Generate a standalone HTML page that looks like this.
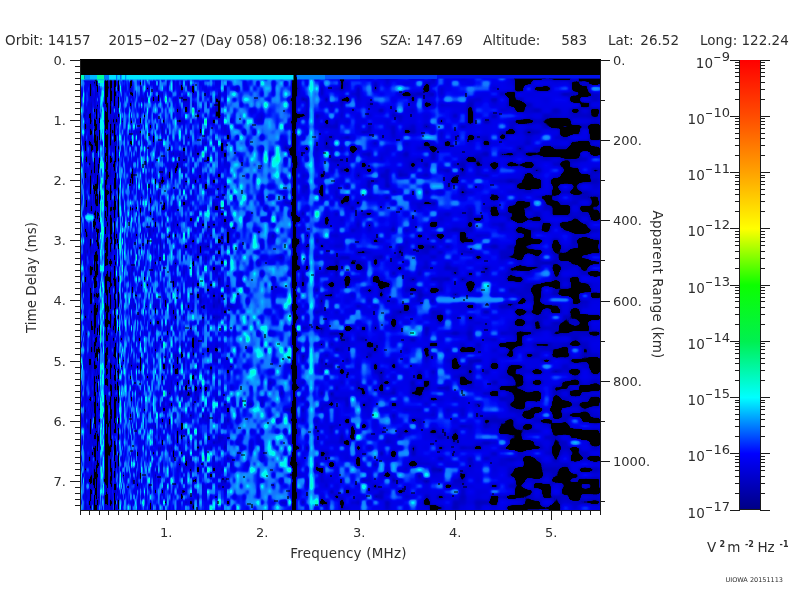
<!DOCTYPE html>
<html><head><meta charset="utf-8"><title>MARSIS AIS Ionogram</title>
<style>html,body{margin:0;padding:0;background:#fff;overflow:hidden}svg{display:block}text{font-family:'DejaVu Sans','Liberation Sans',sans-serif;fill:#2e2e2e}</style></head>
<body>
<svg width="800" height="600" viewBox="0 0 800 600">
<rect width="800" height="600" fill="#fff"/>
<rect x="80" y="59" width="521" height="452" fill="#000"/>
<defs>
<filter id="f0" filterUnits="userSpaceOnUse" x="80" y="75" width="46" height="436" color-interpolation-filters="sRGB"><feGaussianBlur stdDeviation="0.3 1.8" result="b"/><feComponentTransfer in="b"><feFuncR type="table" tableValues="0 0 0 0 0 0 0 0 0 0 0 0 0 0 0 0 0 0 0 0 0 0 0 0 0 0 0 0 0 0 0 0 0 0 0 0 0 0 0 0 0 0 0 0 0 0 0 0 0 0 0 0 0 0 0 0 0 0 0 0 0 0 0 0 0 0 0 0 0 0 0 0 0 0 0 0 0 0 0 0 0 0 0 0 0 0 0 0 0 0 0 0 0 0 0 0 0 0 0 0 0 0 0 0 0 0 0 0 0 0 0 0 0 0 0 0 0.002 0.004 0.006 0.008 0.01 0.012 0.014 0.016 0.018 0.02 0.025 0.029 0.034 0.038 0.043 0.048 0.052 0.057 0.062 0.066 0.071 0.075 0.08 0.079 0.078 0.076 0.075 0.074 0.073 0.072 0.071 0.069 0.068 0.067 0.066 0.065 0.064 0.062 0.061 0.06 0.054 0.048 0.042 0.036 0.03 0.024 0.018 0.012 0.006 0 0 0 0 0 0 0 0 0 0 0 0 0 0 0 0 0 0 0 0 0 0 0 0 0 0 0 0 0 0 0 0 0 0 0 0 0 0 0 0 0 0 0 0 0 0 0 0 0 0 0 0 0 0 0 0"/><feFuncG type="table" tableValues="0 0 0 0 0 0 0 0 0 0 0 0 0 0 0 0 0 0 0 0 0 0 0 0 0 0 0 0 0 0 0 0 0 0 0 0 0 0 0 0 0 0 0 0 0 0 0 0 0 0 0 0 0 0 0 0 0 0 0 0 0 0 0 0 0 0 0 0 0 0 0 0 0 0 0 0 0 0 0 0 0 0 0 0 0 0 0 0 0 0 0 0 0 0 0 0 0 0 0 0 0 0 0 0 0 0 0.006 0.012 0.018 0.024 0.03 0.036 0.042 0.048 0.054 0.06 0.074 0.088 0.102 0.116 0.13 0.144 0.158 0.172 0.186 0.2 0.219 0.238 0.258 0.277 0.296 0.315 0.335 0.354 0.373 0.392 0.412 0.431 0.45 0.459 0.468 0.476 0.485 0.494 0.503 0.512 0.521 0.529 0.538 0.547 0.556 0.565 0.574 0.582 0.591 0.6 0.62 0.64 0.66 0.68 0.7 0.72 0.74 0.76 0.78 0.8 0.838 0.875 0.913 0.95 0.952 0.955 0.957 0.96 0.962 0.964 0.967 0.969 0.971 0.974 0.976 0.979 0.981 0.983 0.986 0.988 0.99 0.993 0.995 0.998 1 1 1 1 1 1 1 1 1 1 1 1 1 1 1 1 1 1 1 1 1 1 1 1 1 1 1 1 1 1 1"/><feFuncB type="table" tableValues="0 0 0 0 0 0 0 0 0 0 0 0 0 0 0 0 0 0 0 0 0 0 0 0 0 0 0 0 0 0 0 0 0 0 0 0 0 0 0 0 0 0 0 0 0 0 0 0 0 0 0 0 0 0 0 0 0 0 0 0 0 0 0 0.185 0.555 0.743 0.75 0.757 0.764 0.771 0.778 0.784 0.791 0.798 0.805 0.812 0.819 0.825 0.832 0.839 0.846 0.853 0.86 0.866 0.873 0.88 0.883 0.886 0.889 0.892 0.895 0.898 0.901 0.904 0.907 0.91 0.913 0.916 0.919 0.922 0.925 0.928 0.931 0.934 0.937 0.94 0.944 0.948 0.952 0.956 0.96 0.964 0.968 0.972 0.976 0.98 0.982 0.984 0.986 0.988 0.99 0.992 0.994 0.996 0.998 1 1 1 1 1 1 1 1 1 1 1 1 1 1 1 1 1 1 1 1 1 1 1 1 1 1 1 1 1 1 1 1 1 1 1 1 1 1 1 1 1 1 1 1 1 0.993 0.986 0.979 0.971 0.964 0.957 0.95 0.943 0.936 0.929 0.921 0.914 0.907 0.9 0.893 0.886 0.879 0.871 0.864 0.857 0.85 0.842 0.833 0.825 0.817 0.808 0.8 0.792 0.783 0.775 0.767 0.758 0.75 0.742 0.733 0.725 0.717 0.708 0.7 0.692 0.683 0.675 0.667 0.658 0.65 0.642 0.633 0.625 0.617 0.608 0.6"/><feFuncA type="linear" slope="0" intercept="1"/></feComponentTransfer></filter>
<filter id="f1" filterUnits="userSpaceOnUse" x="126" y="75" width="54" height="436" color-interpolation-filters="sRGB"><feGaussianBlur stdDeviation="0.45 1.8" result="b"/><feComponentTransfer in="b"><feFuncR type="table" tableValues="0 0 0 0 0 0 0 0 0 0 0 0 0 0 0 0 0 0 0 0 0 0 0 0 0 0 0 0 0 0 0 0 0 0 0 0 0 0 0 0 0 0 0 0 0 0 0 0 0 0 0 0 0 0 0 0 0 0 0 0 0 0 0 0 0 0 0 0 0 0 0 0 0 0 0 0 0 0 0 0 0 0 0 0 0 0 0 0 0 0 0 0 0 0 0 0 0 0 0 0 0 0 0 0 0 0 0 0 0 0 0 0 0 0 0 0 0.002 0.004 0.006 0.008 0.01 0.012 0.014 0.016 0.018 0.02 0.025 0.029 0.034 0.038 0.043 0.048 0.052 0.057 0.062 0.066 0.071 0.075 0.08 0.079 0.078 0.076 0.075 0.074 0.073 0.072 0.071 0.069 0.068 0.067 0.066 0.065 0.064 0.062 0.061 0.06 0.054 0.048 0.042 0.036 0.03 0.024 0.018 0.012 0.006 0 0 0 0 0 0 0 0 0 0 0 0 0 0 0 0 0 0 0 0 0 0 0 0 0 0 0 0 0 0 0 0 0 0 0 0 0 0 0 0 0 0 0 0 0 0 0 0 0 0 0 0 0 0 0 0"/><feFuncG type="table" tableValues="0 0 0 0 0 0 0 0 0 0 0 0 0 0 0 0 0 0 0 0 0 0 0 0 0 0 0 0 0 0 0 0 0 0 0 0 0 0 0 0 0 0 0 0 0 0 0 0 0 0 0 0 0 0 0 0 0 0 0 0 0 0 0 0 0 0 0 0 0 0 0 0 0 0 0 0 0 0 0 0 0 0 0 0 0 0 0 0 0 0 0 0 0 0 0 0 0 0 0 0 0 0 0 0 0 0 0.006 0.012 0.018 0.024 0.03 0.036 0.042 0.048 0.054 0.06 0.074 0.088 0.102 0.116 0.13 0.144 0.158 0.172 0.186 0.2 0.219 0.238 0.258 0.277 0.296 0.315 0.335 0.354 0.373 0.392 0.412 0.431 0.45 0.459 0.468 0.476 0.485 0.494 0.503 0.512 0.521 0.529 0.538 0.547 0.556 0.565 0.574 0.582 0.591 0.6 0.62 0.64 0.66 0.68 0.7 0.72 0.74 0.76 0.78 0.8 0.838 0.875 0.913 0.95 0.952 0.955 0.957 0.96 0.962 0.964 0.967 0.969 0.971 0.974 0.976 0.979 0.981 0.983 0.986 0.988 0.99 0.993 0.995 0.998 1 1 1 1 1 1 1 1 1 1 1 1 1 1 1 1 1 1 1 1 1 1 1 1 1 1 1 1 1 1 1"/><feFuncB type="table" tableValues="0 0 0 0 0 0 0 0 0 0 0 0 0 0 0 0 0 0 0 0 0 0 0 0 0 0 0 0 0 0 0 0 0 0 0 0 0 0 0 0 0 0 0 0 0 0 0 0 0 0 0 0 0 0 0 0 0 0 0 0 0 0 0 0.185 0.555 0.743 0.75 0.757 0.764 0.771 0.778 0.784 0.791 0.798 0.805 0.812 0.819 0.825 0.832 0.839 0.846 0.853 0.86 0.866 0.873 0.88 0.883 0.886 0.889 0.892 0.895 0.898 0.901 0.904 0.907 0.91 0.913 0.916 0.919 0.922 0.925 0.928 0.931 0.934 0.937 0.94 0.944 0.948 0.952 0.956 0.96 0.964 0.968 0.972 0.976 0.98 0.982 0.984 0.986 0.988 0.99 0.992 0.994 0.996 0.998 1 1 1 1 1 1 1 1 1 1 1 1 1 1 1 1 1 1 1 1 1 1 1 1 1 1 1 1 1 1 1 1 1 1 1 1 1 1 1 1 1 1 1 1 1 0.993 0.986 0.979 0.971 0.964 0.957 0.95 0.943 0.936 0.929 0.921 0.914 0.907 0.9 0.893 0.886 0.879 0.871 0.864 0.857 0.85 0.842 0.833 0.825 0.817 0.808 0.8 0.792 0.783 0.775 0.767 0.758 0.75 0.742 0.733 0.725 0.717 0.708 0.7 0.692 0.683 0.675 0.667 0.658 0.65 0.642 0.633 0.625 0.617 0.608 0.6"/><feFuncA type="linear" slope="0" intercept="1"/></feComponentTransfer></filter>
<filter id="f2" filterUnits="userSpaceOnUse" x="180" y="75" width="50" height="436" color-interpolation-filters="sRGB"><feGaussianBlur stdDeviation="0.65 1.8" result="b"/><feComponentTransfer in="b"><feFuncR type="table" tableValues="0 0 0 0 0 0 0 0 0 0 0 0 0 0 0 0 0 0 0 0 0 0 0 0 0 0 0 0 0 0 0 0 0 0 0 0 0 0 0 0 0 0 0 0 0 0 0 0 0 0 0 0 0 0 0 0 0 0 0 0 0 0 0 0 0 0 0 0 0 0 0 0 0 0 0 0 0 0 0 0 0 0 0 0 0 0 0 0 0 0 0 0 0 0 0 0 0 0 0 0 0 0 0 0 0 0 0 0 0 0 0 0 0 0 0 0 0.002 0.004 0.006 0.008 0.01 0.012 0.014 0.016 0.018 0.02 0.025 0.029 0.034 0.038 0.043 0.048 0.052 0.057 0.062 0.066 0.071 0.075 0.08 0.079 0.078 0.076 0.075 0.074 0.073 0.072 0.071 0.069 0.068 0.067 0.066 0.065 0.064 0.062 0.061 0.06 0.054 0.048 0.042 0.036 0.03 0.024 0.018 0.012 0.006 0 0 0 0 0 0 0 0 0 0 0 0 0 0 0 0 0 0 0 0 0 0 0 0 0 0 0 0 0 0 0 0 0 0 0 0 0 0 0 0 0 0 0 0 0 0 0 0 0 0 0 0 0 0 0 0"/><feFuncG type="table" tableValues="0 0 0 0 0 0 0 0 0 0 0 0 0 0 0 0 0 0 0 0 0 0 0 0 0 0 0 0 0 0 0 0 0 0 0 0 0 0 0 0 0 0 0 0 0 0 0 0 0 0 0 0 0 0 0 0 0 0 0 0 0 0 0 0 0 0 0 0 0 0 0 0 0 0 0 0 0 0 0 0 0 0 0 0 0 0 0 0 0 0 0 0 0 0 0 0 0 0 0 0 0 0 0 0 0 0 0.006 0.012 0.018 0.024 0.03 0.036 0.042 0.048 0.054 0.06 0.074 0.088 0.102 0.116 0.13 0.144 0.158 0.172 0.186 0.2 0.219 0.238 0.258 0.277 0.296 0.315 0.335 0.354 0.373 0.392 0.412 0.431 0.45 0.459 0.468 0.476 0.485 0.494 0.503 0.512 0.521 0.529 0.538 0.547 0.556 0.565 0.574 0.582 0.591 0.6 0.62 0.64 0.66 0.68 0.7 0.72 0.74 0.76 0.78 0.8 0.838 0.875 0.913 0.95 0.952 0.955 0.957 0.96 0.962 0.964 0.967 0.969 0.971 0.974 0.976 0.979 0.981 0.983 0.986 0.988 0.99 0.993 0.995 0.998 1 1 1 1 1 1 1 1 1 1 1 1 1 1 1 1 1 1 1 1 1 1 1 1 1 1 1 1 1 1 1"/><feFuncB type="table" tableValues="0 0 0 0 0 0 0 0 0 0 0 0 0 0 0 0 0 0 0 0 0 0 0 0 0 0 0 0 0 0 0 0 0 0 0 0 0 0 0 0 0 0 0 0 0 0 0 0 0 0 0 0 0 0 0 0 0 0 0 0 0 0 0 0.185 0.555 0.743 0.75 0.757 0.764 0.771 0.778 0.784 0.791 0.798 0.805 0.812 0.819 0.825 0.832 0.839 0.846 0.853 0.86 0.866 0.873 0.88 0.883 0.886 0.889 0.892 0.895 0.898 0.901 0.904 0.907 0.91 0.913 0.916 0.919 0.922 0.925 0.928 0.931 0.934 0.937 0.94 0.944 0.948 0.952 0.956 0.96 0.964 0.968 0.972 0.976 0.98 0.982 0.984 0.986 0.988 0.99 0.992 0.994 0.996 0.998 1 1 1 1 1 1 1 1 1 1 1 1 1 1 1 1 1 1 1 1 1 1 1 1 1 1 1 1 1 1 1 1 1 1 1 1 1 1 1 1 1 1 1 1 1 0.993 0.986 0.979 0.971 0.964 0.957 0.95 0.943 0.936 0.929 0.921 0.914 0.907 0.9 0.893 0.886 0.879 0.871 0.864 0.857 0.85 0.842 0.833 0.825 0.817 0.808 0.8 0.792 0.783 0.775 0.767 0.758 0.75 0.742 0.733 0.725 0.717 0.708 0.7 0.692 0.683 0.675 0.667 0.658 0.65 0.642 0.633 0.625 0.617 0.608 0.6"/><feFuncA type="linear" slope="0" intercept="1"/></feComponentTransfer></filter>
<filter id="f3" filterUnits="userSpaceOnUse" x="230" y="75" width="67" height="436" color-interpolation-filters="sRGB"><feGaussianBlur stdDeviation="0.95 1.8" result="b"/><feComponentTransfer in="b"><feFuncR type="table" tableValues="0 0 0 0 0 0 0 0 0 0 0 0 0 0 0 0 0 0 0 0 0 0 0 0 0 0 0 0 0 0 0 0 0 0 0 0 0 0 0 0 0 0 0 0 0 0 0 0 0 0 0 0 0 0 0 0 0 0 0 0 0 0 0 0 0 0 0 0 0 0 0 0 0 0 0 0 0 0 0 0 0 0 0 0 0 0 0 0 0 0 0 0 0 0 0 0 0 0 0 0 0 0 0 0 0 0 0 0 0 0 0 0 0 0 0 0 0.002 0.004 0.006 0.008 0.01 0.012 0.014 0.016 0.018 0.02 0.025 0.029 0.034 0.038 0.043 0.048 0.052 0.057 0.062 0.066 0.071 0.075 0.08 0.079 0.078 0.076 0.075 0.074 0.073 0.072 0.071 0.069 0.068 0.067 0.066 0.065 0.064 0.062 0.061 0.06 0.054 0.048 0.042 0.036 0.03 0.024 0.018 0.012 0.006 0 0 0 0 0 0 0 0 0 0 0 0 0 0 0 0 0 0 0 0 0 0 0 0 0 0 0 0 0 0 0 0 0 0 0 0 0 0 0 0 0 0 0 0 0 0 0 0 0 0 0 0 0 0 0 0"/><feFuncG type="table" tableValues="0 0 0 0 0 0 0 0 0 0 0 0 0 0 0 0 0 0 0 0 0 0 0 0 0 0 0 0 0 0 0 0 0 0 0 0 0 0 0 0 0 0 0 0 0 0 0 0 0 0 0 0 0 0 0 0 0 0 0 0 0 0 0 0 0 0 0 0 0 0 0 0 0 0 0 0 0 0 0 0 0 0 0 0 0 0 0 0 0 0 0 0 0 0 0 0 0 0 0 0 0 0 0 0 0 0 0.006 0.012 0.018 0.024 0.03 0.036 0.042 0.048 0.054 0.06 0.074 0.088 0.102 0.116 0.13 0.144 0.158 0.172 0.186 0.2 0.219 0.238 0.258 0.277 0.296 0.315 0.335 0.354 0.373 0.392 0.412 0.431 0.45 0.459 0.468 0.476 0.485 0.494 0.503 0.512 0.521 0.529 0.538 0.547 0.556 0.565 0.574 0.582 0.591 0.6 0.62 0.64 0.66 0.68 0.7 0.72 0.74 0.76 0.78 0.8 0.838 0.875 0.913 0.95 0.952 0.955 0.957 0.96 0.962 0.964 0.967 0.969 0.971 0.974 0.976 0.979 0.981 0.983 0.986 0.988 0.99 0.993 0.995 0.998 1 1 1 1 1 1 1 1 1 1 1 1 1 1 1 1 1 1 1 1 1 1 1 1 1 1 1 1 1 1 1"/><feFuncB type="table" tableValues="0 0 0 0 0 0 0 0 0 0 0 0 0 0 0 0 0 0 0 0 0 0 0 0 0 0 0 0 0 0 0 0 0 0 0 0 0 0 0 0 0 0 0 0 0 0 0 0 0 0 0 0 0 0 0 0 0 0 0 0 0 0 0 0.185 0.555 0.743 0.75 0.757 0.764 0.771 0.778 0.784 0.791 0.798 0.805 0.812 0.819 0.825 0.832 0.839 0.846 0.853 0.86 0.866 0.873 0.88 0.883 0.886 0.889 0.892 0.895 0.898 0.901 0.904 0.907 0.91 0.913 0.916 0.919 0.922 0.925 0.928 0.931 0.934 0.937 0.94 0.944 0.948 0.952 0.956 0.96 0.964 0.968 0.972 0.976 0.98 0.982 0.984 0.986 0.988 0.99 0.992 0.994 0.996 0.998 1 1 1 1 1 1 1 1 1 1 1 1 1 1 1 1 1 1 1 1 1 1 1 1 1 1 1 1 1 1 1 1 1 1 1 1 1 1 1 1 1 1 1 1 1 0.993 0.986 0.979 0.971 0.964 0.957 0.95 0.943 0.936 0.929 0.921 0.914 0.907 0.9 0.893 0.886 0.879 0.871 0.864 0.857 0.85 0.842 0.833 0.825 0.817 0.808 0.8 0.792 0.783 0.775 0.767 0.758 0.75 0.742 0.733 0.725 0.717 0.708 0.7 0.692 0.683 0.675 0.667 0.658 0.65 0.642 0.633 0.625 0.617 0.608 0.6"/><feFuncA type="linear" slope="0" intercept="1"/></feComponentTransfer></filter>
<filter id="f4" filterUnits="userSpaceOnUse" x="297" y="75" width="63" height="436" color-interpolation-filters="sRGB"><feGaussianBlur stdDeviation="1.2 1.8" result="b"/><feComponentTransfer in="b"><feFuncR type="table" tableValues="0 0 0 0 0 0 0 0 0 0 0 0 0 0 0 0 0 0 0 0 0 0 0 0 0 0 0 0 0 0 0 0 0 0 0 0 0 0 0 0 0 0 0 0 0 0 0 0 0 0 0 0 0 0 0 0 0 0 0 0 0 0 0 0 0 0 0 0 0 0 0 0 0 0 0 0 0 0 0 0 0 0 0 0 0 0 0 0 0 0 0 0 0 0 0 0 0 0 0 0 0 0 0 0 0 0 0 0 0 0 0 0 0 0 0 0 0.002 0.004 0.006 0.008 0.01 0.012 0.014 0.016 0.018 0.02 0.025 0.029 0.034 0.038 0.043 0.048 0.052 0.057 0.062 0.066 0.071 0.075 0.08 0.079 0.078 0.076 0.075 0.074 0.073 0.072 0.071 0.069 0.068 0.067 0.066 0.065 0.064 0.062 0.061 0.06 0.054 0.048 0.042 0.036 0.03 0.024 0.018 0.012 0.006 0 0 0 0 0 0 0 0 0 0 0 0 0 0 0 0 0 0 0 0 0 0 0 0 0 0 0 0 0 0 0 0 0 0 0 0 0 0 0 0 0 0 0 0 0 0 0 0 0 0 0 0 0 0 0 0"/><feFuncG type="table" tableValues="0 0 0 0 0 0 0 0 0 0 0 0 0 0 0 0 0 0 0 0 0 0 0 0 0 0 0 0 0 0 0 0 0 0 0 0 0 0 0 0 0 0 0 0 0 0 0 0 0 0 0 0 0 0 0 0 0 0 0 0 0 0 0 0 0 0 0 0 0 0 0 0 0 0 0 0 0 0 0 0 0 0 0 0 0 0 0 0 0 0 0 0 0 0 0 0 0 0 0 0 0 0 0 0 0 0 0.006 0.012 0.018 0.024 0.03 0.036 0.042 0.048 0.054 0.06 0.074 0.088 0.102 0.116 0.13 0.144 0.158 0.172 0.186 0.2 0.219 0.238 0.258 0.277 0.296 0.315 0.335 0.354 0.373 0.392 0.412 0.431 0.45 0.459 0.468 0.476 0.485 0.494 0.503 0.512 0.521 0.529 0.538 0.547 0.556 0.565 0.574 0.582 0.591 0.6 0.62 0.64 0.66 0.68 0.7 0.72 0.74 0.76 0.78 0.8 0.838 0.875 0.913 0.95 0.952 0.955 0.957 0.96 0.962 0.964 0.967 0.969 0.971 0.974 0.976 0.979 0.981 0.983 0.986 0.988 0.99 0.993 0.995 0.998 1 1 1 1 1 1 1 1 1 1 1 1 1 1 1 1 1 1 1 1 1 1 1 1 1 1 1 1 1 1 1"/><feFuncB type="table" tableValues="0 0 0 0 0 0 0 0 0 0 0 0 0 0 0 0 0 0 0 0 0 0 0 0 0 0 0 0 0 0 0 0 0 0 0 0 0 0 0 0 0 0 0 0 0 0 0 0 0 0 0 0 0 0 0 0 0 0 0 0 0 0 0 0.185 0.555 0.743 0.75 0.757 0.764 0.771 0.778 0.784 0.791 0.798 0.805 0.812 0.819 0.825 0.832 0.839 0.846 0.853 0.86 0.866 0.873 0.88 0.883 0.886 0.889 0.892 0.895 0.898 0.901 0.904 0.907 0.91 0.913 0.916 0.919 0.922 0.925 0.928 0.931 0.934 0.937 0.94 0.944 0.948 0.952 0.956 0.96 0.964 0.968 0.972 0.976 0.98 0.982 0.984 0.986 0.988 0.99 0.992 0.994 0.996 0.998 1 1 1 1 1 1 1 1 1 1 1 1 1 1 1 1 1 1 1 1 1 1 1 1 1 1 1 1 1 1 1 1 1 1 1 1 1 1 1 1 1 1 1 1 1 0.993 0.986 0.979 0.971 0.964 0.957 0.95 0.943 0.936 0.929 0.921 0.914 0.907 0.9 0.893 0.886 0.879 0.871 0.864 0.857 0.85 0.842 0.833 0.825 0.817 0.808 0.8 0.792 0.783 0.775 0.767 0.758 0.75 0.742 0.733 0.725 0.717 0.708 0.7 0.692 0.683 0.675 0.667 0.658 0.65 0.642 0.633 0.625 0.617 0.608 0.6"/><feFuncA type="linear" slope="0" intercept="1"/></feComponentTransfer></filter>
<filter id="f5" filterUnits="userSpaceOnUse" x="360" y="75" width="80" height="436" color-interpolation-filters="sRGB"><feGaussianBlur stdDeviation="1.5 1.8" result="b"/><feComponentTransfer in="b"><feFuncR type="table" tableValues="0 0 0 0 0 0 0 0 0 0 0 0 0 0 0 0 0 0 0 0 0 0 0 0 0 0 0 0 0 0 0 0 0 0 0 0 0 0 0 0 0 0 0 0 0 0 0 0 0 0 0 0 0 0 0 0 0 0 0 0 0 0 0 0 0 0 0 0 0 0 0 0 0 0 0 0 0 0 0 0 0 0 0 0 0 0 0 0 0 0 0 0 0 0 0 0 0 0 0 0 0 0 0 0 0 0 0 0 0 0 0 0 0 0 0 0 0.002 0.004 0.006 0.008 0.01 0.012 0.014 0.016 0.018 0.02 0.025 0.029 0.034 0.038 0.043 0.048 0.052 0.057 0.062 0.066 0.071 0.075 0.08 0.079 0.078 0.076 0.075 0.074 0.073 0.072 0.071 0.069 0.068 0.067 0.066 0.065 0.064 0.062 0.061 0.06 0.054 0.048 0.042 0.036 0.03 0.024 0.018 0.012 0.006 0 0 0 0 0 0 0 0 0 0 0 0 0 0 0 0 0 0 0 0 0 0 0 0 0 0 0 0 0 0 0 0 0 0 0 0 0 0 0 0 0 0 0 0 0 0 0 0 0 0 0 0 0 0 0 0"/><feFuncG type="table" tableValues="0 0 0 0 0 0 0 0 0 0 0 0 0 0 0 0 0 0 0 0 0 0 0 0 0 0 0 0 0 0 0 0 0 0 0 0 0 0 0 0 0 0 0 0 0 0 0 0 0 0 0 0 0 0 0 0 0 0 0 0 0 0 0 0 0 0 0 0 0 0 0 0 0 0 0 0 0 0 0 0 0 0 0 0 0 0 0 0 0 0 0 0 0 0 0 0 0 0 0 0 0 0 0 0 0 0 0.006 0.012 0.018 0.024 0.03 0.036 0.042 0.048 0.054 0.06 0.074 0.088 0.102 0.116 0.13 0.144 0.158 0.172 0.186 0.2 0.219 0.238 0.258 0.277 0.296 0.315 0.335 0.354 0.373 0.392 0.412 0.431 0.45 0.459 0.468 0.476 0.485 0.494 0.503 0.512 0.521 0.529 0.538 0.547 0.556 0.565 0.574 0.582 0.591 0.6 0.62 0.64 0.66 0.68 0.7 0.72 0.74 0.76 0.78 0.8 0.838 0.875 0.913 0.95 0.952 0.955 0.957 0.96 0.962 0.964 0.967 0.969 0.971 0.974 0.976 0.979 0.981 0.983 0.986 0.988 0.99 0.993 0.995 0.998 1 1 1 1 1 1 1 1 1 1 1 1 1 1 1 1 1 1 1 1 1 1 1 1 1 1 1 1 1 1 1"/><feFuncB type="table" tableValues="0 0 0 0 0 0 0 0 0 0 0 0 0 0 0 0 0 0 0 0 0 0 0 0 0 0 0 0 0 0 0 0 0 0 0 0 0 0 0 0 0 0 0 0 0 0 0 0 0 0 0 0 0 0 0 0 0 0 0 0 0 0 0 0.185 0.555 0.743 0.75 0.757 0.764 0.771 0.778 0.784 0.791 0.798 0.805 0.812 0.819 0.825 0.832 0.839 0.846 0.853 0.86 0.866 0.873 0.88 0.883 0.886 0.889 0.892 0.895 0.898 0.901 0.904 0.907 0.91 0.913 0.916 0.919 0.922 0.925 0.928 0.931 0.934 0.937 0.94 0.944 0.948 0.952 0.956 0.96 0.964 0.968 0.972 0.976 0.98 0.982 0.984 0.986 0.988 0.99 0.992 0.994 0.996 0.998 1 1 1 1 1 1 1 1 1 1 1 1 1 1 1 1 1 1 1 1 1 1 1 1 1 1 1 1 1 1 1 1 1 1 1 1 1 1 1 1 1 1 1 1 1 0.993 0.986 0.979 0.971 0.964 0.957 0.95 0.943 0.936 0.929 0.921 0.914 0.907 0.9 0.893 0.886 0.879 0.871 0.864 0.857 0.85 0.842 0.833 0.825 0.817 0.808 0.8 0.792 0.783 0.775 0.767 0.758 0.75 0.742 0.733 0.725 0.717 0.708 0.7 0.692 0.683 0.675 0.667 0.658 0.65 0.642 0.633 0.625 0.617 0.608 0.6"/><feFuncA type="linear" slope="0" intercept="1"/></feComponentTransfer></filter>
<filter id="f6" filterUnits="userSpaceOnUse" x="440" y="75" width="63" height="436" color-interpolation-filters="sRGB"><feGaussianBlur stdDeviation="1.8 1.8" result="b"/><feComponentTransfer in="b"><feFuncR type="table" tableValues="0 0 0 0 0 0 0 0 0 0 0 0 0 0 0 0 0 0 0 0 0 0 0 0 0 0 0 0 0 0 0 0 0 0 0 0 0 0 0 0 0 0 0 0 0 0 0 0 0 0 0 0 0 0 0 0 0 0 0 0 0 0 0 0 0 0 0 0 0 0 0 0 0 0 0 0 0 0 0 0 0 0 0 0 0 0 0 0 0 0 0 0 0 0 0 0 0 0 0 0 0 0 0 0 0 0 0 0 0 0 0 0 0 0 0 0 0.002 0.004 0.006 0.008 0.01 0.012 0.014 0.016 0.018 0.02 0.025 0.029 0.034 0.038 0.043 0.048 0.052 0.057 0.062 0.066 0.071 0.075 0.08 0.079 0.078 0.076 0.075 0.074 0.073 0.072 0.071 0.069 0.068 0.067 0.066 0.065 0.064 0.062 0.061 0.06 0.054 0.048 0.042 0.036 0.03 0.024 0.018 0.012 0.006 0 0 0 0 0 0 0 0 0 0 0 0 0 0 0 0 0 0 0 0 0 0 0 0 0 0 0 0 0 0 0 0 0 0 0 0 0 0 0 0 0 0 0 0 0 0 0 0 0 0 0 0 0 0 0 0"/><feFuncG type="table" tableValues="0 0 0 0 0 0 0 0 0 0 0 0 0 0 0 0 0 0 0 0 0 0 0 0 0 0 0 0 0 0 0 0 0 0 0 0 0 0 0 0 0 0 0 0 0 0 0 0 0 0 0 0 0 0 0 0 0 0 0 0 0 0 0 0 0 0 0 0 0 0 0 0 0 0 0 0 0 0 0 0 0 0 0 0 0 0 0 0 0 0 0 0 0 0 0 0 0 0 0 0 0 0 0 0 0 0 0.006 0.012 0.018 0.024 0.03 0.036 0.042 0.048 0.054 0.06 0.074 0.088 0.102 0.116 0.13 0.144 0.158 0.172 0.186 0.2 0.219 0.238 0.258 0.277 0.296 0.315 0.335 0.354 0.373 0.392 0.412 0.431 0.45 0.459 0.468 0.476 0.485 0.494 0.503 0.512 0.521 0.529 0.538 0.547 0.556 0.565 0.574 0.582 0.591 0.6 0.62 0.64 0.66 0.68 0.7 0.72 0.74 0.76 0.78 0.8 0.838 0.875 0.913 0.95 0.952 0.955 0.957 0.96 0.962 0.964 0.967 0.969 0.971 0.974 0.976 0.979 0.981 0.983 0.986 0.988 0.99 0.993 0.995 0.998 1 1 1 1 1 1 1 1 1 1 1 1 1 1 1 1 1 1 1 1 1 1 1 1 1 1 1 1 1 1 1"/><feFuncB type="table" tableValues="0 0 0 0 0 0 0 0 0 0 0 0 0 0 0 0 0 0 0 0 0 0 0 0 0 0 0 0 0 0 0 0 0 0 0 0 0 0 0 0 0 0 0 0 0 0 0 0 0 0 0 0 0 0 0 0 0 0 0 0 0 0 0 0.185 0.555 0.743 0.75 0.757 0.764 0.771 0.778 0.784 0.791 0.798 0.805 0.812 0.819 0.825 0.832 0.839 0.846 0.853 0.86 0.866 0.873 0.88 0.883 0.886 0.889 0.892 0.895 0.898 0.901 0.904 0.907 0.91 0.913 0.916 0.919 0.922 0.925 0.928 0.931 0.934 0.937 0.94 0.944 0.948 0.952 0.956 0.96 0.964 0.968 0.972 0.976 0.98 0.982 0.984 0.986 0.988 0.99 0.992 0.994 0.996 0.998 1 1 1 1 1 1 1 1 1 1 1 1 1 1 1 1 1 1 1 1 1 1 1 1 1 1 1 1 1 1 1 1 1 1 1 1 1 1 1 1 1 1 1 1 1 0.993 0.986 0.979 0.971 0.964 0.957 0.95 0.943 0.936 0.929 0.921 0.914 0.907 0.9 0.893 0.886 0.879 0.871 0.864 0.857 0.85 0.842 0.833 0.825 0.817 0.808 0.8 0.792 0.783 0.775 0.767 0.758 0.75 0.742 0.733 0.725 0.717 0.708 0.7 0.692 0.683 0.675 0.667 0.658 0.65 0.642 0.633 0.625 0.617 0.608 0.6"/><feFuncA type="linear" slope="0" intercept="1"/></feComponentTransfer></filter>
<filter id="f7" filterUnits="userSpaceOnUse" x="503" y="75" width="98" height="436" color-interpolation-filters="sRGB"><feGaussianBlur stdDeviation="2.2 1.8" result="b"/><feComponentTransfer in="b"><feFuncR type="table" tableValues="0 0 0 0 0 0 0 0 0 0 0 0 0 0 0 0 0 0 0 0 0 0 0 0 0 0 0 0 0 0 0 0 0 0 0 0 0 0 0 0 0 0 0 0 0 0 0 0 0 0 0 0 0 0 0 0 0 0 0 0 0 0 0 0 0 0 0 0 0 0 0 0 0 0 0 0 0 0 0 0 0 0 0 0 0 0 0 0 0 0 0 0 0 0 0 0 0 0 0 0 0 0 0 0 0 0 0 0 0 0 0 0 0 0 0 0 0.002 0.004 0.006 0.008 0.01 0.012 0.014 0.016 0.018 0.02 0.025 0.029 0.034 0.038 0.043 0.048 0.052 0.057 0.062 0.066 0.071 0.075 0.08 0.079 0.078 0.076 0.075 0.074 0.073 0.072 0.071 0.069 0.068 0.067 0.066 0.065 0.064 0.062 0.061 0.06 0.054 0.048 0.042 0.036 0.03 0.024 0.018 0.012 0.006 0 0 0 0 0 0 0 0 0 0 0 0 0 0 0 0 0 0 0 0 0 0 0 0 0 0 0 0 0 0 0 0 0 0 0 0 0 0 0 0 0 0 0 0 0 0 0 0 0 0 0 0 0 0 0 0"/><feFuncG type="table" tableValues="0 0 0 0 0 0 0 0 0 0 0 0 0 0 0 0 0 0 0 0 0 0 0 0 0 0 0 0 0 0 0 0 0 0 0 0 0 0 0 0 0 0 0 0 0 0 0 0 0 0 0 0 0 0 0 0 0 0 0 0 0 0 0 0 0 0 0 0 0 0 0 0 0 0 0 0 0 0 0 0 0 0 0 0 0 0 0 0 0 0 0 0 0 0 0 0 0 0 0 0 0 0 0 0 0 0 0.006 0.012 0.018 0.024 0.03 0.036 0.042 0.048 0.054 0.06 0.074 0.088 0.102 0.116 0.13 0.144 0.158 0.172 0.186 0.2 0.219 0.238 0.258 0.277 0.296 0.315 0.335 0.354 0.373 0.392 0.412 0.431 0.45 0.459 0.468 0.476 0.485 0.494 0.503 0.512 0.521 0.529 0.538 0.547 0.556 0.565 0.574 0.582 0.591 0.6 0.62 0.64 0.66 0.68 0.7 0.72 0.74 0.76 0.78 0.8 0.838 0.875 0.913 0.95 0.952 0.955 0.957 0.96 0.962 0.964 0.967 0.969 0.971 0.974 0.976 0.979 0.981 0.983 0.986 0.988 0.99 0.993 0.995 0.998 1 1 1 1 1 1 1 1 1 1 1 1 1 1 1 1 1 1 1 1 1 1 1 1 1 1 1 1 1 1 1"/><feFuncB type="table" tableValues="0 0 0 0 0 0 0 0 0 0 0 0 0 0 0 0 0 0 0 0 0 0 0 0 0 0 0 0 0 0 0 0 0 0 0 0 0 0 0 0 0 0 0 0 0 0 0 0 0 0 0 0 0 0 0 0 0 0 0 0 0 0 0 0.185 0.555 0.743 0.75 0.757 0.764 0.771 0.778 0.784 0.791 0.798 0.805 0.812 0.819 0.825 0.832 0.839 0.846 0.853 0.86 0.866 0.873 0.88 0.883 0.886 0.889 0.892 0.895 0.898 0.901 0.904 0.907 0.91 0.913 0.916 0.919 0.922 0.925 0.928 0.931 0.934 0.937 0.94 0.944 0.948 0.952 0.956 0.96 0.964 0.968 0.972 0.976 0.98 0.982 0.984 0.986 0.988 0.99 0.992 0.994 0.996 0.998 1 1 1 1 1 1 1 1 1 1 1 1 1 1 1 1 1 1 1 1 1 1 1 1 1 1 1 1 1 1 1 1 1 1 1 1 1 1 1 1 1 1 1 1 1 0.993 0.986 0.979 0.971 0.964 0.957 0.95 0.943 0.936 0.929 0.921 0.914 0.907 0.9 0.893 0.886 0.879 0.871 0.864 0.857 0.85 0.842 0.833 0.825 0.817 0.808 0.8 0.792 0.783 0.775 0.767 0.758 0.75 0.742 0.733 0.725 0.717 0.708 0.7 0.692 0.683 0.675 0.667 0.658 0.65 0.642 0.633 0.625 0.617 0.608 0.6"/><feFuncA type="linear" slope="0" intercept="1"/></feComponentTransfer></filter>
<g id="src" fill="none" stroke-width="5.75"><rect x="70" y="65" width="541" height="456" fill="rgb(118,118,118)" stroke="none"/><path stroke="rgb(0,0,0)" d="M94.7 77.7h1.2M579.9 77.7h10.1M104.2 83.2h1.2M107.4 83.2h1.2M110.5 83.2h1.2M104.2 88.6h1.2M191.9 88.6h2.5M106.3 94.1h1.2M109.5 110.4h1.2M104.2 115.8h1.2M93.7 121.3h1.2M291.9 121.3h4.5M94.7 126.7h1.2M90.5 132.2h1.2M560.5 132.2h9.7M96.9 143.1h1.2M107.4 143.1h1.2M109.5 143.1h1.2M90.5 148.5h1.2M107.4 148.5h1.2M349.9 148.5h5.6M106.3 175.7h1.2M106.3 181.2h1.2M89.5 186.6h1.2M104.2 186.6h1.2M89.5 192.1h1.2M105.3 192.1h1.2M291.9 192.1h4.5M96.9 203h1.2M105.3 203h1.2M113.7 203h1.2M107.4 208.4h1.2M104.2 213.8h1.2M291.9 213.8h4.5M110.5 219.3h1.2M296.2 219.3h4.6M104.2 230.2h2.3M110.5 235.6h1.2M106.3 241.1h1.2M291.9 241.1h4.5M104.2 246.5h1.2M109.5 246.5h1.2M113.7 246.5h1.2M93.7 262.9h1.2M579.9 262.9h10.1M104.2 279.2h1.2M291.9 279.2h4.5M372.4 279.2h6.1M88.4 284.6h1.2M105.3 284.6h1.2M291.9 284.6h4.5M89.5 290.1h1.2M104.2 301h1.2M291.9 306.4h4.5M104.2 317.3h1.2M110.5 317.3h1.2M106.3 322.7h1.2M114.8 328.2h1.2M291.9 328.2h4.5M291.9 333.6h4.5M291.9 339.1h4.5M93.7 344.5h1.2M97.9 350h1.2M106.3 350h1.2M106.3 360.9h1.2M163 366.3h2M291.9 366.3h4.5M109.5 371.8h1.2M114.8 371.8h1.2M291.9 371.8h4.5M104.2 377.2h1.2M106.3 382.6h1.2M110.5 388.1h1.2M110.5 393.5h1.2M105.3 399h1.2M515.3 404.4h8.9M110.5 415.3h1.2M104.2 420.8h1.2M109.5 420.8h1.2M291.9 420.8h4.5M104.2 426.2h1.2M180.7 426.2h2.3M291.9 426.2h4.5M89.5 431.6h1.2M104.2 431.6h1.2M291.9 431.6h4.5M110.5 437.1h1.2M104.2 442.5h1.2M110.5 442.5h1.2M110.5 448h1.2M114.8 448h1.2M515.3 448h8.9M106.3 458.9h1.2M105.3 464.3h1.2M109.5 464.3h1.2M329 464.3h5.2M107.4 469.8h1.2M291.9 469.8h4.5M93.7 475.2h1.2M106.3 475.2h1.2M110.5 475.2h1.2M515.3 475.2h8.9M90.5 480.7h1.2M109.5 480.7h1.2M107.4 502.4h1.2M291.9 502.4h4.5M551.1 507.9h9.6"/><path stroke="rgb(7,7,7)" d="M109.5 83.2h1.2M90.5 88.6h1.2M89.5 94.1h1.2M104.2 99.5h1.2M117.9 99.5h1.2M117.9 104.9h1.2M291.9 104.9h4.5M105.3 115.8h1.2M106.3 121.3h1.2M93.7 137.6h1.2M105.3 137.6h1.2M291.9 137.6h4.5M94.7 143.1h1.2M291.9 143.1h4.5M95.8 148.5h1.2M110.5 159.4h1.2M291.9 159.4h4.5M113.7 164.8h1.2M168.6 175.7h2.1M291.9 175.7h4.5M113.7 213.8h1.2M309.7 213.8h4.8M515.3 219.3h8.9M560.5 224.7h9.7M110.5 230.2h1.2M87.4 252h1.2M104.2 262.9h1.2M110.5 262.9h1.2M291.9 262.9h4.5M104.2 268.3h1.2M109.5 268.3h1.2M291.9 268.3h4.5M291.9 295.5h4.5M515.3 301h8.9M106.3 317.3h1.2M114.8 317.3h1.2M105.3 322.7h1.2M107.4 322.7h1.2M85.3 333.6h1.2M138.3 339.1h1.5M104.2 344.5h1.2M466.5 350h7.9M291.9 360.9h4.5M291.9 377.2h4.5M114.8 388.1h1.2M291.9 404.4h4.5M106.3 409.9h1.2M551.1 409.9h9.6M524 415.3h9M94.7 420.8h1.2M114.8 426.2h1.2M117.9 431.6h1.2M579.9 437.1h10.1M106.3 442.5h1.2M106.3 448h1.2M113.7 448h1.2M93.7 453.4h1.2M291.9 458.9h4.5M107.4 475.2h1.2M123.2 475.2h1.2M104.2 480.7h1.2M515.3 491.5h8.9M107.4 497h1.2M291.9 497h4.5M291.9 507.9h4.5"/><path stroke="rgb(14,14,14)" d="M105.3 77.7h1.2M107.4 77.7h1.2M291.9 77.7h4.5M89.5 88.6h1.2M110.5 88.6h1.2M117.9 88.6h1.2M109.5 99.5h1.2M185 110.4h2.4M291.9 110.4h4.5M90.5 121.3h1.2M104.2 121.3h1.2M107.4 121.3h1.2M551.1 121.3h9.6M105.3 126.7h1.2M589.8 132.2h11.3M107.4 137.6h1.2M96.9 148.5h1.2M114.8 154h1.2M109.5 159.4h1.2M106.3 170.3h1.2M87.4 181.2h1.2M96.9 181.2h1.2M551.1 181.2h9.6M204.2 186.6h2.8M107.4 192.1h1.2M110.5 192.1h1.2M95.8 203h1.2M291.9 203h4.5M107.4 213.8h1.2M291.9 219.3h4.5M93.7 224.7h1.2M110.5 224.7h1.2M429.9 224.7h7.2M85.3 230.2h1.2M107.4 241.1h1.2M105.3 257.4h1.2M560.5 257.4h9.7M109.5 262.9h1.2M96.9 268.3h1.2M589.8 273.7h11.3M466.5 284.6h7.9M579.9 290.1h10.1M291.9 301h4.5M105.3 306.4h1.2M579.9 317.3h10.1M109.5 328.2h1.2M344.5 328.2h5.5M106.3 339.1h1.2M114.8 344.5h1.2M107.4 350h1.2M176.5 371.8h2.2M107.4 382.6h1.2M96.9 388.1h1.2M117.9 399h1.2M109.5 404.4h1.2M110.5 409.9h1.2M291.9 409.9h4.5M90.5 415.3h1.2M291.9 415.3h4.5M107.4 426.2h1.2M570.1 431.6h9.9M109.5 448h1.2M291.9 453.4h4.5M89.5 458.9h1.2M409.6 464.3h6.8M95.8 469.8h1.2M105.3 475.2h1.2M89.5 480.7h1.2M291.9 486.1h4.5M104.2 497h1.2M106.3 497h1.2M90.5 507.9h1.2M94.7 507.9h1.2"/><path stroke="rgb(21,21,21)" d="M114.8 83.2h1.2M129.7 83.2h1.3M104.2 94.1h2.3M107.4 94.1h1.2M110.5 94.1h1.2M291.9 94.1h4.5M344.5 99.5h5.5M570.1 99.5h9.9M107.4 104.9h1.2M291.9 115.8h4.5M560.5 121.3h9.7M104.2 137.6h1.2M114.8 137.6h1.2M104.2 143.1h1.2M91.6 148.5h1.2M309.7 154h4.8M107.4 159.4h1.2M114.8 181.2h1.2M451.4 181.2h7.6M90.5 186.6h1.2M291.9 186.6h4.5M95.8 192.1h1.2M109.5 197.5h1.2M291.9 197.5h4.5M104.2 203h1.2M560.5 208.4h9.7M515.3 213.8h8.9M104.2 219.3h1.2M109.5 219.3h1.2M570.1 224.7h9.9M113.7 230.2h1.2M113.7 241.1h1.2M104.2 257.4h1.2M105.3 262.9h2.3M107.4 268.3h1.2M90.5 273.7h1.2M106.3 273.7h1.2M91.6 284.6h1.2M109.5 295.5h1.2M309.7 295.5h4.8M90.5 301h1.2M109.5 301h1.2M94.7 306.4h1.2M93.7 311.9h2.3M94.7 317.3h1.2M107.4 317.3h1.2M93.7 322.7h1.2M109.5 322.7h1.2M515.3 322.7h8.9M560.5 328.2h9.7M114.8 350h1.2M291.9 350h4.5M114.8 355.4h1.2M121.1 366.3h1.2M174.4 371.8h2.2M114.8 377.2h1.2M117.9 388.1h1.2M291.9 388.1h4.5M115.8 399h1.2M551.1 404.4h19.1M360.9 426.2h5.8M109.5 437.1h1.2M91.6 453.4h1.2M94.7 453.4h1.2M390.4 453.4h6.4M291.9 464.3h4.5M524 464.3h9M291.9 475.2h4.5M560.5 475.2h9.7M291.9 480.7h4.5M104.2 486.1h1.2M570.1 486.1h9.9M95.8 491.5h1.2M93.7 497h1.2M113.7 497h1.2M319.2 502.4h5"/><path stroke="rgb(28,28,28)" d="M104.2 77.7h1.2M113.7 77.7h1.2M339.2 77.7h5.4M589.8 77.7h11.3M95.8 83.2h1.2M130.9 83.2h1.3M291.9 83.2h4.5M515.3 83.2h8.9M113.7 88.6h1.2M515.3 88.6h8.9M403.1 94.1h6.7M105.3 99.5h1.2M113.7 104.9h1.2M95.8 115.8h1.2M107.4 115.8h1.2M94.7 121.3h1.2M95.8 126.7h1.2M107.4 126.7h1.2M110.5 126.7h1.2M291.9 132.2h4.5M84.2 137.6h1.2M105.3 143.1h1.2M291.9 148.5h4.5M570.1 148.5h9.9M93.7 159.4h1.2M99 159.4h1.2M106.3 164.8h1.2M145.2 164.8h1.6M524 164.8h9M93.7 170.3h1.2M291.9 170.3h4.5M85.3 175.7h1.2M570.1 175.7h9.9M89.5 181.2h1.2M161.2 181.2h1.9M524 181.2h9M560.5 181.2h9.7M94.7 186.6h1.2M113.7 186.6h1.2M109.5 192.1h1.2M117.9 192.1h1.2M104.2 197.5h1.2M490.2 197.5h8.4M90.5 203h1.2M90.5 208.4h1.2M291.9 208.4h4.5M90.5 213.8h1.2M105.3 213.8h1.2M92.6 224.7h1.2M106.3 224.7h1.2M96.9 241.1h1.2M110.5 241.1h1.2M532.8 241.1h9.2M579.9 241.1h10.1M291.9 252h4.5M570.1 252h9.9M291.9 257.4h4.5M85.3 262.9h1.2M89.5 268.3h1.2M91.6 268.3h1.2M113.7 268.3h1.2M291.9 273.7h4.5M344.5 279.2h5.5M114.8 284.6h1.2M172.4 284.6h2.1M378.3 284.6h6.2M132.1 290.1h1.4M429.9 290.1h7.2M532.8 290.1h9.2M104.2 295.5h1.2M196.7 295.5h2.6M570.1 295.5h9.9M89.5 301h1.2M107.4 306.4h1.2M114.8 306.4h1.2M122.1 306.4h1.2M95.8 311.9h1.2M515.3 311.9h8.9M109.5 317.3h1.2M113.7 322.7h1.2M390.4 322.7h6.4M112.6 328.2h1.2M108.4 333.6h1.2M429.9 344.5h7.2M113.7 350h1.2M291.9 355.4h4.5M89.5 360.9h1.2M105.3 360.9h1.2M110.5 366.3h1.2M113.7 366.3h1.2M570.1 371.8h9.9M97.9 377.2h1.2M117.9 377.2h1.2M579.9 388.1h10.1M84.2 393.5h1.2M94.7 393.5h1.2M570.1 393.5h9.9M109.5 399h1.2M532.8 409.9h9.2M84.2 415.3h1.2M84.2 420.8h1.2M106.3 420.8h1.2M117.9 420.8h1.2M109.5 426.2h1.2M560.5 431.6h9.7M107.4 442.5h1.2M524 442.5h9M589.8 442.5h11.3M117.9 458.9h1.2M570.1 458.9h9.9M96.9 464.3h1.2M106.3 469.8h1.2M110.5 469.8h1.2M196.7 469.8h2.6M579.9 469.8h10.1M94.7 475.2h1.2M106.3 480.7h1.2M90.5 491.5h1.2M94.7 491.5h1.2M291.9 491.5h4.5M89.5 497h1.2M93.7 502.4h1.2M113.7 507.9h1.2"/><path stroke="rgb(35,35,35)" d="M161.2 77.7h1.9M532.8 77.7h9.2M560.5 77.7h9.7M89.5 83.2h1.2M105.3 83.2h2.3M113.7 83.2h1.2M180.7 88.6h2.3M291.9 88.6h4.5M423 88.6h7M90.5 104.9h1.2M107.4 110.4h1.2M84.2 115.8h1.2M89.5 115.8h1.2M110.5 121.3h1.2M112.6 121.3h1.2M139.7 121.3h1.5M291.9 126.7h4.5M89.5 132.2h1.2M104.2 132.2h1.2M111.6 132.2h1.2M110.5 137.6h1.2M152.9 137.6h1.8M226.7 137.6h3.2M589.8 137.6h11.3M106.3 143.1h1.2M104.2 148.5h1.2M106.3 148.5h1.2M114.8 148.5h1.2M541.9 148.5h9.4M551.1 154h28.9M89.5 164.8h1.2M107.4 164.8h1.2M110.5 164.8h1.2M176.5 164.8h2.2M291.9 164.8h4.5M90.5 170.3h1.2M132.1 170.3h1.4M174.4 170.3h2.2M90.5 181.2h1.2M105.3 181.2h1.2M154.5 181.2h1.8M92.6 186.6h1.2M110.5 186.6h1.2M319.2 192.1h5M96.9 197.5h1.2M110.5 197.5h1.2M117.9 197.5h1.2M344.5 197.5h5.5M114.8 203h1.2M106.3 208.4h1.2M506.7 208.4h8.7M94.7 213.8h1.2M85.3 219.3h1.2M99 219.3h1.2M106.3 219.3h1.2M107.4 230.2h1.2M109.5 230.2h1.2M86.3 235.6h1.2M109.5 235.6h1.2M114.8 241.1h1.2M217.9 241.1h3M515.3 241.1h8.9M89.5 246.5h1.2M117.9 246.5h1.2M551.1 246.5h9.6M110.5 252h1.2M515.3 252h8.9M113.7 257.4h1.2M570.1 257.4h9.9M305.1 268.3h4.7M109.5 273.7h1.2M113.7 273.7h1.2M85.3 279.2h1.2M93.7 279.2h1.2M117.9 279.2h1.2M110.5 284.6h1.2M384.3 284.6h6.3M106.3 290.1h1.2M114.8 290.1h1.2M291.9 290.1h4.5M113.7 295.5h1.2M589.8 295.5h11.3M187.3 306.4h2.4M403.1 306.4h6.7M532.8 306.4h9.2M291.9 311.9h4.5M291.9 317.3h4.5M90.5 322.7h1.2M93.7 328.2h1.2M105.3 328.2h1.2M109.5 344.5h1.2M366.6 344.5h5.9M506.7 344.5h8.7M104.2 350h1.2M106.3 355.4h1.2M180.7 355.4h2.3M117.9 360.9h1.2M139.7 360.9h1.5M490.2 366.3h8.4M589.8 366.3h11.3M106.3 371.8h1.2M191.9 377.2h2.5M105.3 382.6h1.2M109.5 388.1h1.2M133.3 388.1h1.4M589.8 388.1h11.3M93.7 393.5h1.2M107.4 393.5h1.2M89.5 399h1.2M104.2 399h1.2M93.7 404.4h1.2M113.7 404.4h2.3M84.2 409.9h1.2M89.5 409.9h1.2M91.6 409.9h1.2M114.8 409.9h1.2M106.3 415.3h1.2M551.1 415.3h9.6M105.3 420.8h1.2M107.4 420.8h1.2M113.7 420.8h1.2M168.6 420.8h2.1M89.5 426.2h1.2M551.1 426.2h9.6M110.5 431.6h1.2M106.3 437.1h1.2M291.9 437.1h4.5M349.9 437.1h5.6M589.8 437.1h11.3M344.5 442.5h5.5M94.7 448h1.2M96.9 448h1.2M105.3 448h1.2M291.9 448h4.5M506.7 448h8.7M105.3 453.4h2.3M108.4 453.4h1.2M137 453.4h1.5M172.4 453.4h2.1M104.2 458.9h1.2M110.5 458.9h1.2M524 458.9h9M589.8 458.9h11.3M106.3 464.3h1.2M114.8 464.3h1.2M156.1 469.8h1.8M319.2 469.8h5M113.7 475.2h1.2M127.5 475.2h1.3M139.7 475.2h1.5M384.3 475.2h6.3M532.8 475.2h9.2M93.7 480.7h1.2M515.3 480.7h8.9M110.5 486.1h1.2M114.8 486.1h1.2M106.3 491.5h1.2M541.9 491.5h9.4M180.7 497h2.3M570.1 497h9.9M105.3 502.4h1.2M114.8 502.4h1.2M117.9 502.4h1.2M429.9 507.9h7.2"/><path stroke="rgb(42,42,42)" d="M84.2 77.7h1.2M515.3 77.7h8.9M589.8 83.2h11.3M107.4 88.6h1.2M506.7 94.1h8.7M579.9 94.1h10.1M110.5 99.5h1.2M157.8 99.5h1.9M291.9 99.5h4.5M129.7 104.9h1.3M515.3 104.9h8.9M90.5 110.4h1.2M106.3 115.8h1.2M99 121.3h1.2M122.1 121.3h1.2M212.3 121.3h2.9M106.3 126.7h1.2M109.5 126.7h1.2M113.7 126.7h1.2M589.8 126.7h11.3M99 132.2h1.2M107.4 132.2h1.2M109.5 132.2h1.2M506.7 132.2h8.7M570.1 132.2h9.9M106.3 137.6h1.2M113.7 137.6h1.2M466.5 137.6h7.9M85.3 143.1h1.2M88.4 143.1h1.2M130.9 143.1h1.3M444.1 143.1h7.5M579.9 143.1h10.1M85.3 148.5h1.2M305.1 148.5h4.7M579.9 148.5h10.1M106.3 154h1.2M291.9 154h4.5M589.8 154h11.3M104.2 159.4h1.2M206.9 159.4h2.8M466.5 159.4h7.9M360.9 164.8h5.8M490.2 164.8h8.4M506.7 164.8h8.7M366.6 170.3h5.9M570.1 170.3h9.9M130.9 175.7h1.3M560.5 175.7h9.7M132.1 181.2h1.4M291.9 181.2h4.5M105.3 197.5h1.2M113.7 197.5h1.2M232.9 197.5h3.3M107.4 203h1.2M129.7 208.4h1.3M132.1 208.4h1.4M579.9 208.4h10.1M117.9 213.8h1.2M490.2 213.8h8.4M93.7 219.3h1.2M189.6 219.3h2.5M474.2 219.3h8M291.9 224.7h4.5M90.5 230.2h1.2M115.8 235.6h1.2M436.9 235.6h7.3M458.9 235.6h7.7M111.6 241.1h1.2M185 246.5h2.4M291.9 246.5h4.5M579.9 246.5h10.1M532.8 252h9.2M88.4 257.4h1.2M94.7 257.4h1.2M96.9 257.4h1.2M106.3 257.4h1.2M372.4 262.9h6.1M90.5 268.3h1.2M93.7 268.3h1.2M296.2 268.3h4.6M329 268.3h5.2M355.3 268.3h5.7M515.3 268.3h8.9M551.1 268.3h9.6M107.4 273.7h1.2M84.2 279.2h1.2M89.5 279.2h1.2M105.3 279.2h1.2M93.7 284.6h2.3M551.1 284.6h9.6M105.3 290.1h1.2M90.5 295.5h1.2M117.9 295.5h1.2M560.5 295.5h9.7M506.7 301h8.7M109.5 306.4h1.2M134.5 306.4h1.4M109.5 311.9h1.2M551.1 311.9h9.6M570.1 311.9h9.9M589.8 317.3h11.3M108.4 322.7h1.2M91.6 328.2h1.2M106.3 328.2h1.2M117.9 328.2h1.2M106.3 333.6h1.2M90.5 339.1h1.2M85.3 344.5h1.2M291.9 344.5h4.5M93.7 350h1.2M109.5 350h1.2M206.9 350h2.8M551.1 355.4h9.6M88.4 360.9h1.2M176.5 360.9h2.2M589.8 360.9h11.3M93.7 366.3h1.2M451.4 366.3h7.6M532.8 371.8h9.2M89.5 377.2h1.2M93.7 377.2h1.2M129.7 377.2h1.3M161.2 377.2h1.9M416.2 377.2h6.9M104.2 382.6h1.2M291.9 382.6h4.5M458.9 382.6h7.7M532.8 382.6h9.2M490.2 393.5h8.4M532.8 393.5h9.2M291.9 399h4.5M532.8 399h9.2M94.7 404.4h1.2M104.2 404.4h1.2M106.3 404.4h1.2M390.4 404.4h6.4M107.4 409.9h1.2M113.7 409.9h1.2M104.2 415.3h1.2M129.7 415.3h1.3M93.7 420.8h1.2M99 420.8h1.2M161.2 420.8h1.9M344.5 420.8h5.5M541.9 420.8h9.4M589.8 420.8h11.3M87.4 426.2h1.2M114.8 431.6h1.2M126.4 431.6h1.2M498.4 431.6h8.5M579.9 431.6h10.1M94.7 437.1h1.2M105.3 437.1h1.2M176.5 437.1h2.2M84.2 442.5h1.2M113.7 442.5h1.2M291.9 442.5h4.5M123.2 448h1.2M134.5 453.4h1.4M88.4 458.9h1.2M94.7 458.9h1.2M84.2 469.8h1.2M105.3 469.8h1.2M515.3 469.8h8.9M209.5 475.2h2.9M84.2 480.7h1.2M107.4 480.7h1.2M194.3 480.7h2.6M579.9 480.7h10.1M93.7 486.1h1.2M95.8 486.1h1.2M444.1 486.1h7.5M161.2 491.5h1.9M96.9 502.4h1.2M109.5 502.4h1.2M113.7 502.4h1.2M506.7 507.9h17.4"/><path stroke="rgb(49,49,49)" d="M123.2 77.7h1.2M156.1 77.7h1.8M524 77.7h9M96.9 88.6h1.2M105.3 88.6h1.2M541.9 88.6h9.4M109.5 94.1h1.2M114.8 94.1h1.2M132.1 94.1h1.4M84.2 99.5h1.2M152.9 99.5h1.8M423 104.9h7M579.9 104.9h10.1M93.7 110.4h1.2M515.3 110.4h8.9M117.9 115.8h1.2M217.9 115.8h3M296.2 115.8h4.6M89.5 121.3h1.2M163 121.3h2M466.5 121.3h7.9M515.3 121.3h8.9M126.4 126.7h1.2M149.7 126.7h1.7M113.7 132.2h1.2M99 137.6h1.2M89.5 143.1h1.2M84.2 148.5h1.2M107.4 154h1.2M85.3 159.4h2.3M114.8 159.4h1.2M560.5 164.8h9.7M97.9 170.3h1.2M114.8 175.7h1.2M524 175.7h9M579.9 175.7h10.1M113.7 181.2h1.2M129.7 181.2h1.3M532.8 181.2h9.2M105.3 186.6h1.2M524 186.6h18.1M551.1 192.1h9.6M85.3 197.5h1.2M90.5 197.5h1.2M106.3 197.5h1.2M541.9 197.5h9.4M85.3 203h2.3M515.3 203h8.9M110.5 208.4h1.2M114.8 208.4h1.2M215 208.4h3M96.9 213.8h1.2M110.5 213.8h1.2M324.1 219.3h5.1M94.7 224.7h1.2M113.7 224.7h1.2M154.5 224.7h1.8M541.9 224.7h9.4M95.8 230.2h1.2M291.9 230.2h4.5M515.3 230.2h8.9M570.1 230.2h19.9M89.5 235.6h1.2M113.7 235.6h1.2M226.7 235.6h3.2M87.4 241.1h1.2M90.5 241.1h1.2M116.9 241.1h1.2M126.4 241.1h1.2M146.7 241.1h1.6M226.7 241.1h3.2M296.2 241.1h4.6M106.3 252h2.3M217.9 252h3M93.7 257.4h1.2M515.3 257.4h8.9M220.7 262.9h3.1M106.3 279.2h1.2M143.8 279.2h1.6M506.7 279.2h17.4M570.1 279.2h9.9M106.3 284.6h1.2M109.5 284.6h1.2M113.7 284.6h1.2M196.7 284.6h2.6M329 284.6h5.2M344.5 284.6h5.5M541.9 284.6h9.4M84.2 290.1h1.2M107.4 295.5h1.2M106.3 301h1.2M114.8 301h1.2M466.5 306.4h7.9M90.5 311.9h1.2M154.5 311.9h1.8M84.2 317.3h1.2M93.7 317.3h1.2M436.9 317.3h7.3M94.7 322.7h1.2M123.2 328.2h1.2M360.9 328.2h5.8M99 333.6h1.2M104.2 333.6h1.2M95.8 339.1h1.2M498.4 344.5h8.5M423 350h7M458.9 350h7.7M560.5 350h9.7M95.8 355.4h2.3M104.2 355.4h1.2M113.7 355.4h1.2M123.2 360.9h1.2M139.7 366.3h1.5M229.7 366.3h3.3M372.4 366.3h6.1M339.2 371.8h5.4M506.7 371.8h8.7M85.3 377.2h1.2M106.3 377.2h1.2M109.5 377.2h1.2M113.7 377.2h1.2M515.3 377.2h8.9M187.3 382.6h2.4M423 382.6h7M93.7 388.1h1.2M378.3 388.1h6.2M104.2 393.5h1.2M117.9 393.5h1.2M187.3 393.5h2.4M309.7 393.5h4.8M515.3 393.5h8.9M94.7 399h1.2M113.7 399h1.2M130.9 399h1.3M429.9 399h7.2M515.3 399h17.7M551.1 399h9.6M589.8 399h11.3M96.9 404.4h1.2M170.5 404.4h2.1M94.7 409.9h1.2M105.3 409.9h1.2M113.7 415.3h1.2M132.1 415.3h1.4M89.5 420.8h1.2M309.7 420.8h4.8M111.6 426.2h1.2M524 426.2h9M560.5 426.2h9.7M349.9 431.6h5.6M551.1 431.6h9.6M180.7 437.1h2.3M570.1 437.1h9.9M96.9 442.5h1.2M161.2 442.5h1.9M90.5 448h1.2M296.2 448h4.6M104.2 453.4h1.2M85.3 458.9h1.2M105.3 458.9h1.2M113.7 458.9h1.2M90.5 464.3h1.2M355.3 464.3h5.7M134.5 469.8h1.4M104.2 475.2h1.2M95.8 480.7h1.2M110.5 480.7h1.2M107.4 486.1h1.2M113.7 486.1h1.2M532.8 486.1h18.4M85.3 491.5h1.2M344.5 491.5h5.5M396.7 491.5h6.5M560.5 491.5h9.7M579.9 491.5h21.2M124.2 497h1.2M490.2 497h8.4M506.7 497h8.7M85.3 502.4h1.2M110.5 502.4h1.2M226.7 502.4h3.2M339.2 502.4h5.4M423 502.4h7M490.2 502.4h8.4M93.7 507.9h1.2M95.8 507.9h1.2"/><path stroke="rgb(56,56,56)" d="M88.4 77.7h1.2M109.5 77.7h1.2M551.1 77.7h9.6M93.7 83.2h1.2M117.9 83.2h1.2M524 83.2h9M106.3 88.6h1.2M532.8 88.6h9.2M570.1 88.6h19.9M113.7 94.1h1.2M134.5 94.1h1.4M106.3 104.9h1.2M110.5 104.9h1.2M217.9 104.9h3M86.3 110.4h1.2M95.8 110.4h1.2M110.5 110.4h1.2M88.4 115.8h1.2M109.5 115.8h1.2M143.8 115.8h1.6M196.7 115.8h2.6M466.5 115.8h7.9M130.9 121.3h1.3M324.1 121.3h5.1M436.9 121.3h7.3M524 121.3h9M84.2 126.7h2.3M89.5 126.7h1.2M551.1 126.7h9.6M570.1 126.7h9.9M93.7 132.2h1.2M199.2 132.2h2.7M403.1 132.2h6.7M94.7 137.6h1.2M498.4 137.6h8.5M129.7 143.1h1.3M423 143.1h7M482.1 143.1h8.2M570.1 143.1h9.9M168.6 148.5h2.1M220.7 148.5h3.1M429.9 148.5h7.2M589.8 148.5h11.3M90.5 154h1.2M223.7 154h3.1M541.9 154h9.4M105.3 159.4h1.2M104.2 164.8h1.2M104.2 170.3h1.2M344.5 170.3h5.5M89.5 175.7h1.2M91.6 175.7h1.2M217.9 175.7h3M319.2 175.7h5M84.2 181.2h1.2M109.5 181.2h1.2M194.3 181.2h2.6M212.3 181.2h2.9M85.3 186.6h1.2M96.9 186.6h1.2M148.2 186.6h1.7M319.2 186.6h5M515.3 186.6h8.9M93.7 192.1h1.2M104.2 192.1h1.2M106.3 192.1h1.2M570.1 192.1h9.9M92.6 197.5h1.2M94.7 197.5h1.2M125.3 197.5h1.2M141 197.5h1.5M524 203h9M84.2 208.4h1.2M109.5 208.4h1.2M135.7 208.4h1.4M139.7 208.4h1.5M163 208.4h2M490.2 208.4h8.4M149.7 213.8h1.7M366.6 213.8h5.9M551.1 213.8h9.6M589.8 213.8h11.3M92.6 219.3h1.2M532.8 219.3h9.2M589.8 219.3h11.3M201.7 224.7h2.7M212.3 224.7h2.9M96.9 230.2h1.2M541.9 230.2h9.4M94.7 235.6h1.2M104.2 235.6h1.2M168.6 235.6h2.1M291.9 235.6h4.5M305.1 235.6h4.7M416.2 235.6h6.9M524 235.6h9M89.5 241.1h1.2M372.4 241.1h6.1M466.5 241.1h7.9M97.9 246.5h1.2M105.3 246.5h1.2M110.5 246.5h1.2M416.2 246.5h6.9M89.5 252h1.2M105.3 252h1.2M579.9 252h21.2M85.3 257.4h1.2M95.8 257.4h1.2M191.9 262.9h2.5M589.8 262.9h11.3M123.2 268.3h1.2M396.7 268.3h6.5M96.9 273.7h1.2M110.5 273.7h1.2M107.4 279.2h3.3M112.6 279.2h1.2M85.3 284.6h1.2M95.8 284.6h1.2M146.7 284.6h1.6M570.1 284.6h9.9M86.3 290.1h1.2M108.4 290.1h2.3M206.9 290.1h2.8M409.6 290.1h6.8M89.5 295.5h1.2M96.9 295.5h1.2M106.3 295.5h1.2M220.7 295.5h3.1M570.1 301h9.9M84.2 306.4h1.2M145.2 306.4h1.6M105.3 311.9h1.2M113.7 311.9h1.2M223.7 311.9h3.1M532.8 311.9h9.2M117.9 317.3h1.2M114.8 322.7h1.2M156.1 322.7h3.5M90.5 328.2h1.2M94.7 328.2h1.2M314.4 328.2h4.9M579.9 328.2h10.1M93.7 333.6h1.2M96.9 333.6h1.2M114.8 333.6h1.2M589.8 333.6h11.3M107.4 339.1h1.2M112.6 339.1h1.2M121.1 339.1h1.2M90.5 344.5h1.2M570.1 344.5h9.9M215 350h3M94.7 355.4h1.2M117.9 355.4h1.2M506.7 355.4h8.7M560.5 355.4h9.7M90.5 360.9h1.2M110.5 360.9h1.2M451.4 360.9h7.6M541.9 360.9h9.4M570.1 360.9h9.9M90.5 366.3h1.2M95.8 366.3h1.2M172.4 366.3h2.1M390.4 366.3h6.4M107.4 371.8h1.2M117.9 371.8h1.2M589.8 371.8h11.3M95.8 377.2h1.2M138.3 377.2h1.5M146.7 377.2h1.6M94.7 382.6h1.2M110.5 382.6h1.2M384.3 382.6h6.3M515.3 382.6h8.9M570.1 382.6h9.9M90.5 388.1h1.2M185 388.1h2.4M194.3 388.1h2.6M204.2 388.1h2.8M416.2 388.1h6.9M498.4 388.1h17.1M90.5 393.5h1.2M110.5 399h1.2M90.5 404.4h1.2M329 404.4h5.2M579.9 404.4h10.1M93.7 409.9h1.2M109.5 409.9h1.2M163 409.9h2M226.7 409.9h3.2M114.8 415.3h1.2M570.1 415.3h19.9M90.5 420.8h1.2M110.5 420.8h1.2M409.6 420.8h6.8M579.9 420.8h10.1M94.7 426.2h1.2M109.5 431.6h1.2M113.7 431.6h1.2M93.7 437.1h1.2M107.4 437.1h1.2M451.4 437.1h7.6M104.2 448h1.2M305.1 448h4.7M355.3 448h5.7M474.2 448h8M524 448h9M551.1 448h9.6M570.1 448h9.9M114.8 453.4h1.2M319.2 453.4h5M355.3 458.9h5.7M104.2 464.3h1.2M212.3 469.8h2.9M560.5 469.8h9.7M90.5 475.2h1.2M114.8 475.2h1.2M125.3 475.2h1.2M524 475.2h9M92.6 480.7h1.2M551.1 480.7h9.6M106.3 486.1h1.2M490.2 486.1h8.4M89.5 491.5h1.2M524 491.5h9M570.1 491.5h9.9M90.5 497h1.2M105.3 497h1.2M88.4 502.4h2.3M106.3 502.4h1.2M145.2 502.4h1.6"/><path stroke="rgb(63,63,63)" d="M95.8 77.7h2.3M570.1 83.2h9.9M114.8 88.6h1.2M125.3 88.6h1.2M146.7 88.6h1.6M156.1 88.6h1.8M236 88.6h3.4M372.4 88.6h6.1M130.9 94.1h1.3M106.3 99.5h1.2M113.7 99.5h1.2M215 99.5h3M409.6 99.5h6.8M506.7 99.5h8.7M96.9 104.9h1.2M105.3 104.9h1.2M506.7 104.9h8.7M176.5 110.4h2.2M466.5 110.4h7.9M570.1 110.4h9.9M589.8 110.4h11.3M113.7 115.8h1.2M215 115.8h3M300.6 115.8h4.7M105.3 121.3h1.2M115.8 121.3h2.3M178.6 121.3h2.3M114.8 126.7h1.2M85.3 132.2h1.2M112.6 132.2h1.2M139.7 132.2h1.5M87.4 137.6h1.2M96.9 137.6h1.2M84.2 143.1h1.2M91.6 143.1h1.2M117.9 148.5h1.2M138.3 148.5h1.5M182.8 148.5h2.3M86.3 154h1.2M196.7 154h2.6M287.6 154h4.4M506.7 154h8.7M524 154h9M89.5 159.4h1.2M117.9 159.4h1.2M86.3 164.8h1.2M97.9 164.8h1.2M112.6 164.8h1.2M409.6 164.8h6.8M84.2 170.3h1.2M105.3 170.3h1.2M114.8 170.3h1.2M109.5 175.7h1.2M163 181.2h2M185 181.2h2.4M570.1 181.2h19.9M109.5 186.6h1.2M114.8 186.6h1.2M551.1 186.6h9.6M99 192.1h1.2M99 197.5h1.2M106.3 203h1.2M182.8 203h2.3M339.2 203h5.4M355.3 203h5.7M423 203h7M551.1 203h9.6M589.8 203h11.3M112.6 208.4h2.3M117.9 208.4h1.2M161.2 208.4h1.9M85.3 213.8h1.2M88.4 213.8h1.2M93.7 213.8h1.2M97.9 213.8h1.2M220.7 213.8h3.1M560.5 213.8h9.7M84.2 219.3h1.2M123.2 219.3h1.2M223.7 219.3h3.1M117.9 224.7h1.2M176.5 224.7h2.2M366.6 224.7h5.9M466.5 224.7h7.9M93.7 230.2h1.2M97.9 230.2h1.2M141 230.2h1.5M85.3 235.6h1.2M135.7 235.6h1.4M174.4 235.6h2.2M236 235.6h3.4M95.8 241.1h1.2M105.3 241.1h1.2M191.9 241.1h2.5M458.9 241.1h7.7M524 241.1h9M551.1 241.1h9.6M589.8 241.1h11.3M142.4 246.5h1.6M305.1 246.5h4.7M319.2 246.5h5M515.3 246.5h8.9M95.8 252h1.2M132.1 252h1.4M199.2 252h2.7M360.9 252h5.8M524 252h9M109.5 257.4h1.2M196.7 257.4h2.6M474.2 257.4h8M107.4 262.9h1.2M114.8 262.9h1.2M154.5 262.9h1.8M349.9 262.9h5.6M570.1 262.9h9.9M95.8 268.3h1.2M114.8 268.3h1.2M132.1 268.3h1.4M212.3 268.3h2.9M334.1 268.3h5.3M524 268.3h9M579.9 268.3h10.1M94.7 273.7h2.3M128.6 273.7h1.3M466.5 273.7h7.9M551.1 273.7h9.6M92.6 279.2h1.2M110.5 279.2h1.2M209.5 284.6h2.9M300.6 284.6h4.7M579.9 284.6h10.1M111.6 290.1h1.2M176.5 290.1h2.2M366.6 290.1h5.9M466.5 290.1h7.9M560.5 290.1h9.7M93.7 295.5h1.2M95.8 295.5h1.2M97.9 295.5h1.2M114.8 295.5h1.2M121.1 295.5h1.2M134.5 295.5h2.7M324.1 295.5h5.1M378.3 295.5h6.2M451.4 295.5h7.6M532.8 295.5h9.2M107.4 301h1.2M110.5 301h1.2M117.9 301h1.2M164.8 301h2M532.8 301h9.2M93.7 306.4h1.2M96.9 306.4h1.2M110.5 306.4h1.2M541.9 306.4h9.4M172.4 311.9h2.1M85.3 317.3h1.2M174.4 317.3h2.2M466.5 317.3h7.9M110.5 322.7h1.2M126.4 322.7h1.2M145.2 322.7h1.6M149.7 322.7h1.7M291.9 322.7h4.5M309.7 322.7h4.8M579.9 322.7h10.1M99 328.2h1.2M132.1 328.2h1.4M372.4 328.2h6.1M570.1 328.2h9.9M166.7 333.6h2M339.2 333.6h5.4M515.3 333.6h17.7M94.7 339.1h1.2M159.5 339.1h1.9M191.9 339.1h2.5M515.3 339.1h8.9M94.7 344.5h1.2M191.9 344.5h2.5M319.2 344.5h5M515.3 344.5h8.9M88.4 350h1.2M90.5 350h2.3M99 350h1.2M296.2 350h4.6M372.4 350h6.1M105.3 355.4h1.2M112.6 355.4h1.2M126.4 355.4h1.2M524 355.4h9M96.9 360.9h1.2M94.7 366.3h1.2M109.5 366.3h1.2M137 366.3h1.5M506.7 366.3h17.4M105.3 371.8h1.2M110.5 371.8h1.2M116.9 371.8h1.2M226.7 371.8h3.2M93.7 382.6h1.2M96.9 382.6h1.2M116.9 382.6h1.2M148.2 382.6h1.7M176.5 382.6h2.2M560.5 382.6h9.7M107.4 388.1h1.2M116.9 388.1h1.2M199.2 388.1h2.7M296.2 388.1h4.6M291.9 393.5h4.5M360.9 393.5h5.8M416.2 393.5h6.9M88.4 399h1.2M90.5 399h1.2M107.4 399h1.2M105.3 404.4h1.2M249.4 404.4h3.7M360.9 404.4h5.8M589.8 404.4h11.3M104.2 409.9h1.2M143.8 409.9h1.6M94.7 415.3h1.2M105.3 415.3h1.2M506.7 420.8h8.7M90.5 426.2h1.2M133.3 426.2h1.4M176.5 431.6h2.2M403.1 431.6h6.7M429.9 431.6h7.2M506.7 431.6h8.7M589.8 431.6h11.3M96.9 437.1h2.3M117.9 437.1h1.2M515.3 437.1h8.9M88.4 442.5h1.2M105.3 442.5h1.2M176.5 442.5h2.2M506.7 442.5h8.7M107.4 448h2.3M436.9 448h7.3M532.8 448h9.2M109.5 453.4h1.2M117.9 453.4h1.2M152.9 453.4h1.8M180.7 453.4h2.3M551.1 453.4h9.6M97.9 464.3h1.2M107.4 464.3h1.2M117.9 464.3h1.2M185 464.3h2.4M229.7 464.3h3.3M532.8 464.3h9.2M85.3 469.8h1.2M90.5 469.8h1.2M93.7 469.8h1.2M104.2 469.8h1.2M314.4 469.8h4.9M524 469.8h9M96.9 475.2h1.2M458.9 475.2h7.7M570.1 475.2h9.9M88.4 480.7h1.2M191.9 480.7h2.5M560.5 480.7h9.7M589.8 480.7h11.3M137 486.1h1.5M372.4 486.1h6.1M589.8 486.1h11.3M110.5 491.5h1.2M154.5 491.5h1.8M182.8 491.5h2.3M95.8 497h1.2M115.8 497h1.2M334.1 497h5.3M436.9 497h7.3M541.9 497h9.4M133.3 502.4h1.4M164.8 502.4h2M189.6 502.4h2.5M524 502.4h18.1M589.8 502.4h11.3M84.2 507.9h1.2M117.9 507.9h1.2M149.7 507.9h1.7M524 507.9h18.1"/><path stroke="rgb(70,70,70)" d="M110.5 77.7h1.2M117.9 77.7h1.2M206.9 77.7h2.8M416.2 77.7h6.9M541.9 77.7h9.4M87.4 83.2h1.2M96.9 83.2h1.2M139.7 83.2h1.5M339.2 83.2h5.4M84.2 88.6h1.2M109.5 88.6h1.2M116.9 88.6h1.2M128.6 88.6h1.3M339.2 88.6h5.4M91.6 94.1h1.2M129.7 94.1h1.3M416.2 94.1h6.9M560.5 94.1h9.7M128.6 99.5h1.3M156.1 99.5h1.8M182.8 99.5h4.6M209.5 99.5h2.9M300.6 99.5h4.7M324.1 99.5h5.1M339.2 99.5h5.4M109.5 104.9h1.2M130.9 104.9h1.3M191.9 104.9h2.5M106.3 110.4h1.2M217.9 110.4h3M378.3 110.4h6.2M90.5 115.8h1.2M148.2 115.8h1.7M589.8 115.8h11.3M108.4 121.3h1.2M482.1 121.3h8.2M541.9 121.3h9.4M86.3 126.7h1.2M366.6 126.7h5.9M423 126.7h7M138.3 132.2h1.5M166.7 132.2h2M252.9 132.2h3.7M524 132.2h9M90.5 137.6h1.2M109.5 137.6h1.2M142.4 137.6h1.6M187.3 137.6h2.4M344.5 137.6h5.5M90.5 143.1h1.2M95.8 143.1h1.2M113.7 143.1h1.2M117.9 143.1h1.2M125.3 143.1h1.2M143.8 143.1h1.6M220.7 143.1h3.1M324.1 143.1h5.1M92.6 148.5h1.2M122.1 148.5h1.2M127.5 148.5h1.3M283.5 148.5h8.6M355.3 148.5h5.7M515.3 148.5h8.9M104.2 154h2.3M157.8 154h1.9M172.4 154h2.1M498.4 154h8.5M532.8 154h9.2M80 159.4h1.2M185 159.4h2.4M88.4 164.8h1.2M93.7 164.8h1.2M151.3 164.8h1.7M474.2 164.8h8M515.3 164.8h8.9M95.8 170.3h1.2M109.5 170.3h1.2M113.7 170.3h1.2M339.2 170.3h5.4M458.9 170.3h7.7M532.8 170.3h9.2M560.5 170.3h9.7M589.8 170.3h11.3M90.5 175.7h1.2M94.7 175.7h1.2M96.9 175.7h1.2M107.4 175.7h2.3M132.1 175.7h1.4M355.3 175.7h5.7M372.4 181.2h6.1M506.7 181.2h8.7M93.7 186.6h1.2M95.8 186.6h1.2M99 186.6h1.2M223.7 186.6h3.1M570.1 186.6h9.9M114.8 192.1h1.2M129.7 192.1h1.3M458.9 192.1h7.7M149.7 197.5h1.7M589.8 197.5h11.3M94.7 203h1.2M99 203h1.2M117.9 203h1.2M149.7 203h1.7M163 203h2M429.9 203h7.2M541.9 203h9.4M85.3 208.4h1.2M263.8 208.4h3.9M515.3 208.4h8.9M551.1 208.4h9.6M116.9 213.8h1.2M300.6 213.8h4.7M360.9 213.8h5.8M94.7 219.3h1.2M96.9 219.3h1.2M506.7 219.3h8.7M524 219.3h9M570.1 219.3h9.9M90.5 224.7h1.2M107.4 224.7h1.2M109.5 224.7h1.2M126.4 224.7h1.2M324.1 224.7h5.1M579.9 224.7h10.1M148.2 230.2h1.7M152.9 230.2h1.8M390.4 230.2h6.4M524 230.2h9M560.5 230.2h9.7M87.4 235.6h1.2M92.6 235.6h1.2M96.9 235.6h1.2M107.4 235.6h1.2M128.6 235.6h1.3M142.4 235.6h1.6M209.5 235.6h2.9M271.4 235.6h4.1M314.4 241.1h4.9M84.2 246.5h1.2M106.3 246.5h2.3M114.8 246.5h1.2M199.2 246.5h2.7M206.9 246.5h2.8M223.7 246.5h3.1M429.9 246.5h7.2M589.8 246.5h11.3M94.7 252h1.2M128.6 252h1.3M355.3 252h5.7M396.7 252h6.5M551.1 252h9.6M296.2 257.4h4.6M506.7 257.4h8.7M95.8 262.9h1.2M174.4 262.9h2.2M256.4 262.9h3.8M541.9 262.9h9.4M84.2 268.3h1.2M87.4 268.3h1.2M324.1 268.3h5.1M482.1 268.3h8.2M506.7 268.3h8.7M532.8 268.3h9.2M85.3 273.7h1.2M89.5 273.7h1.2M104.2 273.7h1.2M111.6 273.7h1.2M260.1 273.7h3.9M451.4 273.7h7.6M94.7 279.2h2.3M113.7 279.2h2.3M409.6 279.2h6.8M458.9 279.2h7.7M99 284.6h1.2M141 284.6h1.5M532.8 284.6h9.2M90.5 290.1h1.2M107.4 290.1h1.2M314.4 290.1h4.9M570.1 290.1h9.9M86.3 295.5h1.2M94.7 295.5h1.2M212.3 295.5h2.9M329 295.5h5.2M245.9 301h3.6M319.2 301h5M458.9 301h7.7M92.6 306.4h1.2M104.2 306.4h1.2M117.9 306.4h1.2M133.3 306.4h1.4M164.8 306.4h2M296.2 306.4h4.6M551.1 306.4h9.6M84.2 311.9h1.2M96.9 311.9h1.2M106.3 311.9h3.3M396.7 311.9h6.5M482.1 311.9h8.2M89.5 317.3h1.2M138.3 317.3h1.5M201.7 317.3h2.7M212.3 317.3h2.9M296.2 317.3h4.6M570.1 317.3h9.9M99 322.7h1.2M532.8 322.7h9.2M560.5 322.7h9.7M88.4 328.2h1.2M92.6 328.2h1.2M96.9 328.2h1.2M138.3 328.2h1.5M189.6 328.2h2.5M319.2 328.2h5M349.9 328.2h5.6M532.8 328.2h9.2M89.5 333.6h1.2M123.2 333.6h1.2M141 333.6h1.5M256.4 333.6h3.8M334.1 333.6h5.3M551.1 333.6h9.6M84.2 339.1h1.2M113.7 339.1h1.2M134.5 339.1h1.4M409.6 339.1h6.8M117.9 344.5h1.2M132.1 344.5h1.4M161.2 344.5h1.9M532.8 344.5h18.4M95.8 350h2.3M154.5 350h1.8M334.1 350h5.3M506.7 350h8.7M551.1 350h9.6M579.9 350h10.1M85.3 355.4h1.2M99 355.4h1.2M191.9 355.4h2.5M300.6 355.4h4.7M366.6 355.4h5.9M423 355.4h7M93.7 360.9h1.2M99 360.9h1.2M474.2 360.9h8M579.9 360.9h10.1M104.2 366.3h2.3M107.4 366.3h1.2M130.9 366.3h1.3M209.5 366.3h2.9M324.1 366.3h5.1M89.5 371.8h1.2M94.7 371.8h1.2M96.9 371.8h1.2M194.3 371.8h2.6M378.3 371.8h6.2M466.5 371.8h7.9M551.1 371.8h9.6M110.5 377.2h1.2M133.3 377.2h1.4M458.9 377.2h7.7M114.8 382.6h1.2M466.5 382.6h7.9M85.3 388.1h1.2M108.4 388.1h1.2M113.7 388.1h1.2M309.7 388.1h4.8M355.3 388.1h11.4M436.9 388.1h7.3M551.1 388.1h19.1M138.3 393.5h2.8M168.6 393.5h2.1M189.6 393.5h2.5M279.4 393.5h4.2M329 393.5h5.2M409.6 393.5h6.8M524 393.5h9M114.8 399h1.2M196.7 399h2.6M92.6 404.4h1.2M108.4 404.4h1.2M168.6 404.4h2.1M191.9 404.4h2.5M223.7 404.4h3.1M260.1 404.4h3.9M474.2 404.4h8M506.7 404.4h8.7M85.3 409.9h1.2M99 409.9h1.2M122.1 409.9h1.2M107.4 415.3h1.2M146.7 415.3h1.6M189.6 415.3h2.5M201.7 415.3h2.7M97.9 420.8h1.2M482.1 420.8h8.2M105.3 426.2h1.2M154.5 426.2h1.8M163 426.2h2M349.9 426.2h5.6M498.4 426.2h17.1M91.6 431.6h1.2M95.8 431.6h2.3M99 431.6h1.2M106.3 431.6h2.3M283.5 431.6h4.3M515.3 431.6h8.9M84.2 437.1h1.2M90.5 437.1h1.2M104.2 437.1h1.2M132.1 437.1h1.4M157.8 437.1h1.9M187.3 442.5h2.4M515.3 442.5h8.9M551.1 442.5h9.6M92.6 448h2.3M170.5 448h2.1M196.7 448h2.6M409.6 448h6.8M85.3 453.4h1.2M107.4 453.4h1.2M111.6 453.4h1.2M113.7 453.4h1.2M378.3 453.4h6.2M570.1 453.4h9.9M107.4 458.9h1.2M122.1 458.9h1.2M189.6 458.9h2.5M226.7 458.9h3.2M551.1 458.9h9.6M93.7 464.3h1.2M110.5 464.3h1.2M178.6 464.3h2.3M287.6 464.3h4.4M372.4 464.3h6.1M109.5 469.8h1.2M114.8 469.8h1.2M189.6 469.8h2.5M436.9 469.8h7.3M532.8 469.8h9.2M95.8 475.2h1.2M137 475.2h1.5M154.5 475.2h1.8M416.2 475.2h6.9M506.7 475.2h8.7M105.3 480.7h1.2M117.9 480.7h1.2M132.1 480.7h1.4M223.7 480.7h3.1M305.1 480.7h4.7M360.9 480.7h5.8M390.4 480.7h6.4M423 480.7h7M92.6 486.1h1.2M148.2 486.1h1.7M217.9 486.1h3M305.1 486.1h4.7M515.3 486.1h8.9M560.5 486.1h9.7M104.2 491.5h1.2M86.3 497h1.2M97.9 497h1.2M372.4 497h6.1M515.3 497h8.9M111.6 502.4h1.2M149.7 502.4h1.7M324.1 502.4h5.1M551.1 502.4h9.6M579.9 502.4h10.1M85.3 507.9h1.2M104.2 507.9h1.2M107.4 507.9h1.2M115.8 507.9h1.2M191.9 507.9h2.5M339.2 507.9h5.4M436.9 507.9h7.3M541.9 507.9h9.4"/><path stroke="rgb(76,76,76)" d="M91.6 77.7h1.2M114.8 77.7h1.2M429.9 77.7h7.2M187.3 83.2h2.4M423 83.2h7M129.7 88.6h1.3M148.2 88.6h1.7M187.3 88.6h2.4M223.7 88.6h3.1M296.2 88.6h4.6M90.5 94.1h1.2M96.9 94.1h1.2M122.1 94.1h1.2M157.8 94.1h1.9M429.9 94.1h7.2M498.4 94.1h8.5M93.7 99.5h1.2M141 99.5h2.9M217.9 99.5h3M287.6 99.5h4.4M305.1 99.5h4.7M490.2 99.5h8.4M515.3 99.5h8.9M206.9 104.9h2.8M429.9 104.9h7.2M466.5 104.9h7.9M524 104.9h9M84.2 110.4h1.2M96.9 110.4h1.2M104.2 110.4h2.3M116.9 110.4h1.2M139.7 110.4h1.5M215 110.4h3M532.8 110.4h9.2M551.1 110.4h9.6M96.9 115.8h1.2M99 115.8h1.2M314.4 115.8h4.9M390.4 115.8h6.4M490.2 115.8h8.4M541.9 115.8h9.4M114.8 121.3h1.2M88.4 126.7h1.2M104.2 126.7h1.2M161.2 126.7h1.9M458.9 126.7h7.7M541.9 126.7h9.4M560.5 126.7h9.7M579.9 126.7h10.1M94.7 132.2h1.2M105.3 132.2h1.2M135.7 132.2h1.4M204.2 132.2h2.8M242.6 132.2h3.5M360.9 132.2h5.8M409.6 132.2h6.8M95.8 137.6h1.2M125.3 137.6h1.2M236 137.6h3.4M329 137.6h5.2M560.5 137.6h9.7M93.7 143.1h1.2M115.8 143.1h1.2M152.9 143.1h1.8M204.2 143.1h2.8M372.4 143.1h6.1M112.6 148.5h1.2M194.3 148.5h2.6M260.1 148.5h3.9M551.1 148.5h19.1M89.5 154h1.2M178.6 154h2.3M191.9 154h2.5M366.6 154h5.9M403.1 154h6.7M429.9 154h7.2M482.1 154h8.2M84.2 159.4h1.2M88.4 159.4h1.2M334.1 159.4h5.3M474.2 159.4h8M560.5 159.4h19.5M94.7 164.8h1.2M117.9 164.8h1.2M296.2 164.8h4.6M423 164.8h7M451.4 164.8h15.2M110.5 170.3h1.2M159.5 170.3h1.9M180.7 170.3h4.5M444.1 170.3h7.5M490.2 170.3h8.4M84.2 175.7h1.2M105.3 175.7h1.2M110.5 175.7h1.2M396.7 175.7h6.5M451.4 175.7h7.6M95.8 181.2h1.2M99 181.2h1.2M111.6 181.2h1.2M117.9 181.2h1.2M137 181.2h1.5M366.6 181.2h5.9M589.8 181.2h11.3M115.8 186.6h1.2M117.9 186.6h1.2M130.9 186.6h1.3M145.2 186.6h1.6M305.1 186.6h4.7M344.5 186.6h5.5M366.6 186.6h5.9M384.3 186.6h6.3M94.7 192.1h1.2M96.9 192.1h1.2M423 192.1h7M579.9 192.1h10.1M157.8 197.5h1.9M319.2 197.5h5M339.2 197.5h5.4M384.3 197.5h6.3M579.9 197.5h10.1M111.6 203h1.2M116.9 203h1.2M122.1 203h1.2M185 203h2.4M287.6 203h4.4M344.5 203h5.5M86.3 208.4h1.2M89.5 208.4h1.2M94.7 208.4h1.2M104.2 208.4h1.2M349.9 208.4h5.6M524 208.4h9M589.8 208.4h11.3M132.1 213.8h1.4M139.7 213.8h1.5M506.7 213.8h8.7M113.7 219.3h1.2M117.9 219.3h1.2M139.7 219.3h1.5M89.5 224.7h1.2M108.4 224.7h1.2M163 224.7h2M99 230.2h1.2M451.4 230.2h7.6M148.2 235.6h1.7M204.2 235.6h2.8M97.9 241.1h1.2M104.2 241.1h1.2M123.2 241.1h1.2M164.8 241.1h2M570.1 241.1h9.9M96.9 246.5h1.2M159.5 246.5h1.9M204.2 246.5h2.8M215 246.5h3M239.3 246.5h3.5M396.7 246.5h6.5M423 246.5h7M490.2 246.5h8.4M506.7 246.5h8.7M524 246.5h9M92.6 252h1.2M109.5 252h1.2M137 252h1.5M172.4 252h2.1M466.5 252h7.9M560.5 252h9.7M107.4 257.4h1.2M132.1 257.4h1.4M180.7 257.4h2.3M204.2 257.4h2.8M279.4 257.4h4.2M339.2 257.4h10.8M378.3 257.4h6.2M532.8 257.4h9.2M91.6 262.9h1.2M94.7 262.9h1.2M96.9 262.9h1.2M119 262.9h1.2M334.1 262.9h5.3M355.3 262.9h5.7M551.1 262.9h9.6M88.4 268.3h1.2M360.9 268.3h5.8M444.1 268.3h7.5M88.4 273.7h1.2M138.3 273.7h1.5M390.4 273.7h6.4M506.7 273.7h8.7M128.6 279.2h1.3M217.9 279.2h3M300.6 279.2h4.7M429.9 279.2h7.2M444.1 279.2h7.5M551.1 279.2h9.6M80 284.6h1.2M104.2 284.6h1.2M191.9 284.6h2.5M324.1 284.6h5.1M138.3 290.1h1.5M378.3 290.1h6.2M436.9 290.1h7.3M506.7 290.1h8.7M551.1 290.1h9.6M105.3 295.5h1.2M116.9 295.5h1.2M123.2 295.5h1.2M416.2 295.5h6.9M551.1 295.5h9.6M94.7 301h1.2M113.7 301h1.2M199.2 301h2.7M217.9 301h3M236 301h3.4M429.9 301h7.2M99 306.4h1.2M106.3 306.4h1.2M108.4 306.4h1.2M113.7 306.4h1.2M170.5 306.4h2.1M212.3 306.4h2.9M226.7 306.4h6.3M355.3 306.4h5.7M498.4 306.4h17.1M92.6 311.9h1.2M104.2 311.9h1.2M114.8 311.9h1.2M309.7 311.9h4.8M403.1 311.9h6.7M524 311.9h9M92.6 317.3h1.2M113.7 317.3h1.2M129.7 317.3h1.3M560.5 317.3h9.7M104.2 322.7h1.2M170.5 322.7h2.1M436.9 322.7h7.3M551.1 322.7h9.6M154.5 328.2h1.8M174.4 328.2h2.2M300.6 328.2h4.7M390.4 328.2h6.4M423 328.2h7M86.3 333.6h1.2M105.3 333.6h1.2M329 333.6h5.2M451.4 333.6h7.6M466.5 333.6h7.9M560.5 333.6h9.7M105.3 339.1h1.2M120 339.1h1.2M129.7 339.1h1.3M164.8 339.1h2M339.2 339.1h5.4M360.9 339.1h5.8M570.1 339.1h9.9M105.3 344.5h1.2M180.7 344.5h2.3M92.6 350h1.2M105.3 350h1.2M191.9 350h2.5M309.7 350h4.8M107.4 355.4h1.2M164.8 355.4h2M174.4 355.4h2.2M309.7 355.4h4.8M579.9 355.4h10.1M94.7 360.9h1.2M109.5 360.9h1.2M215 360.9h3M319.2 360.9h5M344.5 360.9h5.5M466.5 360.9h7.9M85.3 366.3h1.2M88.4 366.3h2.3M106.3 366.3h1.2M128.6 366.3h1.3M151.3 366.3h1.7M329 366.3h5.2M139.7 371.8h1.5M209.5 371.8h2.9M482.1 371.8h8.2M111.6 377.2h1.2M378.3 377.2h6.2M506.7 377.2h8.7M267.6 382.6h4M378.3 382.6h6.2M409.6 382.6h6.8M490.2 382.6h8.4M589.8 382.6h11.3M89.5 388.1h1.2M142.4 388.1h1.6M206.9 388.1h2.8M423 388.1h7M444.1 388.1h7.5M515.3 388.1h8.9M92.6 393.5h1.2M105.3 393.5h1.2M178.6 393.5h4.4M319.2 393.5h5M390.4 393.5h6.4M506.7 393.5h8.7M551.1 393.5h9.6M498.4 399h8.5M107.4 404.4h1.2M139.7 404.4h1.5M157.8 404.4h1.9M239.3 404.4h3.5M305.1 404.4h9.4M151.3 409.9h1.7M283.5 409.9h8.6M300.6 409.9h4.7M515.3 409.9h17.7M579.9 409.9h10.1M93.7 415.3h1.2M151.3 415.3h1.7M174.4 415.3h2.2M180.7 415.3h2.3M390.4 415.3h6.4M226.7 420.8h3.2M275.4 420.8h4.2M490.2 420.8h16.7M560.5 420.8h9.7M110.5 426.2h1.2M130.9 426.2h1.3M151.3 426.2h1.7M166.7 426.2h2M458.9 426.2h7.7M482.1 426.2h8.2M94.7 431.6h1.2M185 431.6h2.4M314.4 431.6h4.9M451.4 431.6h7.6M126.4 437.1h1.2M339.2 437.1h5.4M436.9 437.1h7.3M506.7 437.1h8.7M551.1 437.1h9.6M86.3 442.5h1.2M97.9 442.5h2.3M111.6 442.5h1.2M117.9 442.5h1.2M129.7 442.5h1.3M154.5 442.5h1.8M212.3 442.5h2.9M339.2 442.5h5.4M482.1 442.5h8.2M84.2 448h1.2M116.9 448h1.2M159.5 448h1.9M178.6 448h2.3M223.7 448h3.1M260.1 448h3.9M366.6 448h5.9M458.9 448h7.7M498.4 448h8.5M90.5 453.4h1.2M168.6 453.4h2.1M324.1 453.4h5.1M409.6 453.4h6.8M96.9 458.9h1.2M109.5 458.9h1.2M116.9 458.9h1.2M185 458.9h2.4M436.9 458.9h7.3M506.7 458.9h8.7M532.8 458.9h9.2M579.9 458.9h10.1M85.3 464.3h1.2M95.8 464.3h1.2M161.2 464.3h1.9M296.2 464.3h4.6M314.4 464.3h4.9M113.7 469.8h1.2M429.9 469.8h7.2M541.9 469.8h18.8M589.8 469.8h11.3M91.6 475.2h1.2M117.9 475.2h1.2M551.1 475.2h9.6M85.3 480.7h1.2M96.9 480.7h1.2M135.7 480.7h2.7M182.8 480.7h2.3M220.7 480.7h3.1M458.9 480.7h7.7M89.5 486.1h1.2M97.9 486.1h2.3M105.3 486.1h1.2M506.7 486.1h8.7M91.6 491.5h1.2M113.7 491.5h1.2M116.9 491.5h1.2M145.2 491.5h1.6M149.7 491.5h1.7M329 491.5h5.2M109.5 497h1.2M138.3 497h1.5M378.3 497h6.2M423 497h7M458.9 497h7.7M524 497h9M551.1 497h9.6M104.2 502.4h1.2M116.9 502.4h1.2M191.9 502.4h2.5M300.6 502.4h4.7M384.3 502.4h6.3M451.4 502.4h7.6M474.2 502.4h16.1M86.3 507.9h1.2M89.5 507.9h1.2M111.6 507.9h1.2M130.9 507.9h1.3M232.9 507.9h3.3M451.4 507.9h7.6"/><path stroke="rgb(83,83,83)" d="M85.3 77.7h1.2M163 77.7h2M168.6 77.7h2.1M194.3 77.7h2.6M366.6 77.7h5.9M384.3 77.7h6.3M506.7 77.7h8.7M91.6 83.2h1.2M372.4 83.2h6.1M139.7 88.6h1.5M319.2 88.6h5M355.3 88.6h5.7M81.1 94.1h1.2M94.7 94.1h1.2M145.2 94.1h1.6M178.6 94.1h2.3M191.9 94.1h2.5M217.9 94.1h3M319.2 94.1h5M355.3 94.1h5.7M396.7 94.1h6.5M409.6 94.1h6.8M570.1 94.1h9.9M589.8 94.1h11.3M90.5 99.5h1.2M123.2 99.5h1.2M589.8 99.5h11.3M94.7 104.9h1.2M99 104.9h1.2M104.2 104.9h1.2M114.8 104.9h1.2M215 104.9h3M305.1 104.9h4.7M339.2 104.9h5.4M366.6 104.9h5.9M114.8 110.4h1.2M125.3 110.4h1.2M127.5 110.4h1.3M178.6 110.4h2.3M305.1 110.4h9.4M115.8 115.8h1.2M129.7 115.8h1.3M172.4 115.8h2.1M305.1 115.8h4.7M396.7 115.8h6.5M451.4 115.8h7.6M570.1 115.8h19.9M80 121.3h1.2M85.3 121.3h1.2M96.9 121.3h1.2M129.7 121.3h1.3M180.7 121.3h2.3M229.7 121.3h3.3M532.8 121.3h9.2M97.9 126.7h1.2M189.6 126.7h2.5M199.2 126.7h2.7M324.1 126.7h15.3M390.4 126.7h6.4M409.6 126.7h6.8M506.7 126.7h8.7M110.5 132.2h1.2M130.9 132.2h1.3M133.3 132.2h1.4M161.2 132.2h1.9M366.6 132.2h5.9M390.4 132.2h6.4M498.4 132.2h8.5M532.8 132.2h9.2M164.8 137.6h2M260.1 137.6h3.9M99 143.1h1.2M110.5 143.1h2.3M139.7 143.1h1.5M524 143.1h9M86.3 148.5h1.2M110.5 148.5h1.2M148.2 148.5h3.2M314.4 148.5h4.9M324.1 148.5h10.2M339.2 148.5h5.4M423 148.5h7M532.8 148.5h9.2M94.7 154h2.3M117.9 154h1.2M137 154h1.5M170.5 154h2.1M182.8 154h2.3M349.9 154h5.6M360.9 154h5.8M90.5 159.4h1.2M113.7 159.4h1.2M239.3 159.4h3.5M283.5 159.4h4.3M296.2 159.4h4.6M329 159.4h5.2M339.2 159.4h5.4M416.2 159.4h6.9M429.9 159.4h7.2M541.9 159.4h9.4M579.9 159.4h10.1M84.2 164.8h1.2M99 164.8h1.2M108.4 164.8h1.2M132.1 164.8h1.4M172.4 164.8h2.1M551.1 164.8h9.6M85.3 170.3h1.2M107.4 170.3h1.2M112.6 170.3h1.2M185 170.3h2.4M384.3 170.3h6.3M87.4 175.7h1.2M104.2 175.7h1.2M115.8 175.7h1.2M133.3 175.7h1.4M161.2 175.7h1.9M166.7 175.7h2M324.1 175.7h5.1M378.3 175.7h12.3M403.1 175.7h6.7M423 175.7h7M482.1 175.7h8.2M191.9 181.2h2.5M384.3 181.2h6.3M515.3 181.2h8.9M84.2 186.6h1.2M182.8 186.6h2.3M196.7 186.6h2.6M444.1 186.6h7.5M84.2 192.1h1.2M90.5 192.1h1.2M157.8 192.1h1.9M206.9 192.1h2.8M314.4 192.1h4.9M390.4 192.1h6.4M524 192.1h9M560.5 192.1h9.7M84.2 197.5h1.2M121.1 197.5h1.2M551.1 197.5h9.6M110.5 203h1.2M180.7 203h2.3M212.3 203h2.9M283.5 203h4.3M570.1 203h9.9M91.6 208.4h1.2M125.3 208.4h1.2M134.5 208.4h1.4M146.7 208.4h1.6M189.6 208.4h2.5M212.3 208.4h2.9M541.9 208.4h9.4M106.3 213.8h1.2M137 213.8h1.5M287.6 213.8h4.4M334.1 213.8h5.3M444.1 213.8h7.5M466.5 213.8h7.9M498.4 213.8h8.5M532.8 213.8h9.2M579.9 213.8h10.1M90.5 219.3h1.2M95.8 219.3h1.2M105.3 219.3h1.2M107.4 219.3h1.2M191.9 219.3h2.5M466.5 219.3h7.9M172.4 224.7h2.1M223.7 224.7h3.1M355.3 224.7h5.7M498.4 224.7h8.5M515.3 224.7h8.9M86.3 230.2h1.2M111.6 230.2h1.2M194.3 230.2h2.6M206.9 230.2h2.8M226.7 230.2h3.2M349.9 230.2h5.6M403.1 230.2h6.7M458.9 230.2h15.5M532.8 230.2h9.2M589.8 230.2h11.3M97.9 235.6h1.2M106.3 235.6h1.2M122.1 235.6h2.3M139.7 235.6h1.5M149.7 235.6h1.7M170.5 235.6h2.1M429.9 235.6h7.2M570.1 235.6h19.9M84.2 241.1h1.2M93.7 241.1h1.2M159.5 241.1h1.9M92.6 246.5h1.2M260.1 246.5h3.9M444.1 246.5h7.5M570.1 246.5h9.9M90.5 252h2.3M115.8 252h1.2M154.5 252h1.8M189.6 252h2.5M209.5 252h5.6M423 252h7M436.9 252h7.3M458.9 252h7.7M498.4 252h17.1M90.5 257.4h1.2M123.2 257.4h1.2M215 257.4h3M372.4 257.4h6.1M396.7 257.4h6.5M429.9 257.4h7.2M498.4 257.4h8.5M551.1 257.4h9.6M579.9 257.4h10.1M111.6 262.9h1.2M532.8 262.9h9.2M92.6 268.3h1.2M94.7 268.3h1.2M133.3 268.3h1.4M139.7 268.3h1.5M152.9 268.3h1.8M159.5 268.3h1.9M191.9 268.3h2.5M423 268.3h7M451.4 268.3h7.6M93.7 273.7h1.2M117.9 273.7h1.2M191.9 273.7h2.5M300.6 273.7h4.7M334.1 273.7h5.3M416.2 273.7h6.9M524 273.7h9M579.9 273.7h10.1M271.4 279.2h4.1M436.9 279.2h7.3M90.5 284.6h1.2M111.6 284.6h1.2M132.1 284.6h1.4M524 284.6h9M93.7 290.1h1.2M95.8 290.1h1.2M97.9 290.1h1.2M104.2 290.1h1.2M115.8 290.1h1.2M117.9 290.1h1.2M121.1 290.1h1.2M226.7 290.1h3.2M403.1 290.1h6.7M416.2 290.1h6.9M524 290.1h9M84.2 295.5h1.2M132.1 295.5h1.4M142.4 295.5h1.6M515.3 295.5h8.9M163 301h2M366.6 301h5.9M416.2 301h6.9M579.9 301h10.1M90.5 306.4h1.2M154.5 306.4h1.8M182.8 306.4h2.3M372.4 306.4h6.1M570.1 306.4h9.9M85.3 311.9h1.2M126.4 311.9h1.2M220.7 311.9h3.1M314.4 311.9h4.9M429.9 311.9h7.2M90.5 317.3h1.2M133.3 317.3h1.4M139.7 317.3h1.5M172.4 317.3h2.1M182.8 317.3h2.3M215 317.3h5.9M305.1 317.3h4.7M390.4 317.3h6.4M515.3 317.3h8.9M532.8 317.3h9.2M85.3 322.7h1.2M89.5 322.7h1.2M163 322.7h2M166.7 322.7h2M570.1 322.7h9.9M107.4 328.2h1.2M113.7 328.2h1.2M151.3 328.2h1.7M166.7 328.2h2M196.7 328.2h2.6M206.9 328.2h2.8M305.1 328.2h4.7M541.9 328.2h18.8M113.7 333.6h1.2M187.3 333.6h2.4M296.2 333.6h4.6M423 333.6h7M498.4 333.6h8.5M570.1 333.6h19.9M109.5 339.1h1.2M117.9 339.1h1.2M154.5 339.1h1.8M194.3 339.1h2.6M344.5 339.1h5.5M466.5 339.1h7.9M490.2 339.1h8.4M95.8 344.5h1.2M176.5 344.5h2.2M329 344.5h5.2M372.4 344.5h6.1M474.2 344.5h8M560.5 344.5h9.7M579.9 344.5h10.1M89.5 350h1.2M94.7 350h1.2M541.9 350h9.4M90.5 355.4h1.2M139.7 355.4h1.5M168.6 355.4h2.1M172.4 355.4h2.1M176.5 355.4h2.2M324.1 355.4h5.1M429.9 355.4h7.2M532.8 355.4h9.2M589.8 355.4h11.3M104.2 360.9h1.2M107.4 360.9h1.2M114.8 360.9h1.2M130.9 360.9h1.3M141 360.9h1.5M174.4 360.9h2.2M182.8 360.9h2.3M212.3 360.9h2.9M300.6 360.9h4.7M334.1 360.9h5.3M490.2 360.9h8.4M83.2 366.3h1.2M91.6 366.3h1.2M117.9 366.3h1.2M164.8 366.3h2M168.6 366.3h2.1M196.7 366.3h2.6M458.9 366.3h15.5M560.5 366.3h9.7M88.4 371.8h1.2M319.2 371.8h5M372.4 371.8h6.1M416.2 371.8h6.9M429.9 371.8h7.2M126.4 377.2h1.2M154.5 377.2h1.8M466.5 377.2h7.9M570.1 377.2h9.9M113.7 382.6h1.2M170.5 382.6h2.1M182.8 382.6h4.6M300.6 382.6h4.7M104.2 388.1h1.2M132.1 388.1h1.4M176.5 388.1h2.2M229.7 388.1h3.3M334.1 388.1h5.3M409.6 388.1h6.8M85.3 393.5h1.2M96.9 393.5h1.2M194.3 393.5h2.6M378.3 393.5h6.2M482.1 393.5h8.2M85.3 399h1.2M92.6 399h1.2M106.3 399h1.2M142.4 399h1.6M185 399h2.4M215 399h3M300.6 399h4.7M309.7 399h4.8M334.1 399h5.3M344.5 399h5.5M506.7 399h8.7M560.5 399h9.7M99 404.4h1.2M110.5 404.4h1.2M117.9 404.4h1.2M125.3 404.4h1.2M161.2 404.4h1.9M201.7 404.4h2.7M232.9 404.4h3.3M324.1 404.4h5.1M344.5 404.4h5.5M570.1 404.4h9.9M87.4 409.9h1.2M97.9 409.9h1.2M117.9 409.9h1.2M319.2 409.9h5M506.7 409.9h8.7M109.5 415.3h1.2M172.4 415.3h2.1M206.9 415.3h2.8M474.2 415.3h8M560.5 415.3h9.7M85.3 420.8h1.2M108.4 420.8h1.2M114.8 420.8h2.3M236 420.8h3.4M300.6 420.8h4.7M314.4 420.8h4.9M416.2 420.8h6.9M532.8 420.8h9.2M93.7 426.2h1.2M108.4 426.2h1.2M116.9 426.2h1.2M143.8 426.2h1.6M148.2 426.2h1.7M168.6 426.2h2.1M329 426.2h5.2M416.2 426.2h6.9M515.3 426.2h8.9M90.5 431.6h1.2M112.6 431.6h1.2M159.5 431.6h1.9M524 431.6h18.1M86.3 437.1h1.2M99 437.1h1.2M172.4 437.1h2.1M217.9 437.1h6M396.7 437.1h6.5M541.9 437.1h9.4M91.6 442.5h1.2M108.4 442.5h1.2M114.8 442.5h1.2M172.4 442.5h2.1M196.7 442.5h2.6M236 442.5h3.4M384.3 442.5h6.3M451.4 442.5h7.6M560.5 442.5h9.7M86.3 448h1.2M95.8 448h1.2M143.8 448h1.6M157.8 448h1.9M209.5 448h2.9M249.4 448h3.7M466.5 448h7.9M560.5 448h9.7M589.8 448h11.3M122.1 453.4h1.2M157.8 453.4h1.9M490.2 453.4h8.4M515.3 453.4h8.9M579.9 453.4h10.1M108.4 458.9h1.2M129.7 458.9h1.3M146.7 458.9h1.6M149.7 458.9h1.7M212.3 458.9h2.9M260.1 458.9h3.9M287.6 458.9h4.4M319.2 458.9h5M466.5 458.9h7.9M482.1 458.9h8.2M87.4 464.3h1.2M122.1 464.3h1.2M135.7 464.3h1.4M201.7 464.3h2.7M245.9 464.3h3.6M466.5 464.3h7.9M560.5 464.3h9.7M92.6 469.8h1.2M96.9 469.8h1.2M111.6 469.8h1.2M220.7 469.8h3.1M506.7 469.8h8.7M82.1 475.2h1.2M87.4 475.2h1.2M296.2 475.2h4.6M91.6 480.7h1.2M94.7 480.7h1.2M111.6 480.7h1.2M157.8 480.7h1.9M166.7 480.7h2M279.4 480.7h4.2M451.4 480.7h7.6M532.8 480.7h9.2M570.1 480.7h9.9M122.1 486.1h1.2M141 486.1h1.5M163 486.1h2M178.6 486.1h2.3M114.8 491.5h1.2M121.1 491.5h1.2M378.3 491.5h6.2M458.9 491.5h7.7M85.3 497h1.2M141 497h1.5M196.7 497h2.6M498.4 497h8.5M560.5 497h9.7M90.5 502.4h1.2M97.9 502.4h1.2M122.1 502.4h1.2M138.3 502.4h1.5M185 502.4h2.4M196.7 502.4h2.6M279.4 502.4h8.4M355.3 502.4h5.7M458.9 502.4h7.7M570.1 502.4h9.9M109.5 507.9h2.3M139.7 507.9h1.5M156.1 507.9h1.8M305.1 507.9h4.7M324.1 507.9h5.1M384.3 507.9h6.3M474.2 507.9h8"/><path stroke="rgb(90,90,90)" d="M86.3 77.7h2.3M90.5 77.7h1.2M108.4 77.7h1.2M314.4 77.7h4.9M390.4 77.7h6.4M458.9 77.7h7.7M94.7 83.2h1.2M166.7 83.2h2M180.7 83.2h2.3M256.4 83.2h3.8M283.5 83.2h4.3M296.2 83.2h4.6M344.5 83.2h5.5M384.3 83.2h6.3M429.9 83.2h7.2M579.9 83.2h10.1M94.7 88.6h1.2M166.7 88.6h2M189.6 88.6h2.5M334.1 88.6h5.3M436.9 88.6h7.3M490.2 88.6h8.4M95.8 94.1h1.2M111.6 94.1h1.2M161.2 94.1h1.9M296.2 94.1h4.6M349.9 94.1h5.6M423 94.1h7M436.9 94.1h7.3M88.4 99.5h1.2M114.8 99.5h1.2M138.3 99.5h1.5M145.2 99.5h1.6M151.3 99.5h1.7M154.5 99.5h1.8M174.4 99.5h2.2M187.3 99.5h2.4M309.7 99.5h4.8M355.3 99.5h5.7M466.5 99.5h15.8M84.2 104.9h1.2M87.4 104.9h3.3M103.2 104.9h1.2M329 104.9h5.2M436.9 104.9h14.6M85.3 110.4h1.2M89.5 110.4h1.2M94.7 110.4h1.2M409.6 110.4h6.8M498.4 110.4h8.5M524 110.4h9M85.3 115.8h1.2M139.7 115.8h1.5M260.1 115.8h3.9M339.2 115.8h5.4M366.6 115.8h5.9M551.1 115.8h9.6M256.4 121.3h7.5M334.1 121.3h5.3M344.5 121.3h5.5M396.7 121.3h6.5M506.7 121.3h8.7M589.8 121.3h11.3M91.6 126.7h1.2M96.9 126.7h1.2M154.5 126.7h1.8M223.7 126.7h3.1M319.2 126.7h5M95.8 132.2h2.3M114.8 132.2h1.2M137 132.2h1.5M163 132.2h2M206.9 132.2h2.8M429.9 132.2h14.4M88.4 137.6h1.2M108.4 137.6h1.2M117.9 137.6h1.2M133.3 137.6h1.4M137 137.6h1.5M324.1 137.6h5.1M339.2 137.6h5.4M390.4 137.6h6.4M436.9 137.6h7.3M474.2 137.6h16.1M524 137.6h9M551.1 137.6h9.6M114.8 143.1h1.2M135.7 143.1h1.4M159.5 143.1h1.9M215 143.1h3M245.9 143.1h3.6M403.1 143.1h6.7M89.5 148.5h1.2M105.3 148.5h1.2M113.7 148.5h1.2M121.1 148.5h1.2M137 148.5h1.5M187.3 148.5h2.4M249.4 148.5h3.7M309.7 148.5h4.8M416.2 148.5h6.9M436.9 148.5h7.3M148.2 154h1.7M176.5 154h2.2M194.3 154h2.6M329 154h5.2M474.2 154h8M87.4 159.4h1.2M95.8 159.4h1.2M106.3 159.4h1.2M111.6 159.4h1.2M124.2 159.4h1.2M223.7 159.4h3.1M305.1 159.4h4.7M378.3 159.4h6.2M458.9 159.4h7.7M90.5 164.8h1.2M96.9 164.8h1.2M178.6 164.8h2.3M91.6 170.3h1.2M149.7 170.3h1.7M163 170.3h2M199.2 170.3h2.7M329 170.3h5.2M396.7 170.3h6.5M409.6 170.3h6.8M436.9 170.3h7.3M474.2 170.3h8M97.9 175.7h1.2M113.7 175.7h1.2M152.9 175.7h1.8M204.2 175.7h2.8M300.6 175.7h9.2M416.2 175.7h6.9M458.9 175.7h7.7M474.2 175.7h8M589.8 175.7h11.3M93.7 181.2h1.2M97.9 181.2h1.2M104.2 181.2h1.2M107.4 181.2h2.3M128.6 181.2h1.3M283.5 181.2h4.3M490.2 181.2h16.7M112.6 186.6h1.2M132.1 186.6h1.4M300.6 186.6h4.7M458.9 186.6h7.7M474.2 186.6h8M589.8 186.6h11.3M88.4 192.1h1.2M92.6 192.1h1.2M145.2 192.1h1.6M180.7 192.1h2.3M191.9 192.1h2.5M209.5 192.1h2.9M300.6 192.1h4.7M334.1 192.1h5.3M436.9 192.1h7.3M466.5 192.1h7.9M506.7 192.1h8.7M95.8 197.5h1.2M107.4 197.5h1.2M114.8 197.5h1.2M220.7 197.5h3.1M260.1 197.5h3.9M334.1 197.5h5.3M366.6 197.5h5.9M532.8 197.5h9.2M570.1 197.5h9.9M89.5 203h1.2M92.6 203h1.2M121.1 203h1.2M187.3 203h2.4M416.2 203h6.9M560.5 203h9.7M141 208.4h1.5M164.8 208.4h2M204.2 208.4h2.8M305.1 208.4h4.7M416.2 208.4h6.9M466.5 208.4h7.9M482.1 208.4h8.2M168.6 213.8h2.1M196.7 213.8h2.6M217.9 213.8h3M570.1 213.8h9.9M97.9 219.3h1.2M108.4 219.3h1.2M112.6 219.3h1.2M154.5 219.3h1.8M159.5 219.3h1.9M174.4 219.3h2.2M199.2 219.3h2.7M229.7 219.3h3.3M245.9 219.3h3.6M263.8 219.3h3.9M305.1 219.3h4.7M339.2 219.3h5.4M436.9 219.3h7.3M84.2 224.7h1.2M99 224.7h1.2M104.2 224.7h1.2M196.7 224.7h2.6M206.9 224.7h2.8M490.2 224.7h8.4M149.7 230.2h1.7M300.6 230.2h4.7M366.6 230.2h5.9M444.1 230.2h7.5M498.4 230.2h8.5M93.7 235.6h1.2M105.3 235.6h1.2M125.3 235.6h1.2M145.2 235.6h1.6M329 235.6h10.4M474.2 235.6h16.1M515.3 235.6h8.9M92.6 241.1h1.2M94.7 241.1h1.2M109.5 241.1h1.2M220.7 241.1h3.1M378.3 241.1h6.2M403.1 241.1h6.7M436.9 241.1h7.3M90.5 246.5h1.2M126.4 246.5h1.2M128.6 246.5h1.3M151.3 246.5h1.7M201.7 246.5h2.7M296.2 246.5h4.6M334.1 246.5h10.6M384.3 246.5h6.3M482.1 246.5h8.2M83.2 252h4.4M96.9 252h1.2M104.2 252h1.2M108.4 252h1.2M229.7 252h3.3M366.6 252h5.9M409.6 252h13.5M81.1 257.4h1.2M114.8 257.4h1.2M159.5 257.4h1.9M194.3 257.4h2.6M314.4 257.4h4.9M329 257.4h10.4M83.2 262.9h1.2M129.7 262.9h1.3M143.8 262.9h1.6M226.7 262.9h3.2M296.2 262.9h4.6M360.9 262.9h5.8M423 262.9h7M444.1 262.9h7.5M515.3 262.9h8.9M560.5 262.9h9.7M130.9 268.3h1.3M174.4 268.3h2.2M215 268.3h3M560.5 268.3h9.7M91.6 273.7h1.2M97.9 273.7h1.2M130.9 273.7h1.3M182.8 273.7h2.3M215 273.7h3M319.2 273.7h10M482.1 273.7h8.2M126.4 279.2h1.2M137 279.2h1.5M172.4 279.2h2.1M204.2 279.2h2.8M349.9 279.2h11.2M378.3 279.2h6.2M560.5 279.2h9.7M82.1 284.6h1.2M108.4 284.6h1.2M115.8 284.6h1.2M174.4 284.6h2.2M217.9 284.6h3M239.3 284.6h3.5M436.9 284.6h7.3M94.7 290.1h1.2M130.9 290.1h1.3M141 290.1h1.5M300.6 290.1h4.7M309.7 290.1h4.8M329 290.1h5.2M360.9 290.1h5.8M515.3 290.1h8.9M180.7 295.5h2.3M199.2 295.5h2.7M349.9 295.5h5.6M423 295.5h7M490.2 295.5h8.4M524 295.5h9M83.2 301h1.2M96.9 301h1.2M105.3 301h1.2M133.3 301h1.4M212.3 301h5.8M390.4 301h6.4M498.4 301h8.5M524 301h9M551.1 301h19.1M95.8 306.4h1.2M112.6 306.4h1.2M130.9 306.4h1.3M152.9 306.4h1.8M156.1 306.4h3.5M215 306.4h3M220.7 306.4h3.1M305.1 306.4h4.7M319.2 306.4h5M579.9 306.4h10.1M117.9 311.9h1.2M159.5 311.9h1.9M163 311.9h2M300.6 311.9h4.7M319.2 311.9h10M334.1 311.9h5.3M390.4 311.9h6.4M436.9 311.9h7.3M86.3 317.3h1.2M105.3 317.3h1.2M226.7 317.3h3.2M384.3 317.3h6.3M429.9 317.3h7.2M541.9 317.3h9.4M96.9 322.7h1.2M129.7 322.7h2.5M135.7 322.7h1.4M201.7 322.7h2.7M296.2 322.7h4.6M474.2 322.7h8M524 322.7h9M84.2 328.2h2.3M111.6 328.2h1.2M148.2 328.2h1.7M163 328.2h2M168.6 328.2h2.1M220.7 328.2h3.1M466.5 328.2h7.9M506.7 328.2h17.4M90.5 333.6h2.3M109.5 333.6h1.2M117.9 333.6h1.2M151.3 333.6h3.3M170.5 333.6h2.1M226.7 333.6h3.2M267.6 333.6h4M319.2 333.6h5M444.1 333.6h7.5M506.7 333.6h8.7M85.3 339.1h1.2M104.2 339.1h1.2M172.4 339.1h2.1M355.3 339.1h5.7M482.1 339.1h8.2M84.2 344.5h1.2M91.6 344.5h2.3M96.9 344.5h1.2M111.6 344.5h2.3M115.8 344.5h1.2M134.5 344.5h1.4M141 344.5h1.5M154.5 344.5h1.8M458.9 344.5h7.7M551.1 344.5h9.6M86.3 350h1.2M135.7 350h1.4M148.2 350h1.7M180.7 350h2.3M339.2 350h5.4M403.1 350h6.7M444.1 350h7.5M474.2 350h8M490.2 350h8.4M532.8 350h9.2M84.2 355.4h1.2M88.4 355.4h1.2M91.6 355.4h1.2M93.7 355.4h1.2M110.5 355.4h1.2M132.1 355.4h1.4M134.5 355.4h1.4M143.8 355.4h1.6M154.5 355.4h1.8M451.4 355.4h7.6M498.4 355.4h8.5M128.6 360.9h2.4M232.9 360.9h3.3M390.4 360.9h6.4M423 360.9h7M444.1 360.9h7.5M86.3 366.3h1.2M108.4 366.3h1.2M111.6 366.3h1.2M122.1 366.3h1.2M129.7 366.3h1.3M145.2 366.3h1.6M287.6 366.3h4.4M579.9 366.3h10.1M90.5 371.8h1.2M112.6 371.8h1.2M515.3 371.8h17.7M560.5 371.8h9.7M86.3 377.2h1.2M105.3 377.2h1.2M137 377.2h1.5M139.7 377.2h1.5M390.4 377.2h6.4M451.4 377.2h7.6M498.4 377.2h8.5M85.3 382.6h1.2M122.1 382.6h1.2M215 382.6h3M339.2 382.6h5.4M355.3 382.6h5.7M506.7 382.6h8.7M145.2 388.1h1.6M170.5 388.1h2.1M390.4 388.1h6.4M466.5 388.1h7.9M112.6 393.5h1.2M133.3 393.5h1.4M166.7 393.5h2M204.2 393.5h2.8M384.3 393.5h6.3M579.9 393.5h10.1M108.4 399h1.2M111.6 399h1.2M133.3 399h1.4M163 399h2M182.8 399h2.3M217.9 399h3M260.1 399h3.9M339.2 399h5.4M366.6 399h5.9M416.2 399h6.9M436.9 399h7.3M451.4 399h7.6M579.9 399h10.1M91.6 404.4h1.2M95.8 404.4h1.2M116.9 404.4h1.2M163 404.4h2M423 404.4h7M115.8 409.9h1.2M159.5 409.9h1.9M204.2 409.9h2.8M403.1 409.9h6.7M416.2 409.9h6.9M444.1 409.9h7.5M458.9 409.9h7.7M86.3 415.3h3.3M95.8 415.3h2.3M127.5 415.3h1.3M191.9 415.3h2.5M429.9 415.3h7.2M458.9 415.3h7.7M490.2 415.3h8.4M515.3 415.3h8.9M589.8 415.3h11.3M95.8 420.8h1.2M199.2 420.8h2.7M204.2 420.8h5.4M215 420.8h3M223.7 420.8h3.1M551.1 420.8h9.6M88.4 426.2h1.2M96.9 426.2h1.2M106.3 426.2h1.2M117.9 426.2h1.2M149.7 426.2h1.7M334.1 426.2h5.3M466.5 426.2h7.9M88.4 431.6h1.2M121.1 431.6h1.2M260.1 431.6h3.9M296.2 431.6h4.6M329 431.6h5.2M355.3 431.6h5.7M396.7 431.6h6.5M85.3 437.1h1.2M108.4 437.1h1.2M196.7 437.1h2.6M305.1 437.1h4.7M384.3 437.1h6.3M444.1 437.1h7.5M138.3 442.5h1.5M215 442.5h5.9M249.4 442.5h3.7M256.4 442.5h3.8M314.4 442.5h4.9M490.2 442.5h8.4M532.8 442.5h9.2M117.9 448h1.2M168.6 448h2.1M204.2 448h2.8M239.3 448h3.5M89.5 453.4h1.2M92.6 453.4h1.2M96.9 453.4h1.2M138.3 453.4h1.5M148.2 453.4h1.7M187.3 453.4h2.4M541.9 453.4h9.4M114.8 458.9h1.2M172.4 458.9h2.1M187.3 458.9h2.4M390.4 458.9h6.4M498.4 458.9h8.5M515.3 458.9h8.9M113.7 464.3h1.2M116.9 464.3h1.2M123.2 464.3h1.2M187.3 464.3h2.4M191.9 464.3h2.5M416.2 464.3h13.8M498.4 464.3h8.5M541.9 464.3h18.8M94.7 469.8h1.2M117.9 469.8h1.2M151.3 469.8h1.7M176.5 469.8h2.2M182.8 469.8h2.3M305.1 469.8h9.4M360.9 469.8h5.8M384.3 469.8h6.3M403.1 469.8h6.7M109.5 475.2h1.2M111.6 475.2h1.2M138.3 475.2h1.5M189.6 475.2h2.5M217.9 475.2h3M319.2 475.2h5M366.6 475.2h5.9M378.3 475.2h6.2M541.9 475.2h9.4M126.4 480.7h1.2M139.7 480.7h1.5M152.9 480.7h1.8M319.2 480.7h5M366.6 480.7h5.9M524 480.7h9M85.3 486.1h1.2M90.5 486.1h1.2M109.5 486.1h1.2M111.6 486.1h1.2M164.8 486.1h2M201.7 486.1h2.7M206.9 486.1h5.5M226.7 486.1h3.2M324.1 486.1h5.1M451.4 486.1h15.2M579.9 486.1h10.1M97.9 491.5h1.2M105.3 491.5h1.2M125.3 491.5h1.2M133.3 491.5h1.4M194.3 491.5h2.6M223.7 491.5h3.1M83.2 497h1.2M94.7 497h1.2M99 497h1.2M110.5 497h1.2M145.2 497h1.6M159.5 497h1.9M163 497h2M170.5 497h2.1M309.7 497h4.8M319.2 497h5M339.2 497h5.4M360.9 497h5.8M403.1 497h6.7M589.8 497h11.3M95.8 502.4h1.2M349.9 502.4h5.6M366.6 502.4h5.9M560.5 502.4h9.7M114.8 507.9h1.2M137 507.9h1.5M344.5 507.9h5.5M570.1 507.9h9.9"/><path stroke="rgb(97,97,97)" d="M142.4 77.7h1.6M196.7 77.7h2.6M204.2 77.7h2.8M263.8 77.7h3.9M378.3 77.7h6.2M409.6 77.7h6.8M451.4 77.7h7.6M570.1 77.7h9.9M85.3 83.2h1.2M108.4 83.2h1.2M172.4 83.2h2.1M176.5 83.2h2.2M403.1 83.2h6.7M506.7 83.2h8.7M551.1 83.2h9.6M123.2 88.6h1.2M130.9 88.6h1.3M172.4 88.6h2.1M329 88.6h5.2M344.5 88.6h5.5M88.4 94.1h1.2M115.8 94.1h1.2M159.5 94.1h1.9M168.6 94.1h2.1M194.3 94.1h2.6M206.9 94.1h2.8M524 94.1h9M92.6 99.5h1.2M94.7 99.5h1.2M97.9 99.5h1.2M423 99.5h7M541.9 99.5h9.4M93.7 104.9h1.2M108.4 104.9h1.2M115.8 104.9h1.2M142.4 104.9h1.6M163 104.9h2M239.3 104.9h3.5M372.4 104.9h6.1M451.4 104.9h7.6M490.2 104.9h8.4M111.6 110.4h1.2M117.9 110.4h1.2M212.3 110.4h2.9M249.4 110.4h3.7M339.2 110.4h5.4M349.9 110.4h5.6M403.1 110.4h6.7M506.7 110.4h8.7M579.9 110.4h10.1M114.8 115.8h1.2M152.9 115.8h1.8M319.2 115.8h5M423 115.8h7M524 115.8h9M560.5 115.8h9.7M113.7 121.3h1.2M176.5 121.3h2.2M182.8 121.3h2.3M199.2 121.3h2.7M360.9 121.3h5.8M384.3 121.3h6.3M134.5 126.7h1.4M143.8 126.7h1.6M283.5 126.7h4.3M355.3 126.7h5.7M384.3 126.7h6.3M403.1 126.7h6.7M524 126.7h9M116.9 132.2h1.2M223.7 132.2h3.1M305.1 132.2h9.4M85.3 137.6h1.2M89.5 137.6h1.2M91.6 137.6h1.2M129.7 137.6h1.3M300.6 137.6h4.7M451.4 137.6h7.6M92.6 143.1h1.2M133.3 143.1h1.4M145.2 143.1h1.6M180.7 143.1h2.3M201.7 143.1h2.7M212.3 143.1h2.9M283.5 143.1h4.3M429.9 143.1h7.2M466.5 143.1h7.9M93.7 148.5h1.2M111.6 148.5h1.2M156.1 148.5h1.8M300.6 148.5h4.7M384.3 148.5h6.3M444.1 148.5h7.5M110.5 154h1.2M120 154h1.2M141 154h1.5M174.4 154h2.2M220.7 154h3.1M314.4 154h4.9M378.3 154h12.3M396.7 154h6.5M515.3 154h8.9M129.7 159.4h1.3M135.7 159.4h1.4M163 159.4h2M182.8 159.4h2.3M314.4 159.4h4.9M344.5 159.4h11M403.1 159.4h13.3M524 159.4h18.1M551.1 159.4h9.6M80 164.8h1.2M114.8 164.8h1.2M125.3 164.8h1.2M128.6 164.8h1.3M130.9 164.8h1.3M170.5 164.8h2.1M180.7 164.8h2.3M223.7 164.8h6.2M334.1 164.8h5.3M403.1 164.8h6.7M482.1 164.8h8.2M532.8 164.8h9.2M570.1 164.8h9.9M87.4 170.3h1.2M92.6 170.3h1.2M94.7 170.3h1.2M96.9 170.3h1.2M116.9 170.3h1.2M126.4 170.3h1.2M134.5 170.3h1.4M161.2 170.3h1.9M168.6 170.3h2.1M189.6 170.3h2.5M403.1 170.3h6.7M524 170.3h9M111.6 175.7h2.3M532.8 175.7h9.2M551.1 175.7h9.6M121.1 181.2h1.2M159.5 181.2h1.9M182.8 181.2h2.3M444.1 181.2h7.5M102.1 186.6h1.2M106.3 186.6h2.3M217.9 186.6h3M138.3 192.1h1.5M174.4 192.1h4.3M305.1 192.1h4.7M396.7 192.1h6.5M515.3 192.1h8.9M589.8 192.1h11.3M86.3 197.5h1.2M93.7 197.5h1.2M267.6 197.5h4M324.1 197.5h5.1M372.4 197.5h6.1M403.1 197.5h6.7M458.9 197.5h7.7M498.4 197.5h8.5M515.3 197.5h8.9M108.4 203h1.2M172.4 203h2.1M223.7 203h3.1M260.1 203h3.9M390.4 203h6.4M409.6 203h6.8M506.7 203h8.7M92.6 208.4h1.2M95.8 208.4h1.2M99 208.4h1.2M105.3 208.4h1.2M122.1 208.4h1.2M172.4 208.4h4.2M201.7 208.4h2.7M226.7 208.4h3.2M89.5 213.8h1.2M111.6 213.8h1.2M152.9 213.8h1.8M267.6 213.8h4M324.1 213.8h5.1M436.9 213.8h7.3M458.9 213.8h7.7M114.8 219.3h1.2M135.7 219.3h1.4M142.4 219.3h1.6M163 219.3h2M242.6 219.3h3.5M260.1 219.3h3.9M355.3 219.3h5.7M132.1 224.7h1.4M209.5 224.7h2.9M232.9 224.7h3.3M271.4 224.7h4.1M319.2 224.7h5M390.4 224.7h6.4M409.6 224.7h6.8M551.1 224.7h9.6M84.2 230.2h1.2M87.4 230.2h1.2M106.3 230.2h1.2M108.4 230.2h1.2M134.5 230.2h1.4M151.3 230.2h1.7M163 230.2h2M178.6 230.2h2.3M215 230.2h3M229.7 230.2h3.3M296.2 230.2h4.6M355.3 230.2h5.7M189.6 235.6h2.5M384.3 235.6h6.3M108.4 241.1h1.2M115.8 241.1h1.2M142.4 241.1h1.6M154.5 241.1h1.8M267.6 241.1h4M324.1 241.1h5.1M339.2 241.1h5.4M83.2 246.5h1.2M161.2 246.5h1.9M196.7 246.5h2.6M329 246.5h5.2M349.9 246.5h5.6M403.1 246.5h6.7M560.5 246.5h9.7M93.7 252h1.2M97.9 252h1.2M111.6 252h1.2M114.8 252h1.2M117.9 252h1.2M135.7 252h1.4M159.5 252h1.9M196.7 252h2.6M324.1 252h5.1M84.2 257.4h1.2M89.5 257.4h1.2M108.4 257.4h1.2M143.8 257.4h1.6M226.7 257.4h3.2M275.4 257.4h4.2M324.1 257.4h5.1M390.4 257.4h6.4M416.2 257.4h6.9M89.5 262.9h1.2M99 262.9h1.2M115.8 262.9h1.2M117.9 262.9h1.2M164.8 262.9h2M204.2 262.9h2.8M305.1 262.9h4.7M390.4 262.9h6.4M403.1 262.9h6.7M142.4 268.3h1.6M170.5 268.3h2.1M182.8 268.3h4.6M217.9 268.3h3M416.2 268.3h6.9M570.1 268.3h9.9M103.2 273.7h1.2M105.3 273.7h1.2M114.8 273.7h1.2M134.5 273.7h1.4M151.3 273.7h1.7M157.8 273.7h1.9M163 273.7h2M239.3 273.7h3.5M287.6 273.7h4.4M314.4 273.7h4.9M344.5 273.7h5.5M403.1 273.7h6.7M498.4 273.7h8.5M87.4 279.2h1.2M99 279.2h1.2M130.9 279.2h1.3M305.1 279.2h4.7M314.4 279.2h4.9M334.1 279.2h10.6M403.1 279.2h6.7M123.2 284.6h1.2M138.3 284.6h1.5M220.7 284.6h3.1M236 284.6h3.4M334.1 284.6h10.6M403.1 284.6h6.7M498.4 284.6h8.5M515.3 284.6h8.9M589.8 284.6h11.3M82.1 290.1h1.2M137 290.1h1.5M151.3 290.1h1.7M157.8 290.1h1.9M245.9 290.1h3.6M271.4 290.1h4.1M589.8 290.1h11.3M110.5 295.5h1.2M170.5 295.5h2.1M217.9 295.5h3M296.2 295.5h4.6M319.2 295.5h5M474.2 295.5h8M498.4 295.5h8.5M541.9 295.5h9.4M87.4 301h1.2M116.9 301h1.2M122.1 301h1.2M132.1 301h1.4M139.7 301h1.5M156.1 301h1.8M166.7 301h2M201.7 301h2.7M226.7 301h3.2M384.3 301h6.3M409.6 301h6.8M111.6 306.4h1.2M116.9 306.4h1.2M168.6 306.4h2.1M191.9 306.4h2.5M199.2 306.4h2.7M217.9 306.4h3M232.9 306.4h3.3M97.9 311.9h1.2M139.7 311.9h1.5M174.4 311.9h2.2M178.6 311.9h2.3M267.6 311.9h4M349.9 311.9h5.6M366.6 311.9h5.9M409.6 311.9h6.8M541.9 311.9h9.4M96.9 317.3h1.2M146.7 317.3h1.6M451.4 317.3h7.6M86.3 322.7h2.3M92.6 322.7h1.2M95.8 322.7h1.2M112.6 322.7h1.2M154.5 322.7h1.8M314.4 322.7h4.9M403.1 322.7h6.7M466.5 322.7h7.9M482.1 322.7h8.2M506.7 322.7h8.7M97.9 328.2h1.2M129.7 328.2h1.3M159.5 328.2h1.9M232.9 328.2h3.3M283.5 328.2h4.3M324.1 328.2h5.1M482.1 328.2h8.2M94.7 333.6h2.3M121.1 333.6h1.2M145.2 333.6h1.6M189.6 333.6h2.5M355.3 333.6h5.7M458.9 333.6h7.7M532.8 333.6h9.2M86.3 339.1h1.2M91.6 339.1h1.2M110.5 339.1h1.2M163 339.1h2M185 339.1h2.4M201.7 339.1h2.7M378.3 339.1h6.2M579.9 339.1h10.1M81.1 344.5h1.2M97.9 344.5h1.2M110.5 344.5h1.2M187.3 344.5h2.4M215 344.5h3M305.1 344.5h4.7M339.2 344.5h16.2M142.4 350h1.6M151.3 350h1.7M209.5 350h5.6M236 350h3.4M263.8 350h3.9M305.1 350h4.7M366.6 350h5.9M80 355.4h1.2M128.6 355.4h1.3M145.2 355.4h1.6M212.3 355.4h2.9M217.9 355.4h3M87.4 360.9h1.2M115.8 360.9h1.2M148.2 360.9h1.7M164.8 360.9h2M329 360.9h5.2M384.3 360.9h6.3M127.5 366.3h1.3M176.5 366.3h2.2M182.8 366.3h2.3M206.9 366.3h2.8M305.1 366.3h4.7M319.2 366.3h5M339.2 366.3h5.4M355.3 366.3h5.7M87.4 371.8h1.2M104.2 371.8h1.2M132.1 371.8h1.4M156.1 371.8h1.8M168.6 371.8h2.1M458.9 371.8h7.7M498.4 371.8h8.5M122.1 377.2h1.2M145.2 377.2h1.6M149.7 377.2h1.7M204.2 377.2h2.8M226.7 377.2h3.2M324.1 377.2h5.1M589.8 377.2h11.3M88.4 382.6h1.2M95.8 382.6h1.2M111.6 382.6h1.2M126.4 382.6h1.2M161.2 382.6h1.9M271.4 382.6h4.1M349.9 382.6h5.6M524 382.6h9M579.9 382.6h10.1M95.8 388.1h1.2M106.3 388.1h1.2M137 388.1h1.5M159.5 388.1h1.9M163 388.1h2M180.7 388.1h2.3M267.6 388.1h4M474.2 388.1h8M524 388.1h9M570.1 388.1h9.9M81.1 393.5h1.2M89.5 393.5h1.2M137 393.5h1.5M141 393.5h1.5M185 393.5h2.4M212.3 393.5h5.8M589.8 393.5h11.3M84.2 399h1.2M86.3 399h1.2M116.9 399h1.2M172.4 399h2.1M329 399h5.2M81.1 404.4h1.2M133.3 404.4h1.4M245.9 404.4h3.6M319.2 404.4h5M366.6 404.4h5.9M142.4 409.9h1.6M164.8 409.9h2M187.3 409.9h2.4M360.9 409.9h11.6M384.3 409.9h6.3M409.6 409.9h6.8M429.9 409.9h7.2M451.4 409.9h7.6M541.9 409.9h9.4M570.1 409.9h9.9M589.8 409.9h11.3M111.6 415.3h1.2M117.9 415.3h1.2M139.7 415.3h1.5M324.1 415.3h5.1M366.6 415.3h5.9M423 415.3h7M444.1 415.3h7.5M482.1 415.3h8.2M532.8 415.3h9.2M81.1 420.8h1.2M87.4 420.8h1.2M111.6 420.8h1.2M137 420.8h1.5M324.1 420.8h5.1M372.4 420.8h6.1M390.4 420.8h6.4M451.4 420.8h7.6M85.3 426.2h1.2M112.6 426.2h2.3M137 426.2h2.8M152.9 426.2h1.8M223.7 426.2h3.1M319.2 426.2h5M372.4 426.2h6.1M429.9 426.2h7.2M490.2 426.2h8.4M541.9 426.2h9.4M84.2 431.6h1.2M132.1 431.6h1.4M154.5 431.6h1.8M168.6 431.6h2.1M180.7 431.6h2.3M189.6 431.6h2.5M242.6 431.6h3.5M275.4 431.6h4.2M309.7 431.6h4.8M339.2 431.6h5.4M436.9 431.6h7.3M466.5 431.6h7.9M88.4 437.1h1.2M92.6 437.1h1.2M122.1 437.1h1.2M163 437.1h2M199.2 437.1h2.7M206.9 437.1h2.8M239.3 437.1h3.5M256.4 437.1h3.8M366.6 437.1h11.9M429.9 437.1h7.2M89.5 442.5h1.2M92.6 442.5h1.2M152.9 442.5h1.8M223.7 442.5h3.1M324.1 442.5h15.3M390.4 442.5h6.4M474.2 442.5h8M89.5 448h1.2M138.3 448h1.5M151.3 448h1.7M161.2 448h1.9M166.7 448h2M172.4 448h2.1M396.7 448h6.5M541.9 448h9.4M86.3 453.4h1.2M99 453.4h1.2M110.5 453.4h1.2M125.3 453.4h1.2M139.7 453.4h1.5M174.4 453.4h2.2M194.3 453.4h2.6M204.2 453.4h2.8M451.4 453.4h7.6M560.5 453.4h9.7M86.3 458.9h1.2M93.7 458.9h1.2M132.1 458.9h1.4M170.5 458.9h2.1M199.2 458.9h2.7M344.5 458.9h5.5M384.3 458.9h6.3M416.2 458.9h6.9M138.3 464.3h1.5M152.9 464.3h1.8M217.9 464.3h3M403.1 464.3h6.7M429.9 464.3h7.2M444.1 464.3h14.9M490.2 464.3h8.4M506.7 464.3h8.7M108.4 469.8h1.2M116.9 469.8h1.2M120 469.8h1.2M159.5 469.8h3.7M204.2 469.8h2.8M396.7 469.8h6.5M458.9 469.8h15.5M490.2 469.8h8.4M92.6 475.2h1.2M206.9 475.2h2.8M271.4 475.2h4.1M390.4 475.2h6.4M429.9 475.2h7.2M589.8 475.2h11.3M86.3 480.7h1.2M142.4 480.7h1.6M212.3 480.7h2.9M260.1 480.7h3.9M324.1 480.7h5.1M416.2 480.7h6.9M474.2 480.7h8M84.2 486.1h1.2M115.8 486.1h1.2M127.5 486.1h1.3M334.1 486.1h5.3M466.5 486.1h7.9M117.9 491.5h1.2M135.7 491.5h1.4M172.4 491.5h2.1M180.7 491.5h2.3M296.2 491.5h4.6M366.6 491.5h5.9M384.3 491.5h6.3M416.2 491.5h6.9M474.2 491.5h16.1M117.9 497h1.2M232.9 497h3.3M409.6 497h6.8M444.1 497h7.5M474.2 497h8M532.8 497h9.2M579.9 497h10.1M94.7 502.4h1.2M126.4 502.4h1.2M178.6 502.4h2.3M187.3 502.4h2.4M209.5 502.4h2.9M466.5 502.4h7.9M515.3 502.4h8.9M121.1 507.9h1.2M220.7 507.9h3.1M423 507.9h7M458.9 507.9h7.7M490.2 507.9h8.4"/><path stroke="rgb(104,104,104)" d="M99 77.7h1.2M127.5 77.7h1.3M172.4 77.7h2.1M180.7 77.7h2.3M279.4 77.7h4.2M296.2 77.7h4.6M349.9 77.7h11.2M90.5 83.2h1.2M92.6 83.2h1.2M115.8 83.2h2.3M152.9 83.2h1.8M215 83.2h3M242.6 83.2h3.5M271.4 83.2h4.1M305.1 83.2h4.7M444.1 83.2h7.5M466.5 83.2h7.9M560.5 83.2h9.7M85.3 88.6h1.2M95.8 88.6h1.2M112.6 88.6h1.2M119 88.6h1.2M204.2 88.6h2.8M232.9 88.6h3.3M84.2 94.1h2.3M92.6 94.1h1.2M112.6 94.1h1.2M127.5 94.1h1.3M148.2 94.1h1.7M260.1 94.1h3.9M482.1 94.1h8.2M532.8 94.1h9.2M89.5 99.5h1.2M91.6 99.5h1.2M107.4 99.5h1.2M120 99.5h1.2M161.2 99.5h1.9M366.6 99.5h5.9M121.1 104.9h1.2M176.5 104.9h2.2M187.3 104.9h2.4M319.2 104.9h5M334.1 104.9h5.3M355.3 104.9h5.7M409.6 104.9h6.8M458.9 104.9h7.7M541.9 104.9h9.4M108.4 110.4h1.2M141 110.4h1.5M329 110.4h5.2M372.4 110.4h6.1M390.4 110.4h6.4M458.9 110.4h7.7M560.5 110.4h9.7M83.2 115.8h1.2M93.7 115.8h1.2M355.3 115.8h5.7M403.1 115.8h13.3M84.2 121.3h1.2M95.8 121.3h1.2M109.5 121.3h1.2M137 121.3h1.5M159.5 121.3h1.9M191.9 121.3h2.5M209.5 121.3h2.9M220.7 121.3h3.1M287.6 121.3h4.4M314.4 121.3h4.9M339.2 121.3h5.4M378.3 121.3h6.2M409.6 121.3h6.8M423 121.3h7M570.1 121.3h19.9M90.5 126.7h1.2M117.9 126.7h1.2M141 126.7h1.5M148.2 126.7h1.7M220.7 126.7h3.1M287.6 126.7h4.4M429.9 126.7h7.2M444.1 126.7h7.5M466.5 126.7h7.9M532.8 126.7h9.2M88.4 132.2h1.2M91.6 132.2h1.2M128.6 132.2h1.3M134.5 132.2h1.4M226.7 132.2h3.2M334.1 132.2h5.3M416.2 132.2h6.9M515.3 132.2h8.9M115.8 137.6h1.2M122.1 137.6h1.2M127.5 137.6h1.3M149.7 137.6h1.7M176.5 137.6h2.2M185 137.6h2.4M349.9 137.6h5.6M396.7 137.6h6.5M128.6 143.1h1.3M142.4 143.1h1.6M223.7 143.1h3.1M309.7 143.1h4.8M490.2 143.1h8.4M506.7 143.1h17.4M541.9 143.1h18.8M589.8 143.1h11.3M80 148.5h1.2M94.7 148.5h1.2M132.1 148.5h1.4M201.7 148.5h2.7M319.2 148.5h5M334.1 148.5h5.3M390.4 148.5h6.4M403.1 148.5h6.7M466.5 148.5h7.9M482.1 148.5h8.2M85.3 154h1.2M88.4 154h1.2M96.9 154h1.2M115.8 154h1.2M123.2 154h1.2M134.5 154h1.4M156.1 154h1.8M451.4 154h22.9M91.6 159.4h1.2M128.6 159.4h1.3M133.3 159.4h2.6M180.7 159.4h2.3M217.9 159.4h3M366.6 159.4h11.9M396.7 159.4h6.5M482.1 159.4h8.2M506.7 159.4h8.7M127.5 164.8h1.3M191.9 164.8h2.5M199.2 164.8h2.7M217.9 164.8h3M329 164.8h5.2M339.2 164.8h5.4M589.8 164.8h11.3M86.3 170.3h1.2M108.4 170.3h1.2M117.9 170.3h1.2M196.7 170.3h2.6M296.2 170.3h4.6M355.3 170.3h11.4M378.3 170.3h6.2M423 170.3h7M117.9 175.7h1.2M129.7 175.7h1.3M142.4 175.7h1.6M148.2 175.7h1.7M199.2 175.7h2.7M245.9 175.7h3.6M466.5 175.7h7.9M515.3 175.7h8.9M82.1 181.2h1.2M88.4 181.2h1.2M91.6 181.2h1.2M119 181.2h1.2M127.5 181.2h1.3M130.9 181.2h1.3M134.5 181.2h1.4M149.7 181.2h1.7M189.6 181.2h2.5M220.7 181.2h3.1M296.2 181.2h9.1M314.4 181.2h4.9M339.2 181.2h5.4M142.4 186.6h1.6M189.6 186.6h2.5M334.1 186.6h5.3M360.9 186.6h5.8M137 192.1h1.5M148.2 192.1h1.7M170.5 192.1h2.1M366.6 192.1h5.9M89.5 197.5h1.2M138.3 197.5h1.5M187.3 197.5h2.4M191.9 197.5h2.5M256.4 197.5h3.8M271.4 197.5h4.1M283.5 197.5h4.3M296.2 197.5h4.6M87.4 203h1.2M93.7 203h1.2M125.3 203h1.2M141 203h1.5M215 203h3M329 203h5.2M378.3 203h6.2M482.1 203h16.4M87.4 208.4h1.2M123.2 208.4h1.2M170.5 208.4h2.1M83.2 213.8h1.2M114.8 213.8h1.2M122.1 213.8h1.2M194.3 213.8h2.6M226.7 213.8h3.2M245.9 213.8h3.6M403.1 213.8h6.7M524 213.8h9M141 219.3h1.5M157.8 219.3h1.9M182.8 219.3h2.3M409.6 219.3h6.8M429.9 219.3h7.2M444.1 219.3h7.5M579.9 219.3h10.1M123.2 224.7h1.2M339.2 224.7h5.4M436.9 224.7h7.3M451.4 224.7h7.6M532.8 224.7h9.2M89.5 230.2h1.2M100 230.2h1.2M142.4 230.2h1.6M156.1 230.2h1.8M170.5 230.2h2.1M199.2 230.2h2.7M252.9 230.2h3.7M334.1 230.2h5.3M384.3 230.2h6.3M409.6 230.2h6.8M423 230.2h7M506.7 230.2h8.7M88.4 235.6h1.2M114.8 235.6h1.2M127.5 235.6h1.3M129.7 235.6h1.3M134.5 235.6h1.4M267.6 235.6h4M339.2 235.6h10.8M444.1 235.6h7.5M551.1 235.6h9.6M589.8 235.6h11.3M88.4 241.1h1.2M156.1 241.1h1.8M201.7 241.1h2.7M212.3 241.1h2.9M232.9 241.1h3.3M260.1 241.1h3.9M271.4 241.1h4.1M305.1 241.1h4.7M334.1 241.1h5.3M85.3 246.5h1.2M91.6 246.5h1.2M122.1 246.5h1.2M130.9 246.5h1.3M139.7 246.5h1.5M146.7 246.5h1.6M156.1 246.5h1.8M229.7 246.5h3.3M498.4 246.5h8.5M123.2 252h1.2M145.2 252h1.6M149.7 252h3.3M166.7 252h2M174.4 252h2.2M182.8 252h2.3M541.9 252h9.4M99 257.4h1.2M110.5 257.4h1.2M164.8 257.4h2M260.1 257.4h3.9M309.7 257.4h4.8M319.2 257.4h5M366.6 257.4h5.9M423 257.4h7M113.7 262.9h1.2M123.2 262.9h2.3M151.3 262.9h1.7M163 262.9h2M249.4 262.9h3.7M324.1 262.9h10.2M466.5 262.9h7.9M498.4 262.9h8.5M127.5 268.3h1.3M151.3 268.3h1.7M178.6 268.3h2.3M226.7 268.3h3.2M436.9 268.3h7.3M474.2 268.3h8M92.6 273.7h1.2M108.4 273.7h1.2M129.7 273.7h1.3M139.7 273.7h1.5M360.9 273.7h5.8M436.9 273.7h7.3M570.1 273.7h9.9M90.5 279.2h1.2M97.9 279.2h1.2M152.9 279.2h1.8M157.8 279.2h1.9M187.3 279.2h2.4M226.7 279.2h3.2M329 279.2h5.2M466.5 279.2h7.9M482.1 279.2h24.8M87.4 284.6h1.2M121.1 284.6h1.2M161.2 284.6h1.9M185 284.6h2.4M226.7 284.6h3.2M560.5 284.6h9.7M85.3 290.1h1.2M110.5 290.1h1.2M123.2 290.1h1.2M139.7 290.1h1.5M180.7 290.1h2.3M199.2 290.1h2.7M212.3 290.1h2.9M242.6 290.1h3.5M275.4 290.1h4.2M334.1 290.1h5.3M384.3 290.1h6.3M85.3 295.5h1.2M108.4 295.5h1.2M111.6 295.5h1.2M163 295.5h2M191.9 295.5h2.5M209.5 295.5h2.9M403.1 295.5h6.7M506.7 295.5h8.7M84.2 301h2.3M93.7 301h1.2M95.8 301h1.2M112.6 301h1.2M154.5 301h1.8M206.9 301h2.8M271.4 301h4.1M334.1 301h5.3M344.5 301h5.5M589.8 301h11.3M86.3 306.4h1.2M97.9 306.4h1.2M129.7 306.4h1.3M132.1 306.4h1.4M172.4 306.4h2.1M176.5 306.4h2.2M209.5 306.4h2.9M236 306.4h3.4M329 306.4h5.2M360.9 306.4h5.8M451.4 306.4h15.2M490.2 306.4h8.4M560.5 306.4h9.7M81.1 311.9h1.2M86.3 311.9h2.3M129.7 311.9h1.3M143.8 311.9h1.6M360.9 311.9h5.8M458.9 311.9h7.7M498.4 311.9h8.5M560.5 311.9h9.7M95.8 317.3h1.2M122.1 317.3h1.2M135.7 317.3h2.7M141 317.3h1.5M206.9 317.3h2.8M236 317.3h3.4M339.2 317.3h5.4M396.7 317.3h6.5M423 317.3h7M490.2 317.3h8.4M83.2 322.7h1.2M88.4 322.7h1.2M115.8 322.7h1.2M142.4 322.7h1.6M215 322.7h3M339.2 322.7h5.4M355.3 322.7h5.7M541.9 322.7h9.4M89.5 328.2h1.2M104.2 328.2h1.2M110.5 328.2h1.2M152.9 328.2h1.8M242.6 328.2h3.5M384.3 328.2h6.3M524 328.2h9M589.8 328.2h11.3M80 333.6h1.2M134.5 333.6h1.4M143.8 333.6h1.6M146.7 333.6h1.6M176.5 333.6h2.2M271.4 333.6h4.1M378.3 333.6h6.2M96.9 339.1h2.3M396.7 339.1h13M423 339.1h7M436.9 339.1h7.3M551.1 339.1h9.6M589.8 339.1h11.3M99 344.5h1.2M108.4 344.5h1.2M113.7 344.5h1.2M194.3 344.5h5M209.5 344.5h2.9M217.9 344.5h6M260.1 344.5h3.9M296.2 344.5h4.6M314.4 344.5h4.9M451.4 344.5h7.6M524 344.5h9M84.2 350h2.3M127.5 350h1.3M129.7 350h1.3M170.5 350h2.1M194.3 350h2.6M220.7 350h3.1M249.4 350h3.7M360.9 350h5.8M515.3 350h8.9M589.8 350h11.3M196.7 355.4h2.6M229.7 355.4h3.3M305.1 355.4h4.7M344.5 355.4h5.5M490.2 355.4h8.4M84.2 360.9h1.2M86.3 360.9h1.2M92.6 360.9h1.2M111.6 360.9h1.2M154.5 360.9h1.8M161.2 360.9h1.9M166.7 360.9h2M194.3 360.9h2.6M220.7 360.9h3.1M271.4 360.9h4.1M524 360.9h18.1M560.5 360.9h9.7M87.4 366.3h1.2M112.6 366.3h1.2M114.8 366.3h2.3M132.1 366.3h1.4M149.7 366.3h1.7M178.6 366.3h2.3M187.3 366.3h2.4M309.7 366.3h4.8M409.6 366.3h6.8M423 366.3h7M444.1 366.3h7.5M524 366.3h18.1M97.9 371.8h1.2M108.4 371.8h1.2M133.3 371.8h1.4M164.8 371.8h2M267.6 371.8h4M329 371.8h5.2M344.5 371.8h11M396.7 371.8h13M451.4 371.8h7.6M541.9 371.8h9.4M92.6 377.2h1.2M96.9 377.2h1.2M107.4 377.2h2.3M134.5 377.2h1.4M209.5 377.2h2.9M296.2 377.2h4.6M403.1 377.2h6.7M429.9 377.2h7.2M92.6 382.6h1.2M123.2 382.6h1.2M194.3 382.6h2.6M444.1 382.6h7.5M92.6 388.1h1.2M111.6 388.1h1.2M168.6 388.1h2.1M220.7 388.1h3.1M249.4 388.1h3.7M279.4 388.1h4.2M305.1 388.1h4.7M372.4 388.1h6.1M429.9 388.1h7.2M490.2 388.1h8.4M91.6 393.5h1.2M97.9 393.5h1.2M106.3 393.5h1.2M113.7 393.5h1.2M129.7 393.5h1.3M156.1 393.5h1.8M182.8 393.5h2.3M196.7 393.5h2.6M220.7 393.5h3.1M339.2 393.5h21.8M423 393.5h7M444.1 393.5h14.9M560.5 393.5h9.7M93.7 399h1.2M95.8 399h2.3M123.2 399h1.2M194.3 399h2.6M220.7 399h3.1M409.6 399h6.8M458.9 399h7.7M570.1 399h9.9M82.1 404.4h1.2M84.2 404.4h1.2M122.1 404.4h1.2M458.9 404.4h7.7M532.8 404.4h9.2M134.5 409.9h1.4M156.1 409.9h3.5M220.7 409.9h6.1M236 409.9h3.4M334.1 409.9h5.3M344.5 409.9h5.5M378.3 409.9h6.2M560.5 409.9h9.7M103.2 415.3h1.2M115.8 415.3h1.2M236 415.3h3.4M300.6 415.3h4.7M334.1 415.3h5.3M506.7 415.3h8.7M96.9 420.8h1.2M159.5 420.8h1.9M201.7 420.8h2.7M287.6 420.8h4.4M334.1 420.8h5.3M515.3 420.8h17.7M92.6 426.2h1.2M172.4 426.2h4.2M220.7 426.2h3.1M229.7 426.2h3.3M314.4 426.2h4.9M80 431.6h1.2M87.4 431.6h1.2M123.2 431.6h1.2M134.5 431.6h1.4M196.7 431.6h2.6M249.4 431.6h3.7M378.3 431.6h6.2M423 431.6h7M490.2 431.6h8.4M89.5 437.1h1.2M116.9 437.1h1.2M139.7 437.1h1.5M152.9 437.1h1.8M170.5 437.1h2.1M223.7 437.1h3.1M319.2 437.1h5M329 437.1h5.2M390.4 437.1h6.4M423 437.1h7M466.5 437.1h7.9M498.4 437.1h8.5M87.4 442.5h1.2M93.7 442.5h1.2M95.8 442.5h1.2M122.1 442.5h1.2M127.5 442.5h1.3M143.8 442.5h1.6M191.9 442.5h2.5M201.7 442.5h2.7M220.7 442.5h3.1M260.1 442.5h3.9M271.4 442.5h4.1M287.6 442.5h4.4M541.9 442.5h9.4M87.4 448h2.3M149.7 448h1.7M206.9 448h2.8M242.6 448h3.5M390.4 448h6.4M444.1 448h7.5M84.2 453.4h1.2M115.8 453.4h1.2M141 453.4h1.5M191.9 453.4h2.5M196.7 453.4h2.6M283.5 453.4h4.3M329 453.4h5.2M339.2 453.4h10.8M524 453.4h9M81.1 458.9h1.2M87.4 458.9h1.2M121.1 458.9h1.2M124.2 458.9h1.2M134.5 458.9h1.4M138.3 458.9h1.5M229.7 458.9h3.3M324.1 458.9h5.1M409.6 458.9h6.8M423 458.9h7M490.2 458.9h8.4M88.4 464.3h1.2M94.7 464.3h1.2M115.8 464.3h1.2M129.7 464.3h1.3M142.4 464.3h1.6M189.6 464.3h2.5M206.9 464.3h2.8M212.3 464.3h2.9M223.7 464.3h3.1M474.2 464.3h8M589.8 464.3h11.3M97.9 469.8h1.2M133.3 469.8h1.4M152.9 469.8h1.8M168.6 469.8h2.1M199.2 469.8h2.7M215 469.8h3M232.9 469.8h3.3M85.3 475.2h1.2M108.4 475.2h1.2M121.1 475.2h1.2M134.5 475.2h1.4M152.9 475.2h1.8M180.7 475.2h2.3M185 475.2h2.4M215 475.2h3M287.6 475.2h4.4M300.6 475.2h4.7M436.9 475.2h7.3M466.5 475.2h15.8M490.2 475.2h8.4M108.4 480.7h1.2M114.8 480.7h1.2M154.5 480.7h1.8M329 480.7h5.2M396.7 480.7h6.5M541.9 480.7h9.4M91.6 486.1h1.2M96.9 486.1h1.2M191.9 486.1h2.5M220.7 486.1h6.1M319.2 486.1h5M355.3 486.1h5.7M390.4 486.1h6.4M403.1 486.1h6.7M423 486.1h7M551.1 486.1h9.6M84.2 491.5h1.2M88.4 491.5h1.2M96.9 491.5h1.2M163 491.5h2M191.9 491.5h2.5M256.4 491.5h3.8M314.4 491.5h4.9M403.1 491.5h6.7M423 491.5h7M96.9 497h1.2M111.6 497h1.2M121.1 497h1.2M132.1 497h1.4M142.4 497h1.6M204.2 497h2.8M209.5 497h2.9M242.6 497h3.5M355.3 497h5.7M429.9 497h7.2M451.4 497h7.6M466.5 497h7.9M482.1 497h8.2M91.6 502.4h1.2M137 502.4h1.5M396.7 502.4h6.5M429.9 502.4h7.2M106.3 507.9h1.2M108.4 507.9h1.2M163 507.9h2M178.6 507.9h2.3M314.4 507.9h4.9M444.1 507.9h7.5M589.8 507.9h11.3"/><path stroke="rgb(111,111,111)" d="M93.7 77.7h1.2M122.1 77.7h1.2M215 77.7h5.9M260.1 77.7h3.9M305.1 77.7h9.4M334.1 77.7h5.3M444.1 77.7h7.5M482.1 77.7h8.2M86.3 83.2h1.2M88.4 83.2h1.2M99 83.2h1.2M112.6 83.2h1.2M142.4 83.2h1.6M149.7 83.2h1.7M154.5 83.2h1.8M185 83.2h2.4M217.9 83.2h3M396.7 83.2h6.5M154.5 88.6h1.8M178.6 88.6h2.3M271.4 88.6h4.1M309.7 88.6h4.8M506.7 88.6h8.7M123.2 94.1h1.2M223.7 94.1h3.1M271.4 94.1h4.1M300.6 94.1h4.7M339.2 94.1h5.4M474.2 94.1h8M551.1 94.1h9.6M85.3 99.5h1.2M112.6 99.5h1.2M139.7 99.5h1.5M172.4 99.5h2.1M176.5 99.5h2.2M180.7 99.5h2.3M223.7 99.5h3.1M232.9 99.5h3.3M296.2 99.5h4.6M360.9 99.5h5.8M390.4 99.5h6.4M524 99.5h18.1M91.6 104.9h1.2M194.3 104.9h2.6M220.7 104.9h3.1M296.2 104.9h4.6M324.1 104.9h5.1M498.4 104.9h8.5M532.8 104.9h9.2M551.1 104.9h19.1M88.4 110.4h1.2M91.6 110.4h1.2M112.6 110.4h1.2M122.1 110.4h1.2M142.4 110.4h1.6M149.7 110.4h1.7M157.8 110.4h1.9M252.9 110.4h3.7M344.5 110.4h5.5M451.4 110.4h7.6M541.9 110.4h9.4M86.3 115.8h2.3M91.6 115.8h1.2M110.5 115.8h2.3M119 115.8h1.2M154.5 115.8h1.8M176.5 115.8h2.2M204.2 115.8h2.8M220.7 115.8h3.1M474.2 115.8h8M532.8 115.8h9.2M88.4 121.3h1.2M91.6 121.3h1.2M111.6 121.3h1.2M121.1 121.3h1.2M133.3 121.3h1.4M142.4 121.3h1.6M217.9 121.3h3M242.6 121.3h3.5M296.2 121.3h4.6M329 121.3h5.2M355.3 121.3h5.7M372.4 121.3h6.1M403.1 121.3h6.7M111.6 126.7h1.2M122.1 126.7h1.2M182.8 126.7h2.3M236 126.7h3.4M314.4 126.7h4.9M474.2 126.7h16.1M84.2 132.2h1.2M106.3 132.2h1.2M108.4 132.2h1.2M124.2 132.2h1.2M187.3 132.2h2.4M329 132.2h5.2M355.3 132.2h5.7M378.3 132.2h6.2M466.5 132.2h7.9M482.1 132.2h8.2M541.9 132.2h18.8M168.6 137.6h2.1M212.3 137.6h2.9M279.4 137.6h4.2M319.2 137.6h5M334.1 137.6h5.3M378.3 137.6h6.2M515.3 137.6h8.9M532.8 137.6h9.2M579.9 137.6h10.1M82.1 143.1h1.2M112.6 143.1h1.2M185 143.1h2.4M319.2 143.1h5M329 143.1h5.2M339.2 143.1h5.4M436.9 143.1h7.3M83.2 148.5h1.2M157.8 148.5h1.9M232.9 148.5h3.3M451.4 148.5h15.2M129.7 154h1.3M168.6 154h2.1M180.7 154h2.3M81.1 159.4h1.2M83.2 159.4h1.2M94.7 159.4h1.2M108.4 159.4h1.2M122.1 159.4h1.2M125.3 159.4h1.2M174.4 159.4h2.2M194.3 159.4h2.6M390.4 159.4h6.4M423 159.4h7M444.1 159.4h7.5M490.2 159.4h8.4M91.6 164.8h1.2M95.8 164.8h1.2M109.5 164.8h1.2M138.3 164.8h1.5M152.9 164.8h1.8M166.7 164.8h4M416.2 164.8h6.9M579.9 164.8h10.1M123.2 170.3h1.2M125.3 170.3h1.2M141 170.3h1.5M154.5 170.3h1.8M220.7 170.3h3.1M300.6 170.3h4.7M515.3 170.3h8.9M92.6 175.7h1.2M95.8 175.7h1.2M128.6 175.7h1.3M146.7 175.7h1.6M149.7 175.7h1.7M174.4 175.7h2.2M182.8 175.7h2.3M252.9 175.7h3.7M444.1 175.7h7.5M506.7 175.7h8.7M86.3 181.2h1.2M94.7 181.2h1.2M126.4 181.2h1.2M142.4 181.2h3M172.4 181.2h2.1M199.2 181.2h2.7M209.5 181.2h2.9M86.3 186.6h1.2M121.1 186.6h1.2M134.5 186.6h1.4M151.3 186.6h1.7M154.5 186.6h1.8M260.1 186.6h3.9M267.6 186.6h4M329 186.6h5.2M378.3 186.6h6.2M423 186.6h7M111.6 192.1h1.2M113.7 192.1h1.2M134.5 192.1h1.4M151.3 192.1h1.7M187.3 192.1h2.4M212.3 192.1h2.9M229.7 192.1h3.3M260.1 192.1h3.9M279.4 192.1h4.2M329 192.1h5.2M490.2 192.1h8.4M532.8 192.1h18.4M124.2 197.5h1.2M130.9 197.5h2.5M137 197.5h1.5M156.1 197.5h1.8M189.6 197.5h2.5M217.9 197.5h3M305.1 197.5h4.7M355.3 197.5h11.4M423 197.5h7M451.4 197.5h7.6M482.1 197.5h8.2M80 203h1.2M84.2 203h1.2M138.3 203h1.5M174.4 203h2.2M93.7 208.4h1.2M138.3 208.4h1.5M199.2 208.4h2.7M279.4 208.4h4.2M344.5 208.4h5.5M429.9 208.4h7.2M532.8 208.4h9.2M570.1 208.4h9.9M91.6 213.8h1.2M95.8 213.8h1.2M112.6 213.8h1.2M129.7 213.8h1.3M390.4 213.8h6.4M451.4 213.8h7.6M541.9 213.8h9.4M88.4 219.3h2.3M126.4 219.3h1.2M172.4 219.3h2.1M220.7 219.3h3.1M226.7 219.3h3.2M267.6 219.3h4M329 219.3h10.4M378.3 219.3h6.2M390.4 219.3h6.4M490.2 219.3h8.4M541.9 219.3h9.4M560.5 219.3h9.7M86.3 224.7h2.3M105.3 224.7h1.2M166.7 224.7h2M170.5 224.7h2.1M242.6 224.7h3.5M334.1 224.7h5.3M458.9 224.7h7.7M524 224.7h9M92.6 230.2h1.2M94.7 230.2h1.2M114.8 230.2h1.2M117.9 230.2h1.2M143.8 230.2h1.6M154.5 230.2h1.8M161.2 230.2h1.9M172.4 230.2h2.1M256.4 230.2h3.8M378.3 230.2h6.2M81.1 235.6h1.2M84.2 235.6h1.2M90.5 235.6h1.2M116.9 235.6h1.2M154.5 235.6h1.8M180.7 235.6h2.3M185 235.6h2.4M296.2 235.6h4.6M355.3 235.6h5.7M372.4 235.6h6.1M466.5 235.6h7.9M506.7 235.6h8.7M127.5 241.1h1.3M129.7 241.1h2.5M134.5 241.1h1.4M152.9 241.1h1.8M157.8 241.1h1.9M170.5 241.1h2.1M189.6 241.1h2.5M319.2 241.1h5M409.6 241.1h6.8M490.2 241.1h8.4M86.3 246.5h1.2M129.7 246.5h1.3M145.2 246.5h1.6M166.7 246.5h2M187.3 246.5h2.4M245.9 246.5h3.6M458.9 246.5h7.7M113.7 252h1.2M133.3 252h1.4M139.7 252h1.5M156.1 252h1.8M242.6 252h3.5M256.4 252h3.8M305.1 252h4.7M314.4 252h4.9M372.4 252h6.1M384.3 252h6.3M490.2 252h8.4M82.1 257.4h2.3M97.9 257.4h1.2M115.8 257.4h1.2M137 257.4h1.5M151.3 257.4h1.7M156.1 257.4h1.8M201.7 257.4h2.7M206.9 257.4h2.8M223.7 257.4h3.1M263.8 257.4h3.9M349.9 257.4h5.6M436.9 257.4h7.3M451.4 257.4h7.6M482.1 257.4h8.2M524 257.4h9M84.2 262.9h1.2M133.3 262.9h1.4M137 262.9h1.5M139.7 262.9h1.5M157.8 262.9h1.9M267.6 262.9h7.9M105.3 268.3h1.2M112.6 268.3h1.2M117.9 268.3h1.2M128.6 268.3h1.3M141 268.3h1.5M156.1 268.3h1.8M201.7 268.3h2.7M249.4 268.3h3.7M300.6 268.3h4.7M309.7 268.3h4.8M349.9 268.3h5.6M390.4 268.3h6.4M429.9 268.3h7.2M490.2 268.3h8.4M99 273.7h1.2M123.2 273.7h1.2M135.7 273.7h1.4M149.7 273.7h1.7M152.9 273.7h1.8M174.4 273.7h2.2M180.7 273.7h2.3M232.9 273.7h3.3M444.1 273.7h7.5M515.3 273.7h8.9M125.3 279.2h1.2M132.1 279.2h1.4M151.3 279.2h1.7M170.5 279.2h2.1M174.4 279.2h2.2M189.6 279.2h7.3M220.7 279.2h3.1M589.8 279.2h11.3M86.3 284.6h1.2M96.9 284.6h1.2M107.4 284.6h1.2M112.6 284.6h1.2M133.3 284.6h1.4M159.5 284.6h1.9M187.3 284.6h4.8M451.4 284.6h15.2M506.7 284.6h8.7M87.4 290.1h1.2M125.3 290.1h1.2M161.2 290.1h1.9M201.7 290.1h2.7M223.7 290.1h3.1M232.9 290.1h3.3M279.4 290.1h4.2M451.4 290.1h15.2M490.2 290.1h8.4M122.1 295.5h1.2M152.9 295.5h1.8M236 295.5h3.4M271.4 295.5h4.1M466.5 295.5h7.9M86.3 301h1.2M88.4 301h1.2M129.7 301h1.3M157.8 301h1.9M482.1 301h8.2M80 306.4h1.2M85.3 306.4h1.2M87.4 306.4h1.2M91.6 306.4h1.2M115.8 306.4h1.2M139.7 306.4h1.5M515.3 306.4h8.9M589.8 306.4h11.3M110.5 311.9h1.2M122.1 311.9h1.2M128.6 311.9h1.3M132.1 311.9h1.4M138.3 311.9h1.5M149.7 311.9h1.7M170.5 311.9h2.1M185 311.9h2.4M199.2 311.9h2.7M209.5 311.9h2.9M232.9 311.9h3.3M263.8 311.9h3.9M279.4 311.9h4.2M296.2 311.9h4.6M344.5 311.9h5.5M579.9 311.9h21.2M220.7 317.3h3.1M271.4 317.3h4.1M334.1 317.3h5.3M524 317.3h9M159.5 322.7h1.9M174.4 322.7h2.2M194.3 322.7h2.6M199.2 322.7h2.7M372.4 322.7h6.1M451.4 322.7h7.6M87.4 328.2h1.2M121.1 328.2h1.2M126.4 328.2h1.2M143.8 328.2h1.6M157.8 328.2h1.9M164.8 328.2h2M199.2 328.2h2.7M396.7 328.2h6.5M429.9 328.2h7.2M83.2 333.6h1.2M92.6 333.6h1.2M122.1 333.6h1.2M129.7 333.6h2.5M199.2 333.6h2.7M209.5 333.6h2.9M223.7 333.6h3.1M232.9 333.6h3.3M324.1 333.6h5.1M436.9 333.6h7.3M482.1 333.6h8.2M82.1 339.1h1.2M111.6 339.1h1.2M139.7 339.1h1.5M149.7 339.1h1.7M390.4 339.1h6.4M506.7 339.1h8.7M89.5 344.5h1.2M106.3 344.5h2.3M138.3 344.5h1.5M156.1 344.5h1.8M182.8 344.5h2.3M206.9 344.5h2.8M212.3 344.5h2.9M309.7 344.5h4.8M334.1 344.5h5.3M378.3 344.5h6.2M390.4 344.5h6.4M403.1 344.5h6.7M416.2 344.5h6.9M490.2 344.5h8.4M589.8 344.5h11.3M110.5 350h1.2M112.6 350h1.2M126.4 350h1.2M156.1 350h1.8M185 350h4.7M226.7 350h3.2M245.9 350h3.6M87.4 355.4h1.2M89.5 355.4h1.2M109.5 355.4h1.2M111.6 355.4h1.2M122.1 355.4h1.2M137 355.4h1.5M161.2 355.4h1.9M189.6 355.4h2.5M319.2 355.4h5M360.9 355.4h5.8M372.4 355.4h6.1M390.4 355.4h6.4M444.1 355.4h7.5M570.1 355.4h9.9M143.8 360.9h1.6M199.2 360.9h2.7M223.7 360.9h6.2M355.3 360.9h5.7M378.3 360.9h6.2M403.1 360.9h6.7M92.6 366.3h1.2M134.5 366.3h1.4M141 366.3h1.5M174.4 366.3h2.2M242.6 366.3h3.5M296.2 366.3h4.6M482.1 366.3h8.2M570.1 366.3h9.9M95.8 371.8h1.2M113.7 371.8h1.2M143.8 371.8h3.1M172.4 371.8h2.1M191.9 371.8h2.5M271.4 371.8h4.1M296.2 371.8h4.6M314.4 371.8h4.9M334.1 371.8h5.3M90.5 377.2h1.2M99 377.2h1.2M148.2 377.2h1.7M166.7 377.2h2M172.4 377.2h2.1M178.6 377.2h4.4M283.5 377.2h4.3M339.2 377.2h5.4M355.3 377.2h5.7M490.2 377.2h8.4M541.9 377.2h9.4M89.5 382.6h1.2M108.4 382.6h1.2M129.7 382.6h1.3M149.7 382.6h1.7M166.7 382.6h2M174.4 382.6h2.2M329 382.6h10.4M366.6 382.6h5.9M403.1 382.6h6.7M429.9 382.6h7.2M474.2 382.6h8M498.4 382.6h8.5M541.9 382.6h9.4M94.7 388.1h1.2M105.3 388.1h1.2M112.6 388.1h1.2M115.8 388.1h1.2M126.4 388.1h2.4M130.9 388.1h1.3M134.5 388.1h1.4M141 388.1h1.5M166.7 388.1h2M172.4 388.1h2.1M396.7 388.1h6.5M532.8 388.1h9.2M109.5 393.5h1.2M111.6 393.5h1.2M82.1 399h1.2M124.2 399h1.2M126.4 399h1.2M143.8 399h1.6M151.3 399h1.7M157.8 399h1.9M166.7 399h2M178.6 399h2.3M209.5 399h2.9M232.9 399h3.3M444.1 399h7.5M89.5 404.4h1.2M123.2 404.4h1.2M138.3 404.4h1.5M271.4 404.4h4.1M396.7 404.4h6.5M436.9 404.4h7.3M498.4 404.4h8.5M524 404.4h9M90.5 409.9h1.2M95.8 409.9h2.3M111.6 409.9h1.2M199.2 409.9h2.7M314.4 409.9h4.9M324.1 409.9h5.1M80 415.3h1.2M164.8 415.3h2M182.8 415.3h2.3M204.2 415.3h2.8M217.9 415.3h3M267.6 415.3h4M287.6 415.3h4.4M360.9 415.3h5.8M409.6 415.3h13.5M498.4 415.3h8.5M91.6 420.8h1.2M119 420.8h1.2M129.7 420.8h1.3M163 420.8h2M182.8 420.8h2.3M189.6 420.8h2.5M339.2 420.8h5.4M95.8 426.2h1.2M102.1 426.2h1.2M134.5 426.2h1.4M324.1 426.2h5.1M403.1 426.2h6.7M532.8 426.2h9.2M570.1 426.2h9.9M111.6 431.6h1.2M135.7 431.6h2.7M178.6 431.6h2.3M182.8 431.6h2.3M324.1 431.6h5.1M409.6 431.6h6.8M482.1 431.6h8.2M91.6 437.1h1.2M129.7 437.1h1.3M137 437.1h1.5M161.2 437.1h1.9M209.5 437.1h2.9M215 437.1h3M287.6 437.1h4.4M334.1 437.1h5.3M458.9 437.1h7.7M82.1 442.5h1.2M94.7 442.5h1.2M109.5 442.5h1.2M116.9 442.5h1.2M128.6 442.5h1.3M139.7 442.5h1.5M142.4 442.5h1.6M229.7 442.5h3.3M378.3 442.5h6.2M436.9 442.5h14.6M458.9 442.5h15.5M579.9 442.5h10.1M85.3 448h1.2M156.1 448h1.8M163 448h2M191.9 448h2.5M199.2 448h2.7M314.4 448h9.8M334.1 448h5.3M344.5 448h5.5M378.3 448h6.2M423 448h7M482.1 448h8.2M88.4 453.4h1.2M97.9 453.4h1.2M130.9 453.4h1.3M133.3 453.4h1.4M182.8 453.4h2.3M260.1 453.4h3.9M355.3 453.4h11.4M84.2 458.9h1.2M90.5 458.9h1.2M95.8 458.9h1.2M120 458.9h1.2M156.1 458.9h1.8M309.7 458.9h9.6M349.9 458.9h5.6M378.3 458.9h6.2M458.9 458.9h7.7M84.2 464.3h1.2M89.5 464.3h1.2M91.6 464.3h1.2M99 464.3h1.2M108.4 464.3h1.2M384.3 464.3h6.3M570.1 464.3h9.9M89.5 469.8h1.2M121.1 469.8h1.2M125.3 469.8h1.2M138.3 469.8h1.5M296.2 469.8h4.6M334.1 469.8h5.3M366.6 469.8h5.9M474.2 469.8h8M498.4 469.8h8.5M570.1 469.8h9.9M86.3 475.2h1.2M130.9 475.2h1.3M148.2 475.2h1.7M168.6 475.2h4M176.5 475.2h2.2M309.7 475.2h4.8M334.1 475.2h5.3M97.9 480.7h1.2M113.7 480.7h1.2M125.3 480.7h1.2M145.2 480.7h1.6M176.5 480.7h2.2M339.2 480.7h5.4M378.3 480.7h6.2M436.9 480.7h7.3M498.4 480.7h17.1M125.3 486.1h1.2M134.5 486.1h1.4M138.3 486.1h1.5M154.5 486.1h1.8M474.2 486.1h16.1M524 486.1h9M87.4 491.5h1.2M99 491.5h1.2M107.4 491.5h1.2M112.6 491.5h1.2M126.4 491.5h1.2M134.5 491.5h1.4M138.3 491.5h1.5M178.6 491.5h2.3M201.7 491.5h2.7M349.9 491.5h5.6M429.9 491.5h14.4M532.8 491.5h9.2M120 497h1.2M126.4 497h1.2M128.6 497h1.3M134.5 497h1.4M194.3 497h2.6M84.2 502.4h1.2M176.5 502.4h2.2M182.8 502.4h2.3M390.4 502.4h6.4M416.2 502.4h6.9M436.9 502.4h7.3M506.7 502.4h8.7M96.9 507.9h1.2M102.1 507.9h1.2M148.2 507.9h1.7M151.3 507.9h1.7M176.5 507.9h2.2M189.6 507.9h2.5M349.9 507.9h11.2M372.4 507.9h6.1M390.4 507.9h6.4M403.1 507.9h6.7M416.2 507.9h6.9M466.5 507.9h7.9M498.4 507.9h8.5"/><path stroke="rgb(125,125,125)" d="M89.5 77.7h1.2M112.6 77.7h1.2M148.2 77.7h1.7M178.6 77.7h2.3M182.8 77.7h2.3M300.6 77.7h4.7M490.2 77.7h8.4M174.4 83.2h2.2M201.7 83.2h2.7M378.3 83.2h6.2M532.8 83.2h9.2M81.1 88.6h1.2M86.3 88.6h2.3M91.6 88.6h1.2M111.6 88.6h1.2M122.1 88.6h1.2M124.2 88.6h1.2M132.1 88.6h1.4M152.9 88.6h1.8M164.8 88.6h2M176.5 88.6h2.2M206.9 88.6h5.5M215 88.6h5.9M229.7 88.6h3.3M252.9 88.6h3.7M324.1 88.6h5.1M384.3 88.6h6.3M409.6 88.6h13.5M451.4 88.6h7.6M82.1 94.1h1.2M93.7 94.1h1.2M117.9 94.1h1.2M176.5 94.1h2.2M204.2 94.1h2.8M309.7 94.1h4.8M324.1 94.1h5.1M334.1 94.1h5.3M360.9 94.1h5.8M451.4 94.1h15.2M121.1 99.5h1.2M125.3 99.5h1.2M267.6 99.5h4M436.9 99.5h7.3M551.1 99.5h19.1M81.1 104.9h1.2M85.3 104.9h1.2M92.6 104.9h1.2M95.8 104.9h1.2M122.1 104.9h1.2M133.3 104.9h1.4M164.8 104.9h2M172.4 104.9h2.1M201.7 104.9h2.7M384.3 104.9h12.6M403.1 104.9h6.7M97.9 110.4h1.2M115.8 110.4h1.2M123.2 110.4h1.2M137 110.4h2.8M148.2 110.4h1.7M159.5 110.4h1.9M201.7 110.4h2.7M232.9 110.4h3.3M260.1 110.4h3.9M287.6 110.4h4.4M384.3 110.4h6.3M423 110.4h7M444.1 110.4h7.5M108.4 115.8h1.2M127.5 115.8h1.3M149.7 115.8h1.7M168.6 115.8h2.1M209.5 115.8h2.9M232.9 115.8h3.3M249.4 115.8h3.7M324.1 115.8h5.1M349.9 115.8h5.6M372.4 115.8h12.1M429.9 115.8h7.2M444.1 115.8h7.5M515.3 115.8h8.9M117.9 121.3h2.3M156.1 121.3h1.8M196.7 121.3h2.6M206.9 121.3h2.8M309.7 121.3h4.8M416.2 121.3h6.9M99 126.7h1.2M112.6 126.7h1.2M115.8 126.7h1.2M163 126.7h3.8M215 126.7h3M226.7 126.7h3.2M249.4 126.7h3.7M296.2 126.7h4.6M305.1 126.7h4.7M344.5 126.7h5.5M117.9 132.2h1.2M123.2 132.2h1.2M145.2 132.2h1.6M148.2 132.2h1.7M156.1 132.2h3.5M182.8 132.2h2.3M196.7 132.2h2.6M217.9 132.2h3M396.7 132.2h6.5M444.1 132.2h7.5M474.2 132.2h8M123.2 137.6h1.2M134.5 137.6h1.4M139.7 137.6h1.5M174.4 137.6h2.2M283.5 137.6h4.3M296.2 137.6h4.6M309.7 137.6h4.8M506.7 137.6h8.7M570.1 137.6h9.9M87.4 143.1h1.2M102.1 143.1h1.2M161.2 143.1h1.9M172.4 143.1h2.1M178.6 143.1h2.3M229.7 143.1h6.4M296.2 143.1h4.6M366.6 143.1h5.9M498.4 143.1h8.5M81.1 148.5h1.2M123.2 148.5h1.2M130.9 148.5h1.3M133.3 148.5h1.4M196.7 148.5h2.6M209.5 148.5h2.9M215 148.5h3M344.5 148.5h5.5M366.6 148.5h5.9M378.3 148.5h6.2M498.4 148.5h8.5M93.7 154h1.2M99 154h1.2M113.7 154h1.2M132.1 154h1.4M154.5 154h1.8M212.3 154h2.9M217.9 154h3M271.4 154h4.1M300.6 154h4.7M319.2 154h5M409.6 154h13.5M96.9 159.4h2.3M145.2 159.4h1.6M168.6 159.4h2.1M201.7 159.4h5.3M212.3 159.4h2.9M384.3 159.4h6.3M139.7 164.8h1.5M149.7 164.8h1.7M164.8 164.8h2M189.6 164.8h2.5M209.5 164.8h2.9M220.7 164.8h3.1M245.9 164.8h3.6M309.7 164.8h4.8M355.3 164.8h5.7M541.9 164.8h9.4M88.4 170.3h2.3M111.6 170.3h1.2M128.6 170.3h1.3M172.4 170.3h2.1M194.3 170.3h2.6M217.9 170.3h3M314.4 170.3h4.9M141 175.7h1.5M189.6 175.7h2.5M267.6 175.7h4M309.7 175.7h4.8M339.2 175.7h10.8M116.9 181.2h1.2M157.8 181.2h1.9M164.8 181.2h2M180.7 181.2h2.3M223.7 181.2h3.1M232.9 181.2h3.3M309.7 181.2h4.8M126.4 186.6h1.2M129.7 186.6h1.3M137 186.6h1.5M143.8 186.6h1.6M201.7 186.6h2.7M355.3 186.6h5.7M482.1 186.6h8.2M506.7 186.6h8.7M579.9 186.6h10.1M133.3 192.1h1.4M139.7 192.1h1.5M156.1 192.1h1.8M185 192.1h2.4M196.7 192.1h2.6M355.3 192.1h5.7M409.6 192.1h6.8M474.2 192.1h8M498.4 192.1h8.5M97.9 197.5h1.2M100 197.5h1.2M108.4 197.5h1.2M129.7 197.5h1.3M148.2 197.5h1.7M152.9 197.5h1.8M168.6 197.5h2.1M194.3 197.5h2.6M204.2 197.5h2.8M249.4 197.5h3.7M474.2 197.5h8M88.4 203h1.2M91.6 203h1.2M123.2 203h1.2M229.7 203h3.3M275.4 203h8.2M314.4 203h4.9M96.9 208.4h2.3M108.4 208.4h1.2M116.9 208.4h1.2M121.1 208.4h1.2M145.2 208.4h1.6M157.8 208.4h1.9M176.5 208.4h2.2M185 208.4h2.4M191.9 208.4h2.5M271.4 208.4h4.1M300.6 208.4h4.7M309.7 208.4h4.8M378.3 208.4h6.2M396.7 208.4h6.5M423 208.4h7M458.9 208.4h7.7M80 213.8h1.2M84.2 213.8h1.2M145.2 213.8h1.6M249.4 213.8h3.7M256.4 213.8h3.8M355.3 213.8h5.7M372.4 213.8h6.1M81.1 219.3h1.2M111.6 219.3h1.2M124.2 219.3h1.2M152.9 219.3h1.8M180.7 219.3h2.3M194.3 219.3h2.6M319.2 219.3h5M344.5 219.3h5.5M384.3 219.3h6.3M458.9 219.3h7.7M551.1 219.3h9.6M95.8 224.7h1.2M97.9 224.7h1.2M122.1 224.7h1.2M124.2 224.7h1.2M128.6 224.7h1.3M137 224.7h1.5M141 224.7h1.5M146.7 224.7h1.6M189.6 224.7h4.9M349.9 224.7h5.6M378.3 224.7h6.2M444.1 224.7h7.5M482.1 224.7h8.2M506.7 224.7h8.7M82.1 230.2h1.2M119 230.2h1.2M135.7 230.2h1.4M146.7 230.2h1.6M164.8 230.2h2M196.7 230.2h2.6M217.9 230.2h3M242.6 230.2h3.5M132.1 235.6h2.6M137 235.6h1.5M157.8 235.6h1.9M229.7 235.6h3.3M249.4 235.6h3.7M287.6 235.6h4.4M403.1 235.6h6.7M423 235.6h7M541.9 235.6h9.4M86.3 241.1h1.2M125.3 241.1h1.2M132.1 241.1h1.4M148.2 241.1h1.7M151.3 241.1h1.7M176.5 241.1h2.2M187.3 241.1h2.4M329 241.1h5.2M355.3 241.1h5.7M498.4 241.1h17.1M560.5 241.1h9.7M93.7 246.5h1.2M95.8 246.5h1.2M132.1 246.5h1.4M138.3 246.5h1.5M176.5 246.5h2.2M191.9 246.5h2.5M212.3 246.5h2.9M287.6 246.5h4.4M451.4 246.5h7.6M112.6 252h1.2M125.3 252h1.2M152.9 252h1.8M164.8 252h2M180.7 252h2.3M187.3 252h2.4M236 252h3.4M283.5 252h4.3M390.4 252h6.4M92.6 257.4h1.2M102.1 257.4h1.2M130.9 257.4h1.3M134.5 257.4h1.4M141 257.4h1.5M271.4 257.4h4.1M81.1 262.9h1.2M88.4 262.9h1.2M132.1 262.9h1.4M142.4 262.9h1.6M236 262.9h3.4M279.4 262.9h4.2M287.6 262.9h4.4M458.9 262.9h7.7M474.2 262.9h16.1M106.3 268.3h1.2M116.9 268.3h1.2M129.7 268.3h1.3M146.7 268.3h1.6M154.5 268.3h1.8M163 268.3h2M384.3 268.3h6.3M81.1 273.7h1.2M87.4 273.7h1.2M143.8 273.7h1.6M185 273.7h2.4M199.2 273.7h2.7M236 273.7h3.4M245.9 273.7h3.6M378.3 273.7h6.2M409.6 273.7h6.8M458.9 273.7h7.7M423 279.2h7M579.9 279.2h10.1M84.2 284.6h1.2M128.6 284.6h1.3M130.9 284.6h1.3M149.7 284.6h1.7M194.3 284.6h2.6M242.6 284.6h3.5M263.8 284.6h3.9M309.7 284.6h9.6M349.9 284.6h5.6M444.1 284.6h7.5M490.2 284.6h8.4M88.4 290.1h1.2M101.1 290.1h1.2M113.7 290.1h1.2M124.2 290.1h1.2M148.2 290.1h1.7M209.5 290.1h2.9M217.9 290.1h3M283.5 290.1h4.3M80 295.5h1.2M88.4 295.5h1.2M92.6 295.5h1.2M119 295.5h1.2M126.4 295.5h1.2M130.9 295.5h1.3M141 295.5h1.5M149.7 295.5h1.7M161.2 295.5h1.9M185 295.5h2.4M189.6 295.5h2.5M204.2 295.5h2.8M215 295.5h3M283.5 295.5h4.3M339.2 295.5h5.4M360.9 295.5h5.8M444.1 295.5h7.5M458.9 295.5h7.7M119 301h1.2M124.2 301h1.2M130.9 301h1.3M137 301h1.5M152.9 301h1.8M178.6 301h2.3M182.8 301h2.3M189.6 301h2.5M339.2 301h5.4M349.9 301h5.6M378.3 301h6.2M466.5 301h7.9M490.2 301h8.4M88.4 306.4h1.2M128.6 306.4h1.3M178.6 306.4h2.3M189.6 306.4h2.5M196.7 306.4h2.6M201.7 306.4h5.3M239.3 306.4h3.5M271.4 306.4h4.1M339.2 306.4h5.4M349.9 306.4h5.6M396.7 306.4h6.5M409.6 306.4h6.8M474.2 306.4h8M524 306.4h9M89.5 311.9h1.2M206.9 311.9h2.8M212.3 311.9h2.9M217.9 311.9h3M242.6 311.9h3.5M329 311.9h5.2M372.4 311.9h6.1M120 317.3h1.2M132.1 317.3h1.4M134.5 317.3h1.4M142.4 317.3h1.6M145.2 317.3h1.6M156.1 317.3h1.8M170.5 317.3h2.1M180.7 317.3h2.3M245.9 317.3h3.6M344.5 317.3h5.5M366.6 317.3h5.9M409.6 317.3h6.8M444.1 317.3h7.5M474.2 317.3h8M498.4 317.3h8.5M81.1 322.7h1.2M84.2 322.7h1.2M103.2 322.7h1.2M123.2 322.7h1.2M189.6 322.7h2.5M212.3 322.7h2.9M252.9 322.7h3.7M260.1 322.7h3.9M300.6 322.7h4.7M95.8 328.2h1.2M149.7 328.2h1.7M490.2 328.2h8.4M138.3 333.6h1.5M142.4 333.6h1.6M161.2 333.6h1.9M174.4 333.6h2.2M349.9 333.6h5.6M372.4 333.6h6.1M89.5 339.1h1.2M122.1 339.1h1.2M130.9 339.1h1.3M157.8 339.1h1.9M196.7 339.1h2.6M212.3 339.1h2.9M232.9 339.1h3.3M279.4 339.1h4.2M305.1 339.1h4.7M329 339.1h5.2M366.6 339.1h5.9M416.2 339.1h6.9M458.9 339.1h7.7M474.2 339.1h8M83.2 344.5h1.2M152.9 344.5h1.8M168.6 344.5h2.1M172.4 344.5h2.1M223.7 344.5h3.1M232.9 344.5h3.3M267.6 344.5h4M444.1 344.5h7.5M466.5 344.5h7.9M482.1 344.5h8.2M102.1 350h1.2M108.4 350h1.2M125.3 350h1.2M137 350h1.5M164.8 350h2M271.4 350h4.1M378.3 350h6.2M436.9 350h7.3M482.1 350h8.2M92.6 355.4h1.2M119 355.4h1.2M148.2 355.4h1.7M178.6 355.4h2.3M199.2 355.4h2.7M215 355.4h3M236 355.4h3.4M242.6 355.4h3.5M271.4 355.4h4.1M329 355.4h5.2M355.3 355.4h5.7M82.1 360.9h1.2M132.1 360.9h1.4M134.5 360.9h1.4M149.7 360.9h3.3M156.1 360.9h1.8M180.7 360.9h2.3M187.3 360.9h4.8M309.7 360.9h4.8M366.6 360.9h5.9M429.9 360.9h7.2M498.4 360.9h8.5M551.1 360.9h9.6M96.9 366.3h2.3M125.3 366.3h1.2M133.3 366.3h1.4M199.2 366.3h2.7M314.4 366.3h4.9M396.7 366.3h6.5M416.2 366.3h6.9M429.9 366.3h7.2M91.6 371.8h2.3M119 371.8h2.3M122.1 371.8h1.2M126.4 371.8h1.2M128.6 371.8h1.3M148.2 371.8h1.7M189.6 371.8h2.5M196.7 371.8h2.6M287.6 371.8h4.4M409.6 371.8h6.8M474.2 371.8h8M490.2 371.8h8.4M84.2 377.2h1.2M94.7 377.2h1.2M112.6 377.2h1.2M151.3 377.2h1.7M163 377.2h2M185 377.2h2.4M206.9 377.2h2.8M220.7 377.2h3.1M344.5 377.2h5.5M524 377.2h9M86.3 382.6h1.2M90.5 382.6h1.2M99 382.6h1.2M117.9 382.6h1.2M133.3 382.6h1.4M191.9 382.6h2.5M220.7 382.6h3.1M236 382.6h3.4M260.1 382.6h3.9M319.2 382.6h5M135.7 388.1h1.4M149.7 388.1h1.7M152.9 388.1h1.8M232.9 388.1h6.6M256.4 388.1h3.8M324.1 388.1h5.1M339.2 388.1h10.8M482.1 388.1h8.2M154.5 393.5h1.8M161.2 393.5h1.9M172.4 393.5h2.1M83.2 399h1.2M121.1 399h1.2M139.7 399h1.5M187.3 399h2.4M191.9 399h2.5M249.4 399h3.7M256.4 399h3.8M279.4 399h4.2M360.9 399h5.8M372.4 399h6.1M466.5 399h7.9M88.4 404.4h1.2M97.9 404.4h1.2M115.8 404.4h1.2M142.4 404.4h1.6M148.2 404.4h1.7M174.4 404.4h2.2M226.7 404.4h3.2M339.2 404.4h5.4M372.4 404.4h6.1M444.1 404.4h7.5M123.2 409.9h1.2M141 409.9h1.5M148.2 409.9h1.7M170.5 409.9h2.1M191.9 409.9h2.5M267.6 409.9h4M339.2 409.9h5.4M349.9 409.9h5.6M466.5 409.9h7.9M81.1 415.3h1.2M89.5 415.3h1.2M91.6 415.3h1.2M97.9 415.3h1.2M121.1 415.3h1.2M123.2 415.3h1.2M135.7 415.3h1.4M157.8 415.3h1.9M242.6 415.3h3.5M279.4 415.3h4.2M339.2 415.3h5.4M88.4 420.8h1.2M127.5 420.8h1.3M138.3 420.8h1.5M166.7 420.8h2M212.3 420.8h2.9M279.4 420.8h4.2M360.9 420.8h5.8M81.1 426.2h1.2M84.2 426.2h1.2M157.8 426.2h1.9M196.7 426.2h2.6M309.7 426.2h4.8M339.2 426.2h5.4M474.2 426.2h8M108.4 431.6h1.2M128.6 431.6h1.3M157.8 431.6h1.9M191.9 431.6h2.5M232.9 431.6h3.3M416.2 431.6h6.9M541.9 431.6h9.4M82.1 437.1h1.2M121.1 437.1h1.2M123.2 437.1h1.2M164.8 437.1h2M187.3 437.1h2.4M194.3 437.1h2.6M314.4 437.1h4.9M81.1 442.5h1.2M135.7 442.5h2.7M180.7 442.5h2.3M209.5 442.5h2.9M239.3 442.5h3.5M279.4 442.5h4.2M305.1 442.5h9.4M360.9 442.5h5.8M81.1 448h1.2M83.2 448h1.2M100 448h1.2M125.3 448h1.2M146.7 448h1.6M154.5 448h1.8M215 448h3M283.5 448h4.3M124.2 453.4h1.2M132.1 453.4h1.4M236 453.4h3.4M305.1 453.4h9.4M436.9 453.4h7.3M466.5 453.4h7.9M97.9 458.9h1.2M115.8 458.9h1.2M139.7 458.9h1.5M154.5 458.9h1.8M178.6 458.9h2.3M236 458.9h3.4M429.9 458.9h7.2M541.9 458.9h9.4M92.6 464.3h1.2M159.5 464.3h1.9M176.5 464.3h2.2M180.7 464.3h2.3M209.5 464.3h2.9M242.6 464.3h3.5M263.8 464.3h3.9M300.6 464.3h4.7M102.1 469.8h1.2M127.5 469.8h1.3M132.1 469.8h1.4M142.4 469.8h1.6M146.7 469.8h1.6M185 469.8h4.7M191.9 469.8h2.5M256.4 469.8h3.8M344.5 469.8h5.5M372.4 469.8h6.1M83.2 475.2h1.2M99 475.2h1.2M126.4 475.2h1.2M132.1 475.2h1.4M151.3 475.2h1.7M157.8 475.2h1.9M161.2 475.2h1.9M174.4 475.2h2.2M256.4 475.2h3.8M305.1 475.2h4.7M324.1 475.2h5.1M349.9 475.2h5.6M451.4 475.2h7.6M498.4 475.2h8.5M99 480.7h1.2M103.2 480.7h1.2M123.2 480.7h2.3M156.1 480.7h1.8M159.5 480.7h1.9M164.8 480.7h2M174.4 480.7h2.2M185 480.7h2.4M199.2 480.7h2.7M215 480.7h3M232.9 480.7h3.3M256.4 480.7h3.8M334.1 480.7h5.3M349.9 480.7h5.6M372.4 480.7h6.1M117.9 486.1h1.2M135.7 486.1h1.4M139.7 486.1h1.5M157.8 486.1h1.9M172.4 486.1h2.1M215 486.1h3M344.5 486.1h5.5M409.6 486.1h6.8M86.3 491.5h1.2M119 491.5h1.2M319.2 491.5h5M355.3 491.5h5.7M466.5 491.5h7.9M506.7 491.5h8.7M551.1 491.5h9.6M87.4 497h2.3M91.6 497h1.2M103.2 497h1.2M119 497h1.2M174.4 497h2.2M189.6 497h2.5M223.7 497h3.1M344.5 497h5.5M384.3 497h6.3M92.6 502.4h1.2M99 502.4h1.2M159.5 502.4h1.9M168.6 502.4h2.1M204.2 502.4h5.4M267.6 502.4h4M498.4 502.4h8.5M541.9 502.4h9.4M87.4 507.9h1.2M116.9 507.9h1.2M138.3 507.9h1.5M204.2 507.9h2.8M215 507.9h3M252.9 507.9h3.7M287.6 507.9h4.4"/><path stroke="rgb(132,132,132)" d="M97.9 77.7h1.2M115.8 77.7h1.2M119 77.7h1.2M132.1 77.7h1.4M145.2 77.7h1.6M152.9 77.7h1.8M157.8 77.7h1.9M201.7 77.7h2.7M239.3 77.7h3.5M396.7 77.7h6.5M127.5 83.2h1.3M137 83.2h2.8M229.7 83.2h3.3M245.9 83.2h7.1M360.9 83.2h5.8M390.4 83.2h6.4M474.2 83.2h8M93.7 88.6h1.2M97.9 88.6h2.3M145.2 88.6h1.6M163 88.6h2M174.4 88.6h2.2M199.2 88.6h2.7M300.6 88.6h4.7M551.1 88.6h9.6M87.4 94.1h1.2M97.9 94.1h1.2M126.4 94.1h1.2M166.7 94.1h2M185 94.1h2.4M239.3 94.1h3.5M372.4 94.1h6.1M384.3 94.1h12.6M444.1 94.1h7.5M99 99.5h1.2M115.8 99.5h1.2M129.7 99.5h1.3M239.3 99.5h3.5M263.8 99.5h3.9M319.2 99.5h5M396.7 99.5h6.5M498.4 99.5h8.5M97.9 104.9h1.2M116.9 104.9h1.2M126.4 104.9h3.5M135.7 104.9h1.4M151.3 104.9h1.7M156.1 104.9h1.8M174.4 104.9h2.2M245.9 104.9h3.6M287.6 104.9h4.4M378.3 104.9h6.2M482.1 104.9h8.2M87.4 110.4h1.2M120 110.4h1.2M130.9 110.4h1.3M134.5 110.4h1.4M166.7 110.4h2M174.4 110.4h2.2M199.2 110.4h2.7M267.6 110.4h4M319.2 110.4h5M355.3 110.4h5.7M482.1 110.4h8.2M80 115.8h1.2M134.5 115.8h1.4M138.3 115.8h1.5M161.2 115.8h3.7M174.4 115.8h2.2M182.8 115.8h2.3M252.9 115.8h3.7M263.8 115.8h7.8M87.4 121.3h1.2M127.5 121.3h1.3M170.5 121.3h2.1M187.3 121.3h2.4M194.3 121.3h2.6M232.9 121.3h3.3M275.4 121.3h4.2M444.1 121.3h7.5M130.9 126.7h1.3M138.3 126.7h1.5M178.6 126.7h2.3M212.3 126.7h2.9M232.9 126.7h3.3M275.4 126.7h4.2M372.4 126.7h6.1M86.3 132.2h1.2M97.9 132.2h1.2M129.7 132.2h1.3M132.1 132.2h1.4M180.7 132.2h2.3M215 132.2h3M300.6 132.2h4.7M324.1 132.2h5.1M349.9 132.2h5.6M423 132.2h7M97.9 137.6h1.2M128.6 137.6h1.3M148.2 137.6h1.7M151.3 137.6h1.7M163 137.6h2M189.6 137.6h2.5M245.9 137.6h3.6M409.6 137.6h6.8M86.3 143.1h1.2M97.9 143.1h1.2M100 143.1h1.2M134.5 143.1h1.4M151.3 143.1h1.7M156.1 143.1h3.5M206.9 143.1h2.8M275.4 143.1h4.2M314.4 143.1h4.9M390.4 143.1h6.4M458.9 143.1h7.7M474.2 143.1h8M88.4 148.5h1.2M97.9 148.5h1.2M125.3 148.5h1.2M142.4 148.5h1.6M151.3 148.5h1.7M159.5 148.5h1.9M172.4 148.5h2.1M191.9 148.5h2.5M256.4 148.5h3.8M279.4 148.5h4.2M296.2 148.5h4.6M372.4 148.5h6.1M506.7 148.5h8.7M116.9 154h1.2M121.1 154h1.2M127.5 154h1.3M135.7 154h1.4M187.3 154h2.4M239.3 154h3.5M305.1 154h4.7M339.2 154h5.4M355.3 154h5.7M103.2 159.4h1.2M189.6 159.4h2.5M245.9 159.4h3.6M260.1 159.4h3.9M319.2 159.4h10M360.9 159.4h5.8M515.3 159.4h8.9M81.1 164.8h1.2M111.6 164.8h1.2M126.4 164.8h1.2M201.7 164.8h2.7M300.6 164.8h4.7M319.2 164.8h5M384.3 164.8h6.3M101.1 170.3h1.2M133.3 170.3h1.4M135.7 170.3h4.1M146.7 170.3h1.6M239.3 170.3h3.5M287.6 170.3h4.4M349.9 170.3h5.6M372.4 170.3h6.1M122.1 175.7h1.2M154.5 175.7h3.5M187.3 175.7h2.4M194.3 175.7h2.6M201.7 175.7h2.7M226.7 175.7h6.3M283.5 175.7h4.3M329 175.7h5.2M349.9 175.7h5.6M360.9 175.7h5.8M429.9 175.7h7.2M490.2 175.7h8.4M541.9 175.7h9.4M110.5 181.2h1.2M115.8 181.2h1.2M123.2 181.2h1.2M146.7 181.2h1.6M201.7 181.2h2.7M217.9 181.2h3M349.9 181.2h11.2M482.1 181.2h8.2M83.2 186.6h1.2M87.4 186.6h2.3M124.2 186.6h1.2M149.7 186.6h1.7M178.6 186.6h2.3M226.7 186.6h3.2M236 186.6h3.4M245.9 186.6h3.6M560.5 186.6h9.7M121.1 192.1h1.2M124.2 192.1h1.2M130.9 192.1h1.3M168.6 192.1h2.1M217.9 192.1h3M275.4 192.1h4.2M309.7 192.1h4.8M451.4 192.1h7.6M82.1 197.5h1.2M139.7 197.5h1.5M145.2 197.5h1.6M154.5 197.5h1.8M174.4 197.5h2.2M182.8 197.5h2.3M215 197.5h3M245.9 197.5h3.6M300.6 197.5h4.7M112.6 203h1.2M134.5 203h1.4M194.3 203h5M217.9 203h3M245.9 203h3.6M366.6 203h11.9M458.9 203h15.5M149.7 208.4h1.7M168.6 208.4h2.1M232.9 208.4h3.3M256.4 208.4h3.8M436.9 208.4h7.3M87.4 213.8h1.2M123.2 213.8h1.2M126.4 213.8h1.2M154.5 213.8h1.8M161.2 213.8h1.9M187.3 213.8h2.4M296.2 213.8h4.6M482.1 213.8h8.2M115.8 219.3h1.2M119 219.3h1.2M127.5 219.3h1.3M133.3 219.3h1.4M137 219.3h1.5M143.8 219.3h1.6M156.1 219.3h1.8M215 219.3h5.9M360.9 219.3h5.8M372.4 219.3h6.1M396.7 219.3h6.5M482.1 219.3h8.2M82.1 224.7h1.2M85.3 224.7h1.2M96.9 224.7h1.2M252.9 224.7h3.7M267.6 224.7h4M384.3 224.7h6.3M396.7 224.7h6.5M416.2 224.7h6.9M589.8 224.7h11.3M115.8 230.2h1.2M174.4 230.2h4.3M344.5 230.2h5.5M429.9 230.2h7.2M474.2 230.2h24.3M551.1 230.2h9.6M83.2 235.6h1.2M152.9 235.6h1.8M191.9 235.6h2.5M196.7 235.6h2.6M242.6 235.6h3.5M360.9 235.6h5.8M451.4 235.6h7.6M560.5 235.6h9.7M128.6 241.1h1.3M161.2 241.1h3.7M172.4 241.1h2.1M229.7 241.1h3.3M366.6 241.1h5.9M384.3 241.1h6.3M451.4 241.1h7.6M99 246.5h1.2M123.2 246.5h1.2M149.7 246.5h1.7M194.3 246.5h2.6M267.6 246.5h4M314.4 246.5h4.9M378.3 246.5h6.2M436.9 246.5h7.3M126.4 252h1.2M191.9 252h2.5M201.7 252h2.7M334.1 252h10.6M349.9 252h5.6M444.1 252h7.5M91.6 257.4h1.2M111.6 257.4h2.3M121.1 257.4h1.2M129.7 257.4h1.3M154.5 257.4h1.8M157.8 257.4h1.9M185 257.4h2.4M249.4 257.4h3.7M267.6 257.4h4M490.2 257.4h8.4M86.3 262.9h1.2M90.5 262.9h1.2M130.9 262.9h1.3M212.3 262.9h2.9M451.4 262.9h7.6M134.5 268.3h1.4M145.2 268.3h1.6M180.7 268.3h2.3M199.2 268.3h2.7M223.7 268.3h3.1M236 268.3h3.4M245.9 268.3h3.6M372.4 268.3h6.1M100 273.7h1.2M116.9 273.7h1.2M125.3 273.7h1.2M127.5 273.7h1.3M137 273.7h1.5M187.3 273.7h2.4M194.3 273.7h2.6M242.6 273.7h3.5M329 273.7h5.2M396.7 273.7h6.5M429.9 273.7h7.2M81.1 279.2h1.2M100 279.2h1.2M116.9 279.2h1.2M127.5 279.2h1.3M164.8 279.2h2M182.8 279.2h4.6M215 279.2h3M279.4 279.2h8.4M524 279.2h9M89.5 284.6h1.2M134.5 284.6h1.4M180.7 284.6h2.3M319.2 284.6h5M81.1 290.1h1.2M83.2 290.1h1.2M96.9 290.1h1.2M159.5 290.1h1.9M163 290.1h2M168.6 290.1h2.1M185 290.1h2.4M396.7 290.1h6.5M423 290.1h7M444.1 290.1h7.5M541.9 290.1h9.4M82.1 295.5h1.2M87.4 295.5h1.2M146.7 295.5h1.6M164.8 295.5h2M182.8 295.5h2.3M201.7 295.5h2.7M249.4 295.5h3.7M275.4 295.5h8.2M334.1 295.5h5.3M384.3 295.5h6.3M436.9 295.5h7.3M145.2 301h1.6M176.5 301h2.2M191.9 301h2.5M209.5 301h2.9M436.9 301h7.3M120 306.4h1.2M137 306.4h1.5M163 306.4h2M279.4 306.4h4.2M314.4 306.4h4.9M344.5 306.4h5.5M366.6 306.4h5.9M83.2 311.9h1.2M111.6 311.9h1.2M123.2 311.9h1.2M146.7 311.9h1.6M189.6 311.9h4.9M239.3 311.9h3.5M275.4 311.9h4.2M111.6 317.3h1.2M123.2 317.3h1.2M157.8 317.3h1.9M256.4 317.3h3.8M403.1 317.3h6.7M416.2 317.3h6.9M482.1 317.3h8.2M117.9 322.7h1.2M133.3 322.7h1.4M148.2 322.7h1.7M168.6 322.7h2.1M226.7 322.7h3.2M236 322.7h3.4M360.9 322.7h5.8M498.4 322.7h8.5M80 328.2h2.3M127.5 328.2h1.3M135.7 328.2h1.4M139.7 328.2h1.5M182.8 328.2h2.3M252.9 328.2h3.7M355.3 328.2h5.7M101.1 333.6h1.2M125.3 333.6h1.2M127.5 333.6h1.3M132.1 333.6h1.4M212.3 333.6h2.9M220.7 333.6h3.1M229.7 333.6h3.3M236 333.6h3.4M275.4 333.6h8.2M366.6 333.6h5.9M390.4 333.6h6.4M93.7 339.1h1.2M137 339.1h1.5M220.7 339.1h3.1M260.1 339.1h3.9M324.1 339.1h5.1M451.4 339.1h7.6M498.4 339.1h8.5M86.3 344.5h1.2M123.2 344.5h1.2M133.3 344.5h1.4M236 344.5h3.4M287.6 344.5h4.4M300.6 344.5h4.7M115.8 350h1.2M146.7 350h1.6M172.4 350h4.2M196.7 350h2.6M201.7 350h5.3M223.7 350h3.1M314.4 350h4.9M409.6 350h6.8M86.3 355.4h1.2M120 355.4h1.2M130.9 355.4h1.3M149.7 355.4h1.7M152.9 355.4h1.8M185 355.4h2.4M201.7 355.4h2.7M206.9 355.4h2.8M403.1 355.4h6.7M474.2 355.4h8M112.6 360.9h2.3M142.4 360.9h1.6M170.5 360.9h2.1M185 360.9h2.4M245.9 360.9h3.6M260.1 360.9h3.9M339.2 360.9h5.4M349.9 360.9h5.6M360.9 360.9h5.8M506.7 360.9h17.4M81.1 366.3h1.2M161.2 366.3h1.9M215 366.3h3M220.7 366.3h3.1M249.4 366.3h3.7M256.4 366.3h3.8M384.3 366.3h6.3M436.9 366.3h7.3M84.2 371.8h1.2M99 371.8h1.2M127.5 371.8h1.3M129.7 371.8h1.3M157.8 371.8h1.9M239.3 371.8h3.5M245.9 371.8h3.6M256.4 371.8h3.8M263.8 371.8h3.9M390.4 371.8h6.4M423 371.8h7M174.4 377.2h2.2M196.7 377.2h2.6M215 377.2h5.9M232.9 377.2h3.3M366.6 377.2h5.9M423 377.2h7M560.5 377.2h9.7M84.2 382.6h1.2M112.6 382.6h1.2M115.8 382.6h1.2M121.1 382.6h1.2M127.5 382.6h2.4M130.9 382.6h1.3M134.5 382.6h1.4M139.7 382.6h1.5M143.8 382.6h3.1M154.5 382.6h1.8M172.4 382.6h2.1M209.5 382.6h2.9M232.9 382.6h3.3M324.1 382.6h5.1M416.2 382.6h6.9M482.1 382.6h8.2M189.6 388.1h2.5M215 388.1h3M226.7 388.1h3.2M260.1 388.1h3.9M541.9 388.1h9.4M86.3 393.5h1.2M120 393.5h1.2M126.4 393.5h1.2M142.4 393.5h1.6M151.3 393.5h1.7M176.5 393.5h2.2M191.9 393.5h2.5M223.7 393.5h3.1M242.6 393.5h3.5M263.8 393.5h3.9M396.7 393.5h6.5M541.9 393.5h9.4M87.4 399h1.2M99 399h1.2M112.6 399h1.2M119 399h1.2M137 399h1.5M206.9 399h2.8M245.9 399h3.6M314.4 399h9.8M111.6 404.4h1.2M143.8 404.4h1.6M164.8 404.4h2M176.5 404.4h2.2M209.5 404.4h2.9M287.6 404.4h4.4M296.2 404.4h4.6M403.1 404.4h13.3M490.2 404.4h8.4M86.3 409.9h1.2M92.6 409.9h1.2M112.6 409.9h1.2M128.6 409.9h2.4M161.2 409.9h1.9M178.6 409.9h2.3M217.9 409.9h3M390.4 409.9h6.4M498.4 409.9h8.5M92.6 415.3h1.2M112.6 415.3h1.2M122.1 415.3h1.2M126.4 415.3h1.2M134.5 415.3h1.4M141 415.3h1.5M185 415.3h2.4M194.3 415.3h2.6M212.3 415.3h2.9M249.4 415.3h3.7M305.1 415.3h4.7M344.5 415.3h11M378.3 415.3h6.2M141 420.8h1.5M172.4 420.8h2.1M217.9 420.8h3M239.3 420.8h3.5M319.2 420.8h5M83.2 426.2h1.2M115.8 426.2h1.2M121.1 426.2h1.2M139.7 426.2h1.5M226.7 426.2h3.2M256.4 426.2h3.8M378.3 426.2h6.2M390.4 426.2h12.8M436.9 426.2h7.3M86.3 431.6h1.2M92.6 431.6h1.2M142.4 431.6h1.6M152.9 431.6h1.8M161.2 431.6h1.9M166.7 431.6h2M172.4 431.6h4.2M199.2 431.6h2.7M206.9 431.6h2.8M217.9 431.6h3M444.1 431.6h7.5M474.2 431.6h8M112.6 437.1h2.3M135.7 437.1h1.4M143.8 437.1h1.6M236 437.1h3.4M252.9 437.1h3.7M296.2 437.1h4.6M324.1 437.1h5.1M344.5 437.1h5.5M416.2 437.1h6.9M524 437.1h9M85.3 442.5h1.2M121.1 442.5h1.2M134.5 442.5h1.4M156.1 442.5h1.8M174.4 442.5h2.2M206.9 442.5h2.8M252.9 442.5h3.7M296.2 442.5h9.1M152.9 448h1.8M182.8 448h2.3M490.2 448h8.4M143.8 453.4h1.6M154.5 453.4h1.8M423 453.4h7M474.2 453.4h8M99 458.9h1.2M123.2 458.9h1.2M126.4 458.9h1.2M143.8 458.9h3.1M204.2 458.9h2.8M263.8 458.9h3.9M296.2 458.9h4.6M560.5 458.9h9.7M82.1 464.3h1.2M101.1 464.3h1.2M111.6 464.3h1.2M151.3 464.3h1.7M164.8 464.3h2M182.8 464.3h2.3M196.7 464.3h2.6M220.7 464.3h3.1M334.1 464.3h10.6M482.1 464.3h8.2M579.9 464.3h10.1M80 469.8h1.2M88.4 469.8h1.2M91.6 469.8h1.2M124.2 469.8h1.2M139.7 469.8h1.5M174.4 469.8h2.2M236 469.8h6.7M88.4 475.2h1.2M97.9 475.2h1.2M112.6 475.2h1.2M128.6 475.2h1.3M156.1 475.2h1.8M159.5 475.2h1.9M163 475.2h2M178.6 475.2h2.3M199.2 475.2h5.2M220.7 475.2h3.1M226.7 475.2h3.2M482.1 475.2h8.2M579.9 475.2h10.1M168.6 480.7h2.1M409.6 480.7h6.8M490.2 480.7h8.4M108.4 486.1h1.2M143.8 486.1h1.6M156.1 486.1h1.8M174.4 486.1h2.2M180.7 486.1h2.3M187.3 486.1h2.4M279.4 486.1h4.2M339.2 486.1h5.4M378.3 486.1h12.3M80 491.5h1.2M93.7 491.5h1.2M109.5 491.5h1.2M132.1 491.5h1.4M141 491.5h2.9M152.9 491.5h1.8M287.6 491.5h4.4M300.6 491.5h4.7M324.1 491.5h5.1M498.4 491.5h8.5M82.1 497h1.2M148.2 497h1.7M154.5 497h1.8M191.9 497h2.5M229.7 497h3.3M236 497h3.4M287.6 497h4.4M305.1 497h4.7M349.9 497h5.6M80 502.4h2.3M108.4 502.4h1.2M123.2 502.4h1.2M127.5 502.4h2.4M146.7 502.4h1.6M152.9 502.4h3.4M170.5 502.4h2.1M201.7 502.4h2.7M223.7 502.4h3.1M236 502.4h3.4M242.6 502.4h3.5M334.1 502.4h5.3M344.5 502.4h5.5M403.1 502.4h6.7M444.1 502.4h7.5M122.1 507.9h1.2M141 507.9h1.5M143.8 507.9h1.6M170.5 507.9h2.1M180.7 507.9h4.5M206.9 507.9h2.8M217.9 507.9h3M242.6 507.9h3.5M334.1 507.9h5.3M366.6 507.9h5.9"/><path stroke="rgb(139,139,139)" d="M106.3 77.7h1.2M124.2 77.7h2.3M137 77.7h1.5M170.5 77.7h2.1M176.5 77.7h2.2M220.7 77.7h6.1M249.4 77.7h3.7M344.5 77.7h5.5M84.2 83.2h1.2M121.1 83.2h1.2M123.2 83.2h1.2M128.6 83.2h1.3M132.1 83.2h1.4M145.2 83.2h1.6M168.6 83.2h2.1M212.3 83.2h2.9M82.1 88.6h1.2M92.6 88.6h1.2M260.1 88.6h3.9M287.6 88.6h4.4M349.9 88.6h5.6M429.9 88.6h7.2M458.9 88.6h7.7M99 94.1h2.3M119 94.1h1.2M142.4 94.1h1.6M163 94.1h2M182.8 94.1h2.3M199.2 94.1h2.7M215 94.1h3M249.4 94.1h3.7M267.6 94.1h4M279.4 94.1h4.2M490.2 94.1h8.4M81.1 99.5h1.2M122.1 99.5h1.2M137 99.5h1.5M149.7 99.5h1.7M163 99.5h2M166.7 99.5h2M191.9 99.5h2.5M204.2 99.5h2.8M279.4 99.5h8.4M403.1 99.5h6.7M80 104.9h1.2M139.7 104.9h1.5M161.2 104.9h1.9M178.6 104.9h2.3M212.3 104.9h2.9M223.7 104.9h3.1M242.6 104.9h3.5M99 110.4h1.2M133.3 110.4h1.4M135.7 110.4h1.4M163 110.4h2M180.7 110.4h2.3M256.4 110.4h3.8M271.4 110.4h4.1M314.4 110.4h4.9M429.9 110.4h7.2M490.2 110.4h8.4M92.6 115.8h1.2M100 115.8h1.2M116.9 115.8h1.2M123.2 115.8h1.2M132.1 115.8h1.4M180.7 115.8h2.3M189.6 115.8h2.5M199.2 115.8h2.7M223.7 115.8h3.1M229.7 115.8h3.3M275.4 115.8h4.2M436.9 115.8h7.3M482.1 115.8h8.2M86.3 121.3h1.2M143.8 121.3h1.6M146.7 121.3h1.6M149.7 121.3h1.7M168.6 121.3h2.1M319.2 121.3h5M366.6 121.3h5.9M390.4 121.3h6.4M92.6 126.7h1.2M121.1 126.7h1.2M139.7 126.7h1.5M151.3 126.7h1.7M170.5 126.7h2.1M187.3 126.7h2.4M194.3 126.7h2.6M209.5 126.7h2.9M349.9 126.7h5.6M87.4 132.2h1.2M120 132.2h1.2M159.5 132.2h1.9M339.2 132.2h5.4M458.9 132.2h7.7M81.1 137.6h1.2M180.7 137.6h2.3M196.7 137.6h2.6M204.2 137.6h2.8M249.4 137.6h3.7M355.3 137.6h5.7M416.2 137.6h6.9M108.4 143.1h1.2M137 143.1h1.5M146.7 143.1h1.6M174.4 143.1h4.3M384.3 143.1h6.3M115.8 148.5h1.2M174.4 148.5h4.3M189.6 148.5h2.5M206.9 148.5h2.8M271.4 148.5h4.1M474.2 148.5h8M490.2 148.5h8.4M122.1 154h1.2M163 154h2M204.2 154h2.8M242.6 154h3.5M390.4 154h6.4M436.9 154h14.6M116.9 159.4h1.2M130.9 159.4h1.3M138.3 159.4h1.5M159.5 159.4h1.9M232.9 159.4h3.3M309.7 159.4h4.8M436.9 159.4h7.3M451.4 159.4h7.6M82.1 164.8h1.2M85.3 164.8h1.2M135.7 164.8h1.4M242.6 164.8h3.5M260.1 164.8h3.9M267.6 164.8h4M366.6 164.8h5.9M83.2 170.3h1.2M139.7 170.3h1.5M143.8 170.3h1.6M166.7 170.3h2M206.9 170.3h2.8M215 170.3h3M223.7 170.3h3.1M236 170.3h3.4M256.4 170.3h3.8M305.1 170.3h4.7M466.5 170.3h7.9M482.1 170.3h8.2M579.9 170.3h10.1M83.2 175.7h1.2M99 175.7h1.2M151.3 175.7h1.7M159.5 175.7h1.9M163 175.7h3.8M223.7 175.7h3.1M236 175.7h3.4M436.9 175.7h7.3M80 181.2h1.2M122.1 181.2h1.2M124.2 181.2h1.2M139.7 181.2h1.5M156.1 181.2h1.8M168.6 181.2h2.1M176.5 181.2h2.2M204.2 181.2h2.8M236 181.2h3.4M271.4 181.2h4.1M287.6 181.2h4.4M305.1 181.2h4.7M436.9 181.2h7.3M125.3 186.6h1.2M170.5 186.6h2.1M180.7 186.6h2.3M194.3 186.6h2.6M212.3 186.6h2.9M220.7 186.6h3.1M252.9 186.6h3.7M263.8 186.6h3.9M324.1 186.6h5.1M339.2 186.6h5.4M403.1 186.6h6.7M416.2 186.6h6.9M91.6 192.1h1.2M141 192.1h1.5M143.8 192.1h1.6M166.7 192.1h2M172.4 192.1h2.1M194.3 192.1h2.6M245.9 192.1h3.6M256.4 192.1h3.8M296.2 192.1h4.6M482.1 192.1h8.2M91.6 197.5h1.2M102.1 197.5h1.2M126.4 197.5h1.2M142.4 197.5h3M178.6 197.5h2.3M206.9 197.5h2.8M329 197.5h5.2M466.5 197.5h7.9M524 197.5h9M560.5 197.5h9.7M81.1 203h1.2M157.8 203h1.9M168.6 203h2.1M189.6 203h2.5M204.2 203h5.4M232.9 203h3.3M252.9 203h3.7M300.6 203h9.2M384.3 203h6.3M498.4 203h8.5M115.8 208.4h1.2M130.9 208.4h1.3M154.5 208.4h1.8M196.7 208.4h2.6M209.5 208.4h2.9M236 208.4h3.4M242.6 208.4h3.5M267.6 208.4h4M287.6 208.4h4.4M314.4 208.4h4.9M444.1 208.4h7.5M498.4 208.4h8.5M101.1 213.8h1.2M115.8 213.8h1.2M130.9 213.8h1.3M163 213.8h2M170.5 213.8h2.1M176.5 213.8h2.2M182.8 213.8h2.3M275.4 213.8h8.2M319.2 213.8h5M349.9 213.8h5.6M396.7 213.8h6.5M416.2 213.8h6.9M474.2 213.8h8M185 219.3h4.7M249.4 219.3h3.7M300.6 219.3h4.7M416.2 219.3h6.9M451.4 219.3h7.6M100 224.7h1.2M133.3 224.7h1.4M159.5 224.7h1.9M168.6 224.7h2.1M215 224.7h3M344.5 224.7h5.5M88.4 230.2h1.2M128.6 230.2h1.3M130.9 230.2h1.3M137 230.2h1.5M145.2 230.2h1.6M159.5 230.2h1.9M287.6 230.2h4.4M329 230.2h5.2M111.6 235.6h1.2M121.1 235.6h1.2M164.8 235.6h2M201.7 235.6h2.7M206.9 235.6h2.8M275.4 235.6h4.2M309.7 235.6h4.8M498.4 235.6h8.5M532.8 235.6h9.2M82.1 241.1h1.2M121.1 241.1h1.2M133.3 241.1h1.4M174.4 241.1h2.2M194.3 241.1h2.6M249.4 241.1h3.7M256.4 241.1h3.8M283.5 241.1h4.3M360.9 241.1h5.8M390.4 241.1h6.4M81.1 246.5h1.2M127.5 246.5h1.3M134.5 246.5h1.4M137 246.5h1.5M148.2 246.5h1.7M152.9 246.5h1.8M174.4 246.5h2.2M180.7 246.5h2.3M217.9 246.5h3M344.5 246.5h5.5M360.9 246.5h5.8M541.9 246.5h9.4M121.1 252h1.2M168.6 252h2.1M194.3 252h2.6M300.6 252h4.7M344.5 252h5.5M451.4 252h7.6M117.9 257.4h2.3M128.6 257.4h1.3M145.2 257.4h1.6M174.4 257.4h2.2M191.9 257.4h2.5M209.5 257.4h2.9M217.9 257.4h6M232.9 257.4h3.3M239.3 257.4h3.5M360.9 257.4h5.8M458.9 257.4h15.5M589.8 257.4h11.3M125.3 262.9h1.2M148.2 262.9h1.7M201.7 262.9h2.7M206.9 262.9h2.8M260.1 262.9h7.6M283.5 262.9h4.3M378.3 262.9h6.2M83.2 268.3h1.2M85.3 268.3h2.3M99 268.3h1.2M111.6 268.3h1.2M138.3 268.3h1.5M187.3 268.3h2.4M194.3 268.3h2.6M287.6 268.3h4.4M314.4 268.3h9.8M378.3 268.3h6.2M466.5 268.3h7.9M498.4 268.3h8.5M541.9 268.3h9.4M589.8 268.3h11.3M82.1 273.7h1.2M84.2 273.7h1.2M86.3 273.7h1.2M112.6 273.7h1.2M204.2 273.7h5.4M217.9 273.7h3M355.3 273.7h5.7M111.6 279.2h1.2M119 279.2h1.2M156.1 279.2h1.8M161.2 279.2h1.9M166.7 279.2h2M296.2 279.2h4.6M309.7 279.2h4.8M366.6 279.2h5.9M384.3 279.2h12.6M451.4 279.2h7.6M532.8 279.2h9.2M97.9 284.6h1.2M101.1 284.6h1.2M116.9 284.6h1.2M125.3 284.6h1.2M148.2 284.6h1.7M163 284.6h2M206.9 284.6h2.8M223.7 284.6h3.1M275.4 284.6h4.2M366.6 284.6h5.9M429.9 284.6h7.2M134.5 290.1h1.4M172.4 290.1h2.1M324.1 290.1h5.1M339.2 290.1h5.4M355.3 290.1h5.7M99 295.5h1.2M176.5 295.5h2.2M229.7 295.5h3.3M263.8 295.5h7.8M396.7 295.5h6.5M97.9 301h1.2M100 301h1.2M115.8 301h1.2M126.4 301h1.2M148.2 301h1.7M180.7 301h2.3M220.7 301h3.1M305.1 301h4.7M355.3 301h5.7M444.1 301h7.5M474.2 301h8M82.1 306.4h1.2M123.2 306.4h1.2M148.2 306.4h1.7M151.3 306.4h1.7M245.9 306.4h3.6M300.6 306.4h4.7M309.7 306.4h4.8M429.9 306.4h7.2M88.4 311.9h1.2M119 311.9h1.2M133.3 311.9h1.4M157.8 311.9h1.9M201.7 311.9h5.3M283.5 311.9h4.3M339.2 311.9h5.4M474.2 311.9h8M88.4 317.3h1.2M91.6 317.3h1.2M97.9 317.3h1.2M112.6 317.3h1.2M125.3 317.3h1.2M127.5 317.3h1.3M148.2 317.3h1.7M154.5 317.3h1.8M161.2 317.3h1.9M185 317.3h2.4M275.4 317.3h4.2M309.7 317.3h4.8M360.9 317.3h5.8M141 322.7h1.5M178.6 322.7h2.3M185 322.7h2.4M223.7 322.7h3.1M396.7 322.7h6.5M409.6 322.7h6.8M423 322.7h7M458.9 322.7h7.7M490.2 322.7h8.4M86.3 328.2h1.2M124.2 328.2h1.2M128.6 328.2h1.3M156.1 328.2h1.8M180.7 328.2h2.3M201.7 328.2h2.7M215 328.2h3M226.7 328.2h3.2M245.9 328.2h3.6M436.9 328.2h7.3M154.5 333.6h1.8M180.7 333.6h2.3M239.3 333.6h3.5M314.4 333.6h4.9M396.7 333.6h6.5M429.9 333.6h7.2M108.4 339.1h1.2M141 339.1h2.9M166.7 339.1h2M199.2 339.1h2.7M206.9 339.1h2.8M242.6 339.1h3.5M287.6 339.1h4.4M319.2 339.1h5M349.9 339.1h5.6M384.3 339.1h6.3M524 339.1h9M128.6 344.5h2.4M137 344.5h1.5M174.4 344.5h2.2M199.2 344.5h2.7M226.7 344.5h3.2M80 350h1.2M116.9 350h1.2M123.2 350h1.2M128.6 350h1.3M133.3 350h1.4M149.7 350h1.7M152.9 350h1.8M157.8 350h1.9M166.7 350h2M182.8 350h2.3M324.1 350h10.2M396.7 350h6.5M81.1 355.4h1.2M83.2 355.4h1.2M125.3 355.4h1.2M296.2 355.4h4.6M409.6 355.4h6.8M515.3 355.4h8.9M541.9 355.4h9.4M91.6 360.9h1.2M95.8 360.9h1.2M97.9 360.9h1.2M249.4 360.9h3.7M146.7 366.3h3.2M154.5 366.3h1.8M166.7 366.3h2M185 366.3h2.4M212.3 366.3h2.9M366.6 366.3h5.9M378.3 366.3h6.2M80 371.8h1.2M187.3 371.8h2.4M212.3 371.8h2.9M300.6 371.8h4.7M309.7 371.8h4.8M88.4 377.2h1.2M91.6 377.2h1.2M239.3 377.2h3.5M267.6 377.2h4M279.4 377.2h4.2M334.1 377.2h5.3M349.9 377.2h5.6M384.3 377.2h6.3M156.1 382.6h1.8M199.2 382.6h2.7M223.7 382.6h6.2M239.3 382.6h3.5M287.6 382.6h4.4M309.7 382.6h4.8M344.5 382.6h5.5M390.4 382.6h6.4M451.4 382.6h7.6M120 388.1h1.2M138.3 388.1h1.5M217.9 388.1h3M275.4 388.1h4.2M114.8 393.5h1.2M146.7 393.5h3.2M174.4 393.5h2.2M199.2 393.5h2.7M209.5 393.5h2.9M226.7 393.5h3.2M256.4 393.5h3.8M283.5 393.5h8.6M314.4 393.5h4.9M366.6 393.5h5.9M129.7 399h1.3M132.1 399h1.4M267.6 399h4M283.5 399h4.3M378.3 399h6.2M482.1 399h8.2M83.2 404.4h1.2M86.3 404.4h1.2M135.7 404.4h1.4M172.4 404.4h2.1M182.8 404.4h2.3M189.6 404.4h2.5M229.7 404.4h3.3M283.5 404.4h4.3M416.2 404.4h6.9M482.1 404.4h8.2M116.9 409.9h1.2M149.7 409.9h1.7M245.9 409.9h3.6M263.8 409.9h3.9M305.1 409.9h4.7M436.9 409.9h7.3M83.2 415.3h1.2M99 415.3h1.2M108.4 415.3h1.2M116.9 415.3h1.2M119 415.3h1.2M130.9 415.3h1.3M145.2 415.3h1.6M154.5 415.3h1.8M196.7 415.3h2.6M245.9 415.3h3.6M83.2 420.8h1.2M123.2 420.8h2.3M134.5 420.8h1.4M164.8 420.8h2M194.3 420.8h2.6M229.7 420.8h3.3M252.9 420.8h3.7M305.1 420.8h4.7M366.6 420.8h5.9M429.9 420.8h14.4M474.2 420.8h8M82.1 426.2h1.2M119 426.2h1.2M125.3 426.2h2.3M178.6 426.2h2.3M191.9 426.2h2.5M199.2 426.2h2.7M271.4 426.2h4.1M366.6 426.2h5.9M384.3 426.2h6.3M444.1 426.2h7.5M579.9 426.2h10.1M148.2 431.6h1.7M156.1 431.6h1.8M170.5 431.6h2.1M226.7 431.6h3.2M271.4 431.6h4.1M87.4 437.1h1.2M103.2 437.1h1.2M115.8 437.1h1.2M120 437.1h1.2M125.3 437.1h1.2M134.5 437.1h1.4M159.5 437.1h1.9M201.7 437.1h2.7M249.4 437.1h3.7M403.1 437.1h6.7M125.3 442.5h1.2M148.2 442.5h1.7M182.8 442.5h2.3M232.9 442.5h3.3M372.4 442.5h6.1M97.9 448h1.2M111.6 448h1.2M115.8 448h1.2M126.4 448h1.2M137 448h1.5M145.2 448h1.6M189.6 448h2.5M271.4 448h4.1M329 448h5.2M360.9 448h5.8M372.4 448h6.1M119 453.4h1.2M215 453.4h3M226.7 453.4h3.2M384.3 453.4h6.3M458.9 453.4h7.7M498.4 453.4h8.5M148.2 458.9h1.7M163 458.9h2M220.7 458.9h3.1M232.9 458.9h3.3M245.9 458.9h3.6M279.4 458.9h4.2M305.1 458.9h4.7M396.7 458.9h6.5M112.6 464.3h1.2M121.1 464.3h1.2M128.6 464.3h1.3M148.2 464.3h1.7M163 464.3h2M168.6 464.3h2.1M199.2 464.3h2.7M252.9 464.3h3.7M275.4 464.3h4.2M324.1 464.3h5.1M349.9 464.3h5.6M115.8 469.8h1.2M170.5 469.8h2.1M275.4 469.8h4.2M122.1 475.2h1.2M149.7 475.2h1.7M129.7 480.7h1.3M134.5 480.7h1.4M149.7 480.7h1.7M466.5 480.7h7.9M102.1 486.1h1.2M124.2 486.1h1.2M128.6 486.1h2.4M142.4 486.1h1.6M314.4 486.1h4.9M329 486.1h5.2M349.9 486.1h5.6M498.4 486.1h8.5M111.6 491.5h1.2M130.9 491.5h1.3M166.7 491.5h2M215 491.5h3M220.7 491.5h3.1M232.9 491.5h3.3M245.9 491.5h3.6M279.4 491.5h4.2M305.1 491.5h4.7M143.8 497h1.6M146.7 497h1.6M164.8 497h2M172.4 497h2.1M187.3 497h2.4M220.7 497h3.1M239.3 497h3.5M300.6 497h4.7M416.2 497h6.9M87.4 502.4h1.2M101.1 502.4h1.2M239.3 502.4h3.5M97.9 507.9h1.2M145.2 507.9h1.6M196.7 507.9h2.6M201.7 507.9h2.7M239.3 507.9h3.5M283.5 507.9h4.3M560.5 507.9h9.7"/><path stroke="rgb(146,146,146)" d="M92.6 77.7h1.2M111.6 77.7h1.2M129.7 77.7h1.3M143.8 77.7h1.6M187.3 77.7h2.4M209.5 77.7h2.9M242.6 77.7h3.5M271.4 77.7h4.1M372.4 77.7h6.1M403.1 77.7h6.7M423 77.7h7M474.2 77.7h8M120 83.2h1.2M122.1 83.2h1.2M124.2 83.2h1.2M133.3 83.2h1.4M146.7 83.2h1.6M178.6 83.2h2.3M196.7 83.2h2.6M314.4 83.2h4.9M329 83.2h5.2M349.9 83.2h11.2M366.6 83.2h5.9M100 88.6h1.2M126.4 88.6h2.4M133.3 88.6h1.4M151.3 88.6h1.7M157.8 88.6h1.9M182.8 88.6h2.3M196.7 88.6h2.6M226.7 88.6h3.2M279.4 88.6h4.2M360.9 88.6h5.8M378.3 88.6h6.2M524 88.6h9M116.9 94.1h1.2M120 94.1h1.2M124.2 94.1h2.3M137 94.1h1.5M154.5 94.1h1.8M226.7 94.1h3.2M305.1 94.1h4.7M329 94.1h5.2M86.3 99.5h1.2M108.4 99.5h1.2M130.9 99.5h1.3M134.5 99.5h1.4M170.5 99.5h2.1M194.3 99.5h2.6M252.9 99.5h3.7M384.3 99.5h6.3M86.3 104.9h1.2M152.9 104.9h1.8M252.9 104.9h3.7M260.1 104.9h3.9M271.4 104.9h4.1M300.6 104.9h4.7M309.7 104.9h4.8M101.1 110.4h1.2M121.1 110.4h1.2M151.3 110.4h1.7M196.7 110.4h2.6M226.7 110.4h3.2M236 110.4h3.4M245.9 110.4h3.6M283.5 110.4h4.3M416.2 110.4h6.9M474.2 110.4h8M94.7 115.8h1.2M97.9 115.8h1.2M121.1 115.8h1.2M125.3 115.8h1.2M141 115.8h1.5M206.9 115.8h2.8M212.3 115.8h2.9M239.3 115.8h3.5M245.9 115.8h3.6M271.4 115.8h4.1M384.3 115.8h6.3M458.9 115.8h7.7M498.4 115.8h17.1M157.8 121.3h1.9M166.7 121.3h2M279.4 121.3h4.2M349.9 121.3h5.6M458.9 121.3h7.7M80 126.7h1.2M116.9 126.7h1.2M120 126.7h1.2M125.3 126.7h1.2M137 126.7h1.5M157.8 126.7h1.9M172.4 126.7h2.1M185 126.7h2.4M309.7 126.7h4.8M378.3 126.7h6.2M396.7 126.7h6.5M451.4 126.7h7.6M80 132.2h1.2M115.8 132.2h1.2M121.1 132.2h1.2M126.4 132.2h1.2M149.7 132.2h1.7M152.9 132.2h1.8M170.5 132.2h2.1M176.5 132.2h2.2M212.3 132.2h2.9M239.3 132.2h3.5M249.4 132.2h3.7M283.5 132.2h4.3M314.4 132.2h4.9M83.2 137.6h1.2M121.1 137.6h1.2M201.7 137.6h2.7M209.5 137.6h2.9M220.7 137.6h3.1M232.9 137.6h3.3M263.8 137.6h3.9M366.6 137.6h5.9M444.1 137.6h7.5M458.9 137.6h7.7M116.9 143.1h1.2M122.1 143.1h1.2M349.9 143.1h5.6M451.4 143.1h7.6M532.8 143.1h9.2M102.1 148.5h1.2M116.9 148.5h1.2M119 148.5h1.2M245.9 148.5h3.6M267.6 148.5h4M128.6 154h1.3M143.8 154h1.6M164.8 154h2M199.2 154h2.7M209.5 154h2.9M226.7 154h3.2M249.4 154h3.7M256.4 154h3.8M119 159.4h3.3M148.2 159.4h1.7M156.1 159.4h1.8M161.2 159.4h1.9M170.5 159.4h2.1M220.7 159.4h3.1M256.4 159.4h3.8M300.6 159.4h4.7M115.8 164.8h1.2M120 164.8h1.2M142.4 164.8h1.6M146.7 164.8h1.6M163 164.8h2M182.8 164.8h2.3M187.3 164.8h2.4M204.2 164.8h2.8M252.9 164.8h3.7M378.3 164.8h6.2M396.7 164.8h6.5M152.9 170.3h1.8M156.1 170.3h3.5M260.1 170.3h3.9M334.1 170.3h5.3M551.1 170.3h9.6M101.1 175.7h1.2M127.5 175.7h1.3M138.3 175.7h1.5M145.2 175.7h1.6M212.3 175.7h2.9M314.4 175.7h4.9M92.6 181.2h1.2M103.2 181.2h1.2M112.6 181.2h1.2M141 181.2h1.5M196.7 181.2h2.6M267.6 181.2h4M390.4 181.2h6.4M429.9 181.2h7.2M458.9 181.2h7.7M97.9 186.6h1.2M122.1 186.6h1.2M161.2 186.6h1.9M172.4 186.6h2.1M187.3 186.6h2.4M206.9 186.6h5.5M275.4 186.6h4.2M314.4 186.6h4.9M396.7 186.6h6.5M490.2 186.6h8.4M86.3 192.1h2.3M116.9 192.1h1.2M119 192.1h1.2M154.5 192.1h1.8M204.2 192.1h2.8M220.7 192.1h3.1M252.9 192.1h3.7M444.1 192.1h7.5M81.1 197.5h1.2M87.4 197.5h1.2M120 197.5h1.2M164.8 197.5h2M199.2 197.5h2.7M212.3 197.5h2.9M349.9 197.5h5.6M444.1 197.5h7.5M109.5 203h1.2M133.3 203h1.4M135.7 203h1.4M146.7 203h1.6M152.9 203h1.8M159.5 203h1.9M176.5 203h2.2M201.7 203h2.7M444.1 203h7.5M474.2 203h8M83.2 208.4h1.2M126.4 208.4h1.2M133.3 208.4h1.4M166.7 208.4h2M329 208.4h5.2M339.2 208.4h5.4M355.3 208.4h5.7M366.6 208.4h5.9M384.3 208.4h6.3M474.2 208.4h8M99 213.8h1.2M124.2 213.8h1.2M178.6 213.8h2.3M201.7 213.8h2.7M209.5 213.8h5.6M229.7 213.8h3.3M384.3 213.8h6.3M87.4 219.3h1.2M151.3 219.3h1.7M161.2 219.3h1.9M168.6 219.3h2.1M176.5 219.3h2.2M201.7 219.3h2.7M349.9 219.3h5.6M403.1 219.3h6.7M178.6 224.7h2.3M185 224.7h2.4M83.2 230.2h1.2M123.2 230.2h1.2M125.3 230.2h1.2M204.2 230.2h2.8M223.7 230.2h3.1M245.9 230.2h3.6M260.1 230.2h3.9M267.6 230.2h4M95.8 235.6h1.2M130.9 235.6h1.3M166.7 235.6h2M194.3 235.6h2.6M223.7 235.6h3.1M256.4 235.6h3.8M319.2 235.6h5M390.4 235.6h12.8M490.2 235.6h8.4M103.2 241.1h1.2M141 241.1h1.5M204.2 241.1h2.8M209.5 241.1h2.9M239.3 241.1h10.3M108.4 246.5h1.2M111.6 246.5h1.2M116.9 246.5h1.2M154.5 246.5h1.8M189.6 246.5h2.5M275.4 246.5h8.2M355.3 246.5h5.7M390.4 246.5h6.4M80 252h1.2M157.8 252h1.9M204.2 252h5.4M239.3 252h3.5M263.8 252h3.9M482.1 252h8.2M86.3 257.4h1.2M126.4 257.4h1.2M138.3 257.4h1.5M152.9 257.4h1.8M283.5 257.4h8.6M384.3 257.4h6.3M97.9 262.9h1.2M168.6 262.9h2.1M196.7 262.9h2.6M242.6 262.9h3.5M275.4 262.9h4.2M396.7 262.9h6.5M429.9 262.9h7.2M506.7 262.9h8.7M120 268.3h1.2M135.7 268.3h1.4M148.2 268.3h3.2M157.8 268.3h1.9M206.9 268.3h2.8M403.1 268.3h6.7M172.4 273.7h2.1M223.7 273.7h3.1M384.3 273.7h6.3M474.2 273.7h8M490.2 273.7h8.4M532.8 273.7h9.2M80 279.2h1.2M88.4 279.2h1.2M96.9 279.2h1.2M102.1 279.2h1.2M123.2 279.2h1.2M145.2 279.2h1.6M154.5 279.2h1.8M245.9 279.2h3.6M256.4 279.2h7.5M267.6 279.2h4M83.2 284.6h1.2M129.7 284.6h1.3M135.7 284.6h1.4M145.2 284.6h1.6M157.8 284.6h1.9M178.6 284.6h2.3M256.4 284.6h3.8M305.1 284.6h4.7M355.3 284.6h5.7M390.4 284.6h6.4M133.3 290.1h1.4M166.7 290.1h2M178.6 290.1h2.3M229.7 290.1h3.3M252.9 290.1h3.7M305.1 290.1h4.7M474.2 290.1h8M112.6 295.5h1.2M137 295.5h1.5M154.5 295.5h1.8M226.7 295.5h3.2M245.9 295.5h3.6M305.1 295.5h4.7M314.4 295.5h4.9M99 301h1.2M135.7 301h1.4M138.3 301h1.5M141 301h1.5M161.2 301h1.9M296.2 301h4.6M396.7 301h6.5M142.4 306.4h1.6M174.4 306.4h2.2M185 306.4h2.4M223.7 306.4h3.1M416.2 306.4h6.9M99 311.9h1.2M124.2 311.9h1.2M127.5 311.9h1.3M134.5 311.9h1.4M196.7 311.9h2.6M305.1 311.9h4.7M444.1 311.9h7.5M466.5 311.9h7.9M490.2 311.9h8.4M80 317.3h1.2M83.2 317.3h1.2M87.4 317.3h1.2M108.4 317.3h1.2M130.9 317.3h1.3M143.8 317.3h1.6M152.9 317.3h1.8M159.5 317.3h1.9M168.6 317.3h2.1M267.6 317.3h4M458.9 317.3h7.7M82.1 322.7h1.2M111.6 322.7h1.2M121.1 322.7h1.2M132.1 322.7h1.4M143.8 322.7h1.6M180.7 322.7h2.3M187.3 322.7h2.4M204.2 322.7h2.8M217.9 322.7h3M239.3 322.7h3.5M283.5 322.7h4.3M384.3 322.7h6.3M102.1 328.2h1.2M122.1 328.2h1.2M145.2 328.2h1.6M161.2 328.2h1.9M176.5 328.2h2.2M366.6 328.2h5.9M409.6 328.2h6.8M81.1 333.6h1.2M84.2 333.6h1.2M102.1 333.6h1.2M110.5 333.6h2.3M124.2 333.6h1.2M135.7 333.6h1.4M168.6 333.6h2.1M201.7 333.6h2.7M249.4 333.6h3.7M260.1 333.6h3.9M300.6 333.6h4.7M384.3 333.6h6.3M416.2 333.6h6.9M92.6 339.1h1.2M99 339.1h1.2M119 339.1h1.2M123.2 339.1h1.2M151.3 339.1h1.7M180.7 339.1h2.3M189.6 339.1h2.5M226.7 339.1h3.2M126.4 344.5h1.2M130.9 344.5h1.3M159.5 344.5h1.9M166.7 344.5h2M178.6 344.5h2.3M229.7 344.5h3.3M384.3 344.5h6.3M121.1 350h1.2M138.3 350h1.5M189.6 350h2.5M239.3 350h3.5M390.4 350h6.4M82.1 355.4h1.2M129.7 355.4h1.3M151.3 355.4h1.7M163 355.4h2M166.7 355.4h2M204.2 355.4h2.8M220.7 355.4h6.1M384.3 355.4h6.3M116.9 360.9h1.2M126.4 360.9h1.2M133.3 360.9h1.4M236 360.9h6.7M296.2 360.9h4.6M305.1 360.9h4.7M396.7 360.9h6.5M80 366.3h1.2M119 366.3h1.2M152.9 366.3h1.8M157.8 366.3h1.9M236 366.3h3.4M349.9 366.3h5.6M403.1 366.3h6.7M86.3 371.8h1.2M102.1 371.8h1.2M111.6 371.8h1.2M149.7 371.8h1.7M182.8 371.8h4.6M204.2 371.8h2.8M223.7 371.8h3.1M260.1 371.8h3.9M279.4 371.8h4.2M366.6 371.8h5.9M82.1 377.2h1.2M116.9 377.2h1.2M124.2 377.2h1.2M132.1 377.2h1.4M142.4 377.2h1.6M157.8 377.2h1.9M201.7 377.2h2.7M275.4 377.2h4.2M360.9 377.2h5.8M474.2 377.2h8M135.7 382.6h1.4M142.4 382.6h1.6M152.9 382.6h1.8M229.7 382.6h3.3M245.9 382.6h3.6M81.1 388.1h1.2M87.4 388.1h2.3M91.6 388.1h1.2M97.9 388.1h1.2M123.2 388.1h1.2M128.6 388.1h1.3M146.7 388.1h1.6M212.3 388.1h2.9M314.4 388.1h4.9M349.9 388.1h5.6M95.8 393.5h1.2M115.8 393.5h1.2M152.9 393.5h1.8M429.9 393.5h7.2M466.5 393.5h7.9M81.1 399h1.2M122.1 399h1.2M149.7 399h1.7M156.1 399h1.8M174.4 399h2.2M212.3 399h2.9M141 404.4h1.5M149.7 404.4h1.7M194.3 404.4h2.6M199.2 404.4h2.7M279.4 404.4h4.2M300.6 404.4h4.7M334.1 404.4h5.3M384.3 404.4h6.3M429.9 404.4h7.2M451.4 404.4h7.6M541.9 404.4h9.4M125.3 409.9h1.2M138.3 409.9h1.5M176.5 409.9h2.2M275.4 409.9h4.2M82.1 415.3h1.2M128.6 415.3h1.3M152.9 415.3h1.8M187.3 415.3h2.4M223.7 415.3h3.1M239.3 415.3h3.5M271.4 415.3h4.1M314.4 415.3h4.9M384.3 415.3h6.3M396.7 415.3h13M102.1 420.8h1.2M121.1 420.8h1.2M126.4 420.8h1.2M135.7 420.8h1.4M146.7 420.8h1.6M232.9 420.8h3.3M260.1 420.8h7.6M423 420.8h7M444.1 420.8h7.5M458.9 420.8h7.7M97.9 426.2h2.3M122.1 426.2h2.3M201.7 426.2h5.3M217.9 426.2h3M236 426.2h3.4M296.2 426.2h9.1M97.9 431.6h1.2M116.9 431.6h1.2M201.7 431.6h5.3M458.9 431.6h7.7M81.1 437.1h1.2M114.8 437.1h1.2M154.5 437.1h3.5M174.4 437.1h2.2M191.9 437.1h2.5M283.5 437.1h4.3M360.9 437.1h5.8M409.6 437.1h6.8M532.8 437.1h9.2M80 442.5h1.2M102.1 442.5h1.2M157.8 442.5h1.9M164.8 442.5h2M185 442.5h2.4M319.2 442.5h5M112.6 448h1.2M133.3 448h1.4M148.2 448h1.7M164.8 448h2M187.3 448h2.4M201.7 448h2.7M212.3 448h2.9M252.9 448h3.7M300.6 448h4.7M80 453.4h1.2M103.2 453.4h1.2M123.2 453.4h1.2M142.4 453.4h1.6M163 453.4h2M170.5 453.4h2.1M239.3 453.4h3.5M256.4 453.4h3.8M444.1 453.4h7.5M532.8 453.4h9.2M101.1 458.9h1.2M111.6 458.9h2.3M142.4 458.9h1.6M152.9 458.9h1.8M157.8 458.9h1.9M161.2 458.9h1.9M256.4 458.9h3.8M271.4 458.9h4.1M334.1 458.9h5.3M372.4 458.9h6.1M126.4 464.3h1.2M134.5 464.3h1.4M139.7 464.3h1.5M145.2 464.3h1.6M156.1 464.3h1.8M166.7 464.3h2M194.3 464.3h2.6M239.3 464.3h3.5M305.1 464.3h4.7M436.9 464.3h7.3M458.9 464.3h7.7M81.1 469.8h1.2M119 469.8h1.2M137 469.8h1.5M143.8 469.8h1.6M172.4 469.8h2.1M226.7 469.8h3.2M84.2 475.2h1.2M115.8 475.2h1.2M135.7 475.2h1.4M143.8 475.2h1.6M172.4 475.2h2.1M229.7 475.2h3.3M252.9 475.2h3.7M283.5 475.2h4.3M314.4 475.2h4.9M344.5 475.2h5.5M355.3 475.2h5.7M409.6 475.2h6.8M112.6 480.7h1.2M116.9 480.7h1.2M178.6 480.7h2.3M201.7 480.7h2.7M226.7 480.7h3.2M245.9 480.7h3.6M252.9 480.7h3.7M275.4 480.7h4.2M403.1 480.7h6.7M88.4 486.1h1.2M112.6 486.1h1.2M120 486.1h1.2M130.9 486.1h1.3M145.2 486.1h1.6M189.6 486.1h2.5M287.6 486.1h4.4M396.7 486.1h6.5M429.9 486.1h7.2M123.2 491.5h1.2M127.5 491.5h1.3M148.2 491.5h1.7M156.1 491.5h1.8M164.8 491.5h2M309.7 491.5h4.8M409.6 491.5h6.8M444.1 491.5h7.5M92.6 497h1.2M112.6 497h1.2M116.9 497h1.2M137 497h1.5M139.7 497h1.5M161.2 497h1.9M178.6 497h2.3M199.2 497h2.7M252.9 497h3.7M324.1 497h5.1M396.7 497h6.5M86.3 502.4h1.2M121.1 502.4h1.2M148.2 502.4h1.7M151.3 502.4h1.7M156.1 502.4h1.8M215 502.4h3M100 507.9h1.2M126.4 507.9h1.2M132.1 507.9h1.4M166.7 507.9h2M229.7 507.9h3.3M579.9 507.9h10.1"/><path stroke="rgb(153,153,153)" d="M80 77.7h1.2M120 77.7h1.2M174.4 77.7h2.2M189.6 77.7h2.5M199.2 77.7h2.7M319.2 77.7h5M436.9 77.7h7.3M126.4 83.2h1.2M194.3 83.2h2.6M275.4 83.2h4.2M300.6 83.2h4.7M334.1 83.2h5.3M436.9 83.2h7.3M88.4 88.6h1.2M101.1 88.6h1.2M256.4 88.6h3.8M283.5 88.6h4.3M305.1 88.6h4.7M390.4 88.6h6.4M474.2 88.6h16.1M560.5 88.6h9.7M80 94.1h1.2M86.3 94.1h1.2M128.6 94.1h1.3M135.7 94.1h1.4M151.3 94.1h1.7M164.8 94.1h2M180.7 94.1h2.3M209.5 94.1h2.9M236 94.1h3.4M242.6 94.1h7M256.4 94.1h3.8M344.5 94.1h5.5M466.5 94.1h7.9M87.4 99.5h1.2M119 99.5h1.2M127.5 99.5h1.3M206.9 99.5h2.8M229.7 99.5h3.3M236 99.5h3.4M256.4 99.5h3.8M334.1 99.5h5.3M349.9 99.5h5.6M451.4 99.5h7.6M82.1 104.9h1.2M102.1 104.9h1.2M111.6 104.9h1.2M119 104.9h1.2M123.2 104.9h1.2M132.1 104.9h1.4M226.7 104.9h6.3M267.6 104.9h4M275.4 104.9h4.2M314.4 104.9h4.9M396.7 104.9h6.5M124.2 110.4h1.2M132.1 110.4h1.4M143.8 110.4h1.6M182.8 110.4h2.3M296.2 110.4h4.6M360.9 110.4h5.8M81.1 115.8h1.2M135.7 115.8h1.4M157.8 115.8h1.9M166.7 115.8h2M287.6 115.8h4.4M344.5 115.8h5.5M360.9 115.8h5.8M152.9 121.3h1.8M164.8 121.3h2M271.4 121.3h4.1M83.2 126.7h1.2M132.1 126.7h1.4M176.5 126.7h2.2M180.7 126.7h2.3M191.9 126.7h2.5M196.7 126.7h2.6M217.9 126.7h3M339.2 126.7h5.4M360.9 126.7h5.8M81.1 132.2h1.2M174.4 132.2h2.2M191.9 132.2h2.5M260.1 132.2h3.9M271.4 132.2h4.1M279.4 132.2h4.2M92.6 137.6h1.2M101.1 137.6h1.2M112.6 137.6h1.2M126.4 137.6h1.2M130.9 137.6h1.3M141 137.6h1.5M143.8 137.6h1.6M157.8 137.6h1.9M217.9 137.6h3M256.4 137.6h3.8M314.4 137.6h4.9M126.4 143.1h1.2M154.5 143.1h1.8M168.6 143.1h2.1M191.9 143.1h7.4M239.3 143.1h3.5M267.6 143.1h4M396.7 143.1h6.5M108.4 148.5h1.2M152.9 148.5h3.4M180.7 148.5h2.3M223.7 148.5h3.1M87.4 154h1.2M102.1 154h1.2M112.6 154h1.2M126.4 154h1.2M185 154h2.4M232.9 154h3.3M344.5 154h5.5M490.2 154h8.4M112.6 159.4h1.2M137 159.4h1.5M139.7 159.4h1.5M152.9 159.4h1.8M215 159.4h3M229.7 159.4h3.3M589.8 159.4h11.3M116.9 164.8h1.2M119 164.8h1.2M154.5 164.8h3.5M196.7 164.8h2.6M239.3 164.8h3.5M279.4 164.8h4.2M148.2 170.3h1.7M170.5 170.3h2.1M187.3 170.3h2.4M279.4 170.3h4.2M416.2 170.3h6.9M498.4 170.3h17.1M88.4 175.7h1.2M134.5 175.7h1.4M206.9 175.7h2.8M260.1 175.7h3.9M296.2 175.7h4.6M334.1 175.7h5.3M366.6 175.7h5.9M390.4 175.7h6.4M170.5 181.2h2.1M279.4 181.2h4.2M423 181.2h7M103.2 186.6h1.2M111.6 186.6h1.2M159.5 186.6h1.9M164.8 186.6h2M185 186.6h2.4M296.2 186.6h4.6M451.4 186.6h7.6M466.5 186.6h7.9M81.1 192.1h1.2M112.6 192.1h1.2M115.8 192.1h1.2M123.2 192.1h1.2M132.1 192.1h1.4M135.7 192.1h1.4M146.7 192.1h1.6M242.6 192.1h3.5M287.6 192.1h4.4M378.3 192.1h6.2M80 197.5h1.2M122.1 197.5h2.3M133.3 197.5h1.4M135.7 197.5h1.4M151.3 197.5h1.7M436.9 197.5h7.3M82.1 203h1.2M115.8 203h1.2M128.6 203h1.3M199.2 203h2.7M263.8 203h3.9M334.1 203h5.3M127.5 208.4h1.3M187.3 208.4h2.4M194.3 208.4h2.6M239.3 208.4h3.5M260.1 208.4h3.9M334.1 208.4h5.3M108.4 213.8h1.2M119 213.8h1.2M125.3 213.8h1.2M128.6 213.8h1.3M134.5 213.8h1.4M142.4 213.8h3M151.3 213.8h1.7M156.1 213.8h1.8M174.4 213.8h2.2M185 213.8h2.4M191.9 213.8h2.5M236 213.8h3.4M91.6 219.3h1.2M170.5 219.3h2.1M279.4 219.3h4.2M81.1 224.7h1.2M139.7 224.7h1.5M164.8 224.7h2M236 224.7h3.4M256.4 224.7h3.8M296.2 224.7h4.6M372.4 224.7h6.1M116.9 230.2h1.2M121.1 230.2h1.2M126.4 230.2h2.4M132.1 230.2h1.4M180.7 230.2h4.5M239.3 230.2h3.5M271.4 230.2h4.1M283.5 230.2h4.3M305.1 230.2h4.7M319.2 230.2h5M82.1 235.6h1.2M143.8 235.6h1.6M178.6 235.6h2.3M217.9 235.6h3M232.9 235.6h3.3M239.3 235.6h3.5M245.9 235.6h3.6M409.6 235.6h6.8M100 241.1h1.2M199.2 241.1h2.7M223.7 241.1h3.1M279.4 241.1h4.2M429.9 241.1h7.2M444.1 241.1h7.5M82.1 246.5h1.2M112.6 246.5h1.2M135.7 246.5h1.4M141 246.5h1.5M143.8 246.5h1.6M236 246.5h3.4M271.4 246.5h4.1M366.6 246.5h11.9M409.6 246.5h6.8M81.1 252h2.3M88.4 252h1.2M129.7 252h1.3M148.2 252h1.7M176.5 252h2.2M223.7 252h3.1M260.1 252h3.9M271.4 252h4.1M279.4 252h4.2M142.4 257.4h1.6M236 257.4h3.4M87.4 262.9h1.2M100 262.9h1.2M128.6 262.9h1.3M145.2 262.9h1.6M180.7 262.9h2.3M252.9 262.9h3.7M314.4 262.9h4.9M366.6 262.9h5.9M108.4 268.3h1.2M110.5 268.3h1.2M115.8 268.3h1.2M242.6 268.3h3.5M252.9 268.3h11.1M275.4 268.3h4.2M83.2 273.7h1.2M121.1 273.7h1.2M156.1 273.7h1.8M263.8 273.7h7.8M283.5 273.7h4.3M296.2 273.7h4.6M349.9 273.7h5.6M423 273.7h7M124.2 279.2h1.2M180.7 279.2h2.3M196.7 279.2h2.6M223.7 279.2h3.1M319.2 279.2h10M137 284.6h1.5M215 284.6h3M287.6 284.6h4.4M120 290.1h1.2M129.7 290.1h1.3M135.7 290.1h1.4M143.8 290.1h1.6M256.4 290.1h3.8M263.8 290.1h3.9M349.9 290.1h5.6M498.4 290.1h8.5M81.1 295.5h1.2M143.8 295.5h1.6M194.3 295.5h2.6M206.9 295.5h2.8M239.3 295.5h3.5M355.3 295.5h5.7M409.6 295.5h6.8M579.9 295.5h10.1M82.1 301h1.2M103.2 301h1.2M108.4 301h1.2M127.5 301h1.3M142.4 301h1.6M149.7 301h1.7M159.5 301h1.9M194.3 301h2.6M239.3 301h3.5M252.9 301h3.7M256.4 306.4h3.8M287.6 306.4h4.4M378.3 306.4h6.2M125.3 311.9h1.2M229.7 311.9h3.3M252.9 311.9h3.7M271.4 311.9h4.1M287.6 311.9h4.4M416.2 311.9h13.8M102.1 317.3h1.2M151.3 317.3h1.7M163 317.3h2M209.5 317.3h2.9M263.8 317.3h3.9M80 322.7h1.2M120 322.7h1.2M127.5 322.7h1.3M146.7 322.7h1.6M151.3 322.7h1.7M172.4 322.7h2.1M182.8 322.7h2.3M245.9 322.7h3.6M329 322.7h5.2M366.6 322.7h5.9M378.3 322.7h6.2M142.4 328.2h1.6M267.6 328.2h4M309.7 328.2h4.8M378.3 328.2h6.2M444.1 328.2h7.5M97.9 333.6h1.2M115.8 333.6h1.2M126.4 333.6h1.2M149.7 333.6h1.7M185 333.6h2.4M215 333.6h3M305.1 333.6h4.7M403.1 333.6h6.7M114.8 339.1h1.2M124.2 339.1h1.2M132.1 339.1h1.4M146.7 339.1h1.6M168.6 339.1h2.1M178.6 339.1h2.3M249.4 339.1h3.7M309.7 339.1h4.8M444.1 339.1h7.5M102.1 344.5h1.2M116.9 344.5h1.2M119 344.5h1.2M148.2 344.5h3.2M185 344.5h2.4M249.4 344.5h7.2M271.4 344.5h4.1M100 350h1.2M132.1 350h1.4M275.4 350h4.2M384.3 350h6.3M135.7 355.4h1.4M142.4 355.4h1.6M249.4 355.4h3.7M263.8 355.4h3.9M466.5 355.4h7.9M121.1 360.9h1.2M135.7 360.9h1.4M196.7 360.9h2.6M283.5 360.9h4.3M324.1 360.9h5.1M416.2 360.9h6.9M436.9 360.9h7.3M116.9 366.3h1.2M201.7 366.3h2.7M239.3 366.3h3.5M275.4 366.3h8.2M344.5 366.3h5.5M474.2 366.3h8M151.3 371.8h1.7M199.2 371.8h2.7M220.7 371.8h3.1M115.8 377.2h1.2M121.1 377.2h1.2M127.5 377.2h1.3M223.7 377.2h3.1M229.7 377.2h3.3M263.8 377.2h3.9M271.4 377.2h4.1M436.9 377.2h7.3M551.1 377.2h9.6M83.2 382.6h1.2M87.4 382.6h1.2M124.2 382.6h1.2M178.6 382.6h2.3M204.2 382.6h2.8M305.1 382.6h4.7M372.4 382.6h6.1M80 388.1h1.2M103.2 388.1h1.2M154.5 388.1h1.8M201.7 388.1h2.7M287.6 388.1h4.4M300.6 388.1h4.7M384.3 388.1h6.3M100 393.5h1.2M127.5 393.5h1.3M232.9 393.5h3.3M271.4 393.5h4.1M97.9 399h1.2M125.3 399h1.2M168.6 399h2.1M199.2 399h2.7M223.7 399h3.1M305.1 399h4.7M474.2 399h8M541.9 399h9.4M80 404.4h1.2M127.5 404.4h1.3M134.5 404.4h1.4M146.7 404.4h1.6M151.3 404.4h1.7M154.5 404.4h1.8M267.6 404.4h4M275.4 404.4h4.2M355.3 404.4h5.7M88.4 409.9h1.2M146.7 409.9h1.6M189.6 409.9h2.5M206.9 409.9h2.8M279.4 409.9h4.2M482.1 409.9h8.2M163 415.3h2M178.6 415.3h2.3M229.7 415.3h3.3M256.4 415.3h3.8M263.8 415.3h3.9M309.7 415.3h4.8M355.3 415.3h5.7M466.5 415.3h7.9M100 420.8h1.2M130.9 420.8h1.3M176.5 420.8h4.3M196.7 420.8h2.6M245.9 420.8h3.6M329 420.8h5.2M403.1 420.8h6.7M128.6 426.2h2.4M161.2 426.2h1.9M176.5 426.2h2.2M232.9 426.2h3.3M423 426.2h7M127.5 431.6h1.3M146.7 431.6h1.6M215 431.6h3M229.7 431.6h3.3M239.3 431.6h3.5M267.6 431.6h4M279.4 431.6h4.2M305.1 431.6h4.7M319.2 431.6h5M344.5 431.6h5.5M366.6 431.6h5.9M384.3 431.6h6.3M80 437.1h1.2M124.2 437.1h1.2M151.3 437.1h1.7M182.8 437.1h2.3M242.6 437.1h3.5M300.6 437.1h4.7M474.2 437.1h8M83.2 442.5h1.2M112.6 442.5h1.2M120 442.5h1.2M123.2 442.5h1.2M130.9 442.5h1.3M133.3 442.5h1.4M145.2 442.5h1.6M159.5 442.5h1.9M166.7 442.5h2M170.5 442.5h2.1M178.6 442.5h2.3M189.6 442.5h2.5M226.7 442.5h3.2M124.2 448h1.2M129.7 448h2.5M217.9 448h3M232.9 448h3.3M245.9 448h3.6M309.7 448h4.8M403.1 448h6.7M429.9 448h7.2M87.4 453.4h1.2M102.1 453.4h1.2M126.4 453.4h2.4M199.2 453.4h2.7M223.7 453.4h3.1M245.9 453.4h3.6M263.8 453.4h3.9M279.4 453.4h4.2M100 458.9h1.2M102.1 458.9h1.2M125.3 458.9h1.2M127.5 458.9h1.3M141 458.9h1.5M164.8 458.9h3.9M176.5 458.9h2.2M209.5 458.9h2.9M217.9 458.9h3M249.4 458.9h3.7M451.4 458.9h7.6M474.2 458.9h8M81.1 464.3h1.2M100 464.3h1.2M119 464.3h1.2M137 464.3h1.5M146.7 464.3h1.6M172.4 464.3h4.2M396.7 464.3h6.5M83.2 469.8h1.2M112.6 469.8h1.2M135.7 469.8h1.4M149.7 469.8h1.7M164.8 469.8h2M194.3 469.8h2.6M267.6 469.8h7.9M300.6 469.8h4.7M329 469.8h5.2M355.3 469.8h5.7M423 469.8h7M103.2 475.2h1.2M119 475.2h1.2M141 475.2h2.9M145.2 475.2h3.1M182.8 475.2h2.3M196.7 475.2h2.6M232.9 475.2h3.3M403.1 475.2h6.7M209.5 480.7h2.9M263.8 480.7h3.9M444.1 480.7h7.5M100 486.1h1.2M132.1 486.1h2.6M146.7 486.1h1.6M176.5 486.1h2.2M229.7 486.1h3.3M263.8 486.1h3.9M300.6 486.1h4.7M309.7 486.1h4.8M416.2 486.1h6.9M92.6 491.5h1.2M128.6 491.5h2.4M151.3 491.5h1.7M170.5 491.5h2.1M217.9 491.5h3M102.1 497h1.2M108.4 497h1.2M127.5 497h1.3M135.7 497h1.4M152.9 497h1.8M185 497h2.4M206.9 497h2.8M100 502.4h1.2M112.6 502.4h1.2M141 502.4h1.5M172.4 502.4h2.1M180.7 502.4h2.3M275.4 502.4h4.2M296.2 502.4h4.6M305.1 502.4h4.7M329 502.4h5.2M83.2 507.9h1.2M146.7 507.9h1.6M199.2 507.9h2.7M271.4 507.9h4.1M296.2 507.9h4.6M396.7 507.9h6.5M409.6 507.9h6.8"/><path stroke="rgb(160,160,160)" d="M119 83.2h1.2M135.7 83.2h1.4M161.2 83.2h5.6M191.9 83.2h2.5M204.2 83.2h2.8M287.6 83.2h4.4M309.7 83.2h4.8M80 88.6h1.2M149.7 88.6h1.7M403.1 88.6h6.7M138.3 94.1h1.5M189.6 94.1h2.5M314.4 94.1h4.9M366.6 94.1h5.9M80 99.5h1.2M96.9 99.5h1.2M124.2 99.5h1.2M135.7 99.5h1.4M159.5 99.5h1.9M189.6 99.5h2.5M201.7 99.5h2.7M220.7 99.5h3.1M372.4 99.5h6.1M416.2 99.5h6.9M83.2 104.9h1.2M143.8 104.9h4.5M189.6 104.9h2.5M196.7 104.9h2.6M279.4 104.9h4.2M344.5 104.9h5.5M83.2 110.4h1.2M129.7 110.4h1.3M164.8 110.4h2M242.6 110.4h3.5M263.8 110.4h3.9M275.4 110.4h4.2M324.1 110.4h5.1M334.1 110.4h5.3M82.1 115.8h1.2M126.4 115.8h1.2M151.3 115.8h1.7M187.3 115.8h2.4M201.7 115.8h2.7M283.5 115.8h4.3M309.7 115.8h4.8M81.1 121.3h2.3M92.6 121.3h1.2M125.3 121.3h1.2M132.1 121.3h1.4M151.3 121.3h1.7M474.2 121.3h8M81.1 126.7h1.2M142.4 126.7h1.6M152.9 126.7h1.8M166.7 126.7h2M242.6 126.7h3.5M256.4 126.7h7.5M263.8 132.2h7.8M116.9 137.6h1.2M145.2 137.6h1.6M182.8 137.6h2.3M199.2 137.6h2.7M206.9 137.6h2.8M223.7 137.6h3.1M229.7 137.6h3.3M287.6 137.6h4.4M305.1 137.6h4.7M360.9 137.6h5.8M490.2 137.6h8.4M80 143.1h2.3M119 143.1h1.2M199.2 143.1h2.7M226.7 143.1h3.2M242.6 143.1h3.5M256.4 143.1h3.8M271.4 143.1h4.1M360.9 143.1h5.8M126.4 148.5h1.2M128.6 148.5h1.3M146.7 148.5h1.6M164.8 148.5h2M185 148.5h2.4M360.9 148.5h5.8M81.1 154h1.2M91.6 154h1.2M124.2 154h1.2M139.7 154h1.5M149.7 154h1.7M159.5 154h3.7M166.7 154h2M189.6 154h2.5M215 154h3M279.4 154h4.2M372.4 154h6.1M423 154h7M123.2 159.4h1.2M127.5 159.4h1.3M143.8 159.4h1.6M187.3 159.4h2.4M196.7 159.4h2.6M236 159.4h3.4M242.6 159.4h3.5M83.2 164.8h1.2M124.2 164.8h1.2M157.8 164.8h1.9M229.7 164.8h3.3M349.9 164.8h5.6M372.4 164.8h6.1M82.1 170.3h1.2M99 170.3h1.2M122.1 170.3h1.2M130.9 170.3h1.3M201.7 170.3h2.7M249.4 170.3h3.7M267.6 170.3h7.9M81.1 175.7h1.2M123.2 175.7h1.2M135.7 175.7h1.4M242.6 175.7h3.5M81.1 181.2h1.2M100 181.2h1.2M125.3 181.2h1.2M145.2 181.2h1.6M148.2 181.2h1.7M166.7 181.2h2M174.4 181.2h2.2M215 181.2h3M242.6 181.2h10.5M344.5 181.2h5.5M396.7 181.2h6.5M81.1 186.6h1.2M108.4 186.6h1.2M123.2 186.6h1.2M133.3 186.6h1.4M168.6 186.6h2.1M174.4 186.6h2.2M249.4 186.6h3.7M283.5 186.6h4.3M97.9 192.1h1.2M128.6 192.1h1.3M152.9 192.1h1.8M215 192.1h3M249.4 192.1h3.7M267.6 192.1h7.9M324.1 192.1h5.1M372.4 192.1h6.1M111.6 197.5h2.3M116.9 197.5h1.2M127.5 197.5h1.3M159.5 197.5h1.9M170.5 197.5h2.1M201.7 197.5h2.7M209.5 197.5h2.9M223.7 197.5h3.1M309.7 197.5h4.8M429.9 197.5h7.2M148.2 203h1.7M156.1 203h1.8M166.7 203h2M191.9 203h2.5M256.4 203h3.8M296.2 203h4.6M436.9 203h7.3M81.1 208.4h1.2M128.6 208.4h1.3M252.9 208.4h3.7M296.2 208.4h4.6M372.4 208.4h6.1M403.1 208.4h6.7M121.1 213.8h1.2M133.3 213.8h1.4M138.3 213.8h1.5M157.8 213.8h1.9M215 213.8h3M305.1 213.8h4.7M409.6 213.8h6.8M83.2 219.3h1.2M212.3 219.3h2.9M287.6 219.3h4.4M309.7 219.3h4.8M423 219.3h7M83.2 224.7h1.2M88.4 224.7h1.2M121.1 224.7h1.2M135.7 224.7h1.4M145.2 224.7h1.6M152.9 224.7h1.8M156.1 224.7h3.5M180.7 224.7h2.3M275.4 224.7h4.2M305.1 224.7h9.4M360.9 224.7h5.8M91.6 230.2h1.2M129.7 230.2h1.3M185 230.2h2.4M189.6 230.2h2.5M236 230.2h3.4M249.4 230.2h3.7M314.4 230.2h4.9M138.3 235.6h1.5M141 235.6h1.5M156.1 235.6h1.8M176.5 235.6h2.2M215 235.6h3M279.4 235.6h8.4M99 241.1h1.2M143.8 241.1h1.6M178.6 241.1h2.3M236 241.1h3.4M263.8 241.1h3.9M300.6 241.1h4.7M349.9 241.1h5.6M100 246.5h1.2M103.2 246.5h1.2M115.8 246.5h1.2M157.8 246.5h1.9M163 246.5h2M209.5 246.5h2.9M220.7 246.5h3.1M226.7 246.5h3.2M263.8 246.5h3.9M309.7 246.5h4.8M466.5 246.5h7.9M143.8 252h1.6M185 252h2.4M215 252h3M267.6 252h4M319.2 252h5M329 252h5.2M87.4 257.4h1.2M176.5 257.4h2.2M245.9 257.4h3.6M256.4 257.4h3.8M403.1 257.4h13.3M444.1 257.4h7.5M101.1 262.9h1.2M126.4 262.9h2.4M156.1 262.9h1.8M159.5 262.9h1.9M178.6 262.9h2.3M182.8 262.9h2.3M194.3 262.9h2.6M199.2 262.9h2.7M217.9 262.9h3M239.3 262.9h3.5M300.6 262.9h4.7M137 268.3h1.5M366.6 268.3h5.9M101.1 273.7h1.2M120 273.7h1.2M168.6 273.7h2.1M103.2 279.2h1.2M122.1 279.2h1.2M139.7 279.2h2.9M159.5 279.2h1.9M163 279.2h2M275.4 279.2h4.2M92.6 284.6h1.2M124.2 284.6h1.2M151.3 284.6h3.3M182.8 284.6h2.3M204.2 284.6h2.8M229.7 284.6h3.3M249.4 284.6h3.7M92.6 290.1h1.2M102.1 290.1h1.2M126.4 290.1h1.2M204.2 290.1h2.8M249.4 290.1h3.7M138.3 295.5h2.8M159.5 295.5h1.9M252.9 295.5h3.7M101.1 301h1.2M121.1 301h1.2M170.5 301h2.1M196.7 301h2.6M249.4 301h3.7M256.4 301h3.8M324.1 301h5.1M360.9 301h5.8M121.1 306.4h1.2M126.4 306.4h2.4M194.3 306.4h2.6M252.9 306.4h3.7M263.8 306.4h3.9M482.1 306.4h8.2M103.2 311.9h1.2M120 311.9h1.2M137 311.9h1.5M148.2 311.9h1.7M164.8 311.9h2M182.8 311.9h2.3M187.3 311.9h2.4M260.1 311.9h3.9M378.3 311.9h12.3M101.1 317.3h1.2M128.6 317.3h1.3M176.5 317.3h4.3M196.7 317.3h2.6M204.2 317.3h2.8M223.7 317.3h3.1M319.2 317.3h5M97.9 322.7h1.2M100 322.7h1.2M122.1 322.7h1.2M139.7 322.7h1.5M267.6 322.7h4M349.9 322.7h5.6M134.5 328.2h1.4M146.7 328.2h1.6M239.3 328.2h3.5M256.4 328.2h3.8M271.4 328.2h8.1M329 328.2h10.4M82.1 333.6h1.2M163 333.6h3.8M178.6 333.6h2.3M182.8 333.6h2.3M194.3 333.6h2.6M283.5 333.6h4.3M309.7 333.6h4.8M490.2 333.6h8.4M87.4 339.1h1.2M128.6 339.1h1.3M152.9 339.1h1.8M176.5 339.1h2.2M182.8 339.1h2.3M187.3 339.1h2.4M217.9 339.1h3M229.7 339.1h3.3M252.9 339.1h3.7M271.4 339.1h8.1M334.1 339.1h5.3M82.1 344.5h1.2M87.4 344.5h1.2M121.1 344.5h1.2M145.2 344.5h1.6M239.3 344.5h10.3M324.1 344.5h5.1M396.7 344.5h6.5M111.6 350h1.2M145.2 350h1.6M159.5 350h1.9M199.2 350h2.7M217.9 350h3M229.7 350h3.3M319.2 350h5M416.2 350h6.9M102.1 355.4h1.2M124.2 355.4h1.2M127.5 355.4h1.3M146.7 355.4h1.6M159.5 355.4h1.9M232.9 355.4h3.3M239.3 355.4h3.5M252.9 355.4h3.7M275.4 355.4h4.2M334.1 355.4h5.3M349.9 355.4h5.6M102.1 360.9h1.2M120 360.9h1.2M137 360.9h1.5M157.8 360.9h1.9M172.4 360.9h2.1M191.9 360.9h2.5M201.7 360.9h2.7M256.4 360.9h3.8M458.9 360.9h7.7M143.8 366.3h1.6M156.1 366.3h1.8M191.9 366.3h2.5M252.9 366.3h3.7M260.1 366.3h3.9M271.4 366.3h4.1M300.6 366.3h4.7M115.8 371.8h1.2M125.3 371.8h1.2M141 371.8h1.5M161.2 371.8h3.7M166.7 371.8h2M206.9 371.8h2.8M360.9 371.8h5.8M80 377.2h1.2M128.6 377.2h1.3M164.8 377.2h2M176.5 377.2h2.2M194.3 377.2h2.6M236 377.2h3.4M242.6 377.2h3.5M256.4 377.2h3.8M300.6 377.2h4.7M314.4 377.2h4.9M329 377.2h5.2M444.1 377.2h7.5M141 382.6h1.5M206.9 382.6h2.8M275.4 382.6h4.2M83.2 388.1h1.2M156.1 388.1h1.8M182.8 388.1h2.3M209.5 388.1h2.9M271.4 388.1h4.1M329 388.1h5.2M366.6 388.1h5.9M82.1 393.5h2.3M87.4 393.5h1.2M99 393.5h1.2M143.8 393.5h1.6M252.9 393.5h3.7M324.1 393.5h5.1M372.4 393.5h6.1M436.9 393.5h7.3M91.6 399h1.2M127.5 399h1.3M134.5 399h1.4M138.3 399h1.5M159.5 399h1.9M287.6 399h4.4M403.1 399h6.7M102.1 404.4h1.2M119 404.4h1.2M128.6 404.4h1.3M132.1 404.4h1.4M220.7 404.4h3.1M252.9 404.4h3.7M263.8 404.4h3.9M121.1 409.9h1.2M126.4 409.9h1.2M139.7 409.9h1.5M168.6 409.9h2.1M180.7 409.9h4.5M194.3 409.9h2.6M423 409.9h7M490.2 409.9h8.4M125.3 415.3h1.2M143.8 415.3h1.6M166.7 415.3h2M296.2 415.3h4.6M329 415.3h5.2M436.9 415.3h7.3M451.4 415.3h7.6M101.1 420.8h1.2M133.3 420.8h1.4M145.2 420.8h1.6M191.9 420.8h2.5M256.4 420.8h3.8M570.1 420.8h9.9M80 426.2h1.2M145.2 426.2h1.6M159.5 426.2h1.9M164.8 426.2h2M187.3 426.2h4.8M260.1 426.2h3.9M101.1 431.6h1.2M120 431.6h1.2M122.1 431.6h1.2M124.2 431.6h1.2M334.1 431.6h5.3M111.6 437.1h1.2M133.3 437.1h1.4M141 437.1h1.5M149.7 437.1h1.7M178.6 437.1h2.3M185 437.1h2.4M212.3 437.1h2.9M260.1 437.1h3.9M490.2 437.1h8.4M115.8 442.5h1.2M163 442.5h2M245.9 442.5h3.6M349.9 442.5h5.6M103.2 448h1.2M122.1 448h1.2M134.5 448h2.7M384.3 448h6.3M81.1 453.4h1.2M166.7 453.4h2M275.4 453.4h4.2M366.6 453.4h5.9M506.7 453.4h8.7M80 458.9h1.2M128.6 458.9h1.3M130.9 458.9h1.3M133.3 458.9h1.4M174.4 458.9h2.2M215 458.9h3M239.3 458.9h3.5M267.6 458.9h4M83.2 464.3h1.2M141 464.3h1.5M157.8 464.3h1.9M232.9 464.3h3.3M260.1 464.3h3.9M86.3 469.8h1.2M154.5 469.8h1.8M180.7 469.8h2.3M451.4 469.8h7.6M100 475.2h1.2M116.9 475.2h1.2M124.2 475.2h1.2M129.7 475.2h1.3M164.8 475.2h2M223.7 475.2h3.1M339.2 475.2h5.4M81.1 480.7h1.2M100 480.7h1.2M115.8 480.7h1.2M128.6 480.7h1.3M151.3 480.7h1.7M163 480.7h2M196.7 480.7h2.6M204.2 480.7h2.8M355.3 480.7h5.7M482.1 480.7h8.2M81.1 486.1h2.3M116.9 486.1h1.2M170.5 486.1h2.1M252.9 486.1h3.7M82.1 491.5h2.3M120 491.5h1.2M187.3 491.5h2.4M242.6 491.5h3.5M271.4 491.5h8.1M339.2 491.5h5.4M390.4 491.5h6.4M123.2 497h1.2M125.3 497h1.2M151.3 497h1.7M166.7 497h2M226.7 497h3.2M260.1 497h3.9M390.4 497h6.4M83.2 502.4h1.2M119 502.4h1.2M135.7 502.4h1.4M157.8 502.4h1.9M220.7 502.4h3.1M232.9 502.4h3.3M263.8 502.4h3.9M82.1 507.9h1.2M101.1 507.9h1.2M123.2 507.9h1.2M125.3 507.9h1.2M142.4 507.9h1.6M154.5 507.9h1.8M161.2 507.9h1.9M279.4 507.9h4.2M300.6 507.9h4.7M319.2 507.9h5"/><path stroke="rgb(167,167,167)" d="M82.1 77.7h1.2M135.7 77.7h1.4M159.5 77.7h1.9M245.9 77.7h3.6M498.4 77.7h8.5M82.1 83.2h2.3M97.9 83.2h1.2M143.8 83.2h1.6M148.2 83.2h1.7M206.9 83.2h2.8M252.9 83.2h3.7M263.8 83.2h7.8M482.1 83.2h8.2M83.2 88.6h1.2M134.5 88.6h1.4M137 88.6h1.5M239.3 88.6h3.5M249.4 88.6h3.7M466.5 88.6h7.9M108.4 94.1h1.2M121.1 94.1h1.2M133.3 94.1h1.4M172.4 94.1h4.2M201.7 94.1h2.7M252.9 94.1h3.7M287.6 94.1h4.4M103.2 99.5h1.2M196.7 99.5h2.6M378.3 99.5h6.2M124.2 104.9h1.2M138.3 104.9h1.5M149.7 104.9h1.7M154.5 104.9h1.8M157.8 104.9h1.9M166.7 104.9h2M204.2 104.9h2.8M82.1 110.4h1.2M92.6 110.4h1.2M100 110.4h1.2M156.1 110.4h1.8M161.2 110.4h1.9M172.4 110.4h2.1M189.6 110.4h2.5M279.4 110.4h4.2M133.3 115.8h1.4M164.8 115.8h2M279.4 115.8h4.2M123.2 121.3h1.2M148.2 121.3h1.7M189.6 121.3h2.5M215 121.3h3M283.5 121.3h4.3M300.6 121.3h4.7M82.1 126.7h1.2M108.4 126.7h1.2M123.2 126.7h1.2M129.7 126.7h1.3M135.7 126.7h1.4M168.6 126.7h2.1M252.9 126.7h3.7M263.8 126.7h3.9M271.4 126.7h4.1M498.4 126.7h8.5M119 132.2h1.2M143.8 132.2h1.6M164.8 132.2h2M229.7 132.2h3.3M245.9 132.2h3.6M275.4 132.2h4.2M287.6 132.2h4.4M344.5 132.2h5.5M80 137.6h1.2M86.3 137.6h1.2M124.2 137.6h1.2M242.6 137.6h3.5M267.6 137.6h7.9M372.4 137.6h6.1M120 143.1h2.3M182.8 143.1h2.3M187.3 143.1h2.4M252.9 143.1h3.7M260.1 143.1h3.9M300.6 143.1h4.7M378.3 143.1h6.2M124.2 148.5h1.2M134.5 148.5h1.4M252.9 148.5h3.7M101.1 154h1.2M108.4 154h1.2M111.6 154h1.2M130.9 154h1.3M146.7 154h1.6M245.9 154h3.6M166.7 159.4h2M226.7 159.4h3.2M159.5 164.8h1.9M185 164.8h2.4M206.9 164.8h2.8M215 164.8h3M249.4 164.8h3.7M287.6 164.8h4.4M429.9 164.8h7.2M444.1 164.8h7.5M115.8 170.3h1.2M120 170.3h1.2M204.2 170.3h2.8M242.6 170.3h3.5M309.7 170.3h4.8M324.1 170.3h5.1M100 175.7h1.2M121.1 175.7h1.2M256.4 175.7h3.8M263.8 175.7h3.9M409.6 175.7h6.8M239.3 181.2h3.5M403.1 181.2h6.7M82.1 186.6h1.2M119 186.6h1.2M135.7 186.6h1.4M152.9 186.6h1.8M242.6 186.6h3.5M349.9 186.6h5.6M409.6 186.6h6.8M82.1 192.1h2.3M125.3 192.1h1.2M127.5 192.1h1.3M142.4 192.1h1.6M199.2 192.1h2.7M339.2 192.1h5.4M384.3 192.1h6.3M180.7 197.5h2.3M196.7 197.5h2.6M239.3 197.5h3.5M252.9 197.5h3.7M390.4 197.5h6.4M416.2 197.5h6.9M506.7 197.5h8.7M119 203h2.3M126.4 203h1.2M130.9 203h1.3M143.8 203h1.6M161.2 203h1.9M226.7 203h3.2M242.6 203h3.5M267.6 203h4M360.9 203h5.8M403.1 203h6.7M82.1 208.4h1.2M143.8 208.4h1.6M180.7 208.4h2.3M245.9 208.4h3.6M390.4 208.4h6.4M141 213.8h1.5M159.5 213.8h1.9M242.6 213.8h3.5M252.9 213.8h3.7M271.4 213.8h4.1M378.3 213.8h6.2M80 219.3h1.2M102.1 219.3h1.2M132.1 219.3h1.4M145.2 219.3h1.6M252.9 219.3h3.7M366.6 219.3h5.9M138.3 224.7h1.5M143.8 224.7h1.6M148.2 224.7h1.7M161.2 224.7h1.9M260.1 224.7h3.9M80 230.2h2.3M157.8 230.2h1.9M324.1 230.2h5.1M416.2 230.2h6.9M101.1 235.6h1.2M124.2 235.6h1.2M146.7 235.6h1.6M163 235.6h2M378.3 235.6h6.2M124.2 241.1h1.2M168.6 241.1h2.1M185 241.1h2.4M102.1 246.5h1.2M124.2 246.5h2.3M133.3 246.5h1.4M168.6 246.5h4M249.4 246.5h3.7M102.1 252h1.2M119 252h1.2M134.5 252h1.4M220.7 252h3.1M249.4 252h3.7M275.4 252h4.2M127.5 257.4h1.3M139.7 257.4h1.5M166.7 257.4h2M189.6 257.4h2.5M199.2 257.4h2.7M541.9 257.4h9.4M92.6 262.9h1.2M102.1 262.9h1.2M121.1 262.9h2.3M149.7 262.9h1.7M185 262.9h4.7M209.5 262.9h2.9M215 262.9h3M245.9 262.9h3.6M121.1 268.3h1.2M124.2 268.3h1.2M196.7 268.3h2.6M220.7 268.3h3.1M263.8 268.3h3.9M409.6 268.3h6.8M80 273.7h1.2M122.1 273.7h1.2M133.3 273.7h1.4M146.7 273.7h1.6M178.6 273.7h2.3M201.7 273.7h2.7M209.5 273.7h2.9M249.4 273.7h3.7M256.4 273.7h3.8M91.6 279.2h1.2M121.1 279.2h1.2M209.5 279.2h2.9M249.4 279.2h3.7M142.4 284.6h1.6M170.5 284.6h2.1M176.5 284.6h2.2M252.9 284.6h3.7M279.4 284.6h4.2M360.9 284.6h5.8M416.2 284.6h6.9M99 290.1h1.2M142.4 290.1h1.6M146.7 290.1h1.6M164.8 290.1h2M267.6 290.1h4M287.6 290.1h4.4M319.2 290.1h5M390.4 290.1h6.4M115.8 295.5h1.2M151.3 295.5h1.7M223.7 295.5h3.1M256.4 295.5h7.5M390.4 295.5h6.4M482.1 295.5h8.2M92.6 301h1.2M120 301h1.2M151.3 301h1.7M187.3 301h2.4M242.6 301h3.5M263.8 301h7.8M119 306.4h1.2M242.6 306.4h3.5M267.6 306.4h4M82.1 311.9h1.2M102.1 311.9h1.2M151.3 311.9h1.7M161.2 311.9h1.9M194.3 311.9h2.6M226.7 311.9h3.2M126.4 317.3h1.2M283.5 317.3h4.3M300.6 317.3h4.7M355.3 317.3h5.7M551.1 317.3h9.6M206.9 322.7h2.8M232.9 322.7h3.3M249.4 322.7h3.7M263.8 322.7h3.9M191.9 328.2h2.5M119 333.6h2.3M148.2 333.6h1.7M204.2 333.6h2.8M81.1 339.1h1.2M125.3 339.1h1.2M283.5 339.1h4.3M296.2 339.1h4.6M151.3 344.5h1.7M283.5 344.5h4.3M101.1 350h1.2M120 350h1.2M141 350h1.5M168.6 350h2.1M242.6 350h3.5M570.1 350h9.9M100 355.4h1.2M157.8 355.4h1.9M182.8 355.4h2.3M279.4 355.4h4.2M101.1 360.9h1.2M145.2 360.9h1.6M217.9 360.9h3M242.6 360.9h3.5M252.9 360.9h3.7M263.8 360.9h7.8M314.4 360.9h4.9M124.2 366.3h1.2M126.4 366.3h1.2M232.9 366.3h3.3M263.8 366.3h7.8M334.1 366.3h5.3M360.9 366.3h5.8M83.2 371.8h1.2M178.6 371.8h2.3M217.9 371.8h3M242.6 371.8h3.5M125.3 377.2h1.2M135.7 377.2h1.4M143.8 377.2h1.6M287.6 377.2h4.4M319.2 377.2h5M159.5 382.6h1.9M196.7 382.6h2.6M242.6 382.6h3.5M360.9 382.6h5.8M436.9 382.6h7.3M86.3 388.1h1.2M157.8 388.1h1.9M161.2 388.1h1.9M245.9 388.1h3.6M451.4 388.1h7.6M88.4 393.5h1.2M122.1 393.5h1.2M124.2 393.5h1.2M128.6 393.5h1.3M145.2 393.5h1.6M80 399h1.2M128.6 399h1.3M146.7 399h1.6M189.6 399h2.5M252.9 399h3.7M271.4 399h4.1M390.4 399h6.4M103.2 404.4h1.2M126.4 404.4h1.2M129.7 404.4h1.3M137 404.4h1.5M145.2 404.4h1.6M185 404.4h2.4M196.7 404.4h2.6M349.9 404.4h5.6M82.1 409.9h1.2M137 409.9h1.5M239.3 409.9h3.5M329 409.9h5.2M372.4 409.9h6.1M148.2 415.3h1.7M168.6 415.3h2.1M220.7 415.3h3.1M80 420.8h1.2M151.3 420.8h1.7M249.4 420.8h3.7M267.6 420.8h4M378.3 420.8h6.2M156.1 426.2h1.8M170.5 426.2h2.1M209.5 426.2h2.9M245.9 426.2h7.1M275.4 426.2h4.2M102.1 431.6h1.2M163 431.6h2M209.5 431.6h2.9M223.7 431.6h3.1M256.4 431.6h3.8M263.8 431.6h3.9M360.9 431.6h5.8M127.5 437.1h1.3M168.6 437.1h2.1M245.9 437.1h3.6M263.8 437.1h3.9M482.1 437.1h8.2M146.7 442.5h1.6M168.6 442.5h2.1M204.2 442.5h2.8M242.6 442.5h3.5M366.6 442.5h5.9M403.1 442.5h6.7M80 448h1.2M91.6 448h1.2M119 448h1.2M127.5 448h1.3M176.5 448h2.2M226.7 448h3.2M339.2 448h5.4M112.6 453.4h1.2M129.7 453.4h1.3M135.7 453.4h1.4M296.2 453.4h4.6M92.6 458.9h1.2M168.6 458.9h2.1M180.7 458.9h2.3M196.7 458.9h2.6M329 458.9h5.2M360.9 458.9h5.8M120 464.3h1.2M249.4 464.3h3.7M271.4 464.3h4.1M309.7 464.3h4.8M319.2 464.3h5M87.4 469.8h1.2M122.1 469.8h1.2M163 469.8h2M324.1 469.8h5.1M339.2 469.8h5.4M444.1 469.8h7.5M482.1 469.8h8.2M80 475.2h1.2M194.3 475.2h2.6M267.6 475.2h4M372.4 475.2h6.1M119 480.7h1.2M138.3 480.7h1.5M217.9 480.7h3M229.7 480.7h3.3M239.3 480.7h3.5M249.4 480.7h3.7M267.6 480.7h7.9M199.2 486.1h2.7M242.6 486.1h3.5M267.6 486.1h4M436.9 486.1h7.3M137 491.5h1.5M159.5 491.5h1.9M196.7 491.5h2.6M260.1 491.5h7.6M283.5 491.5h4.3M360.9 491.5h5.8M490.2 491.5h8.4M81.1 497h1.2M130.9 497h1.3M168.6 497h2.1M217.9 497h3M245.9 497h3.6M271.4 497h4.1M82.1 502.4h1.2M139.7 502.4h1.5M143.8 502.4h1.6M174.4 502.4h2.2M372.4 502.4h6.1M112.6 507.9h1.2M129.7 507.9h1.3M187.3 507.9h2.4M249.4 507.9h3.7M256.4 507.9h3.8M329 507.9h5.2"/><path stroke="rgb(174,174,174)" d="M100 77.7h1.2M138.3 77.7h1.5M149.7 77.7h1.7M154.5 77.7h1.8M164.8 77.7h2M185 77.7h2.4M226.7 77.7h3.2M236 77.7h3.4M287.6 77.7h4.4M134.5 83.2h1.4M141 83.2h1.5M209.5 83.2h2.9M220.7 83.2h3.1M236 83.2h6.7M451.4 83.2h7.6M115.8 88.6h1.2M142.4 88.6h1.6M159.5 88.6h1.9M168.6 88.6h2.1M185 88.6h2.4M366.6 88.6h5.9M196.7 94.1h2.6M275.4 94.1h4.2M82.1 99.5h1.2M100 99.5h1.2M168.6 99.5h2.1M178.6 99.5h2.3M212.3 99.5h2.9M249.4 99.5h3.7M260.1 99.5h3.9M271.4 99.5h4.1M134.5 104.9h1.4M180.7 104.9h2.3M209.5 104.9h2.9M232.9 104.9h6.6M349.9 104.9h5.6M416.2 104.9h6.9M80 110.4h1.2M204.2 110.4h5.4M142.4 115.8h1.6M145.2 115.8h1.6M194.3 115.8h2.6M128.6 121.3h1.3M134.5 121.3h1.4M154.5 121.3h1.8M161.2 121.3h1.9M172.4 121.3h2.1M239.3 121.3h3.5M119 126.7h1.2M124.2 126.7h1.2M204.2 126.7h2.8M92.6 132.2h1.2M122.1 132.2h1.2M151.3 132.2h1.7M168.6 132.2h2.1M172.4 132.2h2.1M185 132.2h2.4M189.6 132.2h2.5M209.5 132.2h2.9M111.6 137.6h1.2M252.9 137.6h3.7M403.1 137.6h6.7M123.2 143.1h1.2M127.5 143.1h1.3M149.7 143.1h1.7M263.8 143.1h3.9M355.3 143.1h5.7M87.4 148.5h1.2M135.7 148.5h1.4M166.7 148.5h2M178.6 148.5h2.3M226.7 148.5h3.2M242.6 148.5h3.5M396.7 148.5h6.5M125.3 154h1.2M133.3 154h1.4M100 159.4h1.2M287.6 159.4h4.4M355.3 159.4h5.7M87.4 164.8h1.2M123.2 164.8h1.2M143.8 164.8h1.6M161.2 164.8h1.9M263.8 164.8h3.9M124.2 170.3h1.2M151.3 170.3h1.7M164.8 170.3h2M212.3 170.3h2.9M232.9 170.3h3.3M451.4 170.3h7.6M80 175.7h1.2M103.2 175.7h1.2M137 175.7h1.5M220.7 175.7h3.1M249.4 175.7h3.7M83.2 181.2h1.2M138.3 181.2h1.5M260.1 181.2h3.9M275.4 181.2h4.2M474.2 181.2h8M91.6 186.6h1.2M141 186.6h1.5M157.8 186.6h1.9M163 186.6h2M176.5 186.6h2.2M100 192.1h1.2M149.7 192.1h1.7M163 192.1h2M239.3 192.1h3.5M403.1 192.1h6.7M134.5 197.5h1.4M146.7 197.5h1.6M226.7 197.5h3.2M236 197.5h3.4M279.4 197.5h4.2M132.1 203h1.4M137 203h1.5M154.5 203h1.8M396.7 203h6.5M451.4 203h7.6M80 208.4h1.2M159.5 208.4h1.9M178.6 208.4h2.3M229.7 208.4h3.3M319.2 208.4h5M360.9 208.4h5.8M102.1 213.8h1.2M164.8 213.8h2M180.7 213.8h2.3M263.8 213.8h3.9M283.5 213.8h4.3M339.2 213.8h5.4M116.9 219.3h1.2M120 219.3h1.2M204.2 219.3h5.4M232.9 219.3h3.3M283.5 219.3h4.3M314.4 219.3h4.9M80 224.7h1.2M103.2 224.7h1.2M116.9 224.7h1.2M120 224.7h1.2M129.7 224.7h1.3M245.9 224.7h7.1M283.5 224.7h4.3M403.1 224.7h6.7M474.2 224.7h8M133.3 230.2h1.4M138.3 230.2h1.5M168.6 230.2h2.1M201.7 230.2h2.7M220.7 230.2h3.1M339.2 230.2h5.4M396.7 230.2h6.5M436.9 230.2h7.3M108.4 235.6h1.2M119 235.6h1.2M199.2 235.6h2.7M300.6 235.6h4.7M80 241.1h1.2M112.6 241.1h1.2M180.7 241.1h2.3M344.5 241.1h5.5M482.1 241.1h8.2M116.9 252h1.2M127.5 252h1.3M142.4 252h1.6M232.9 252h3.3M116.9 257.4h1.2M120 257.4h1.2M146.7 257.4h3.2M172.4 257.4h2.1M178.6 257.4h2.3M187.3 257.4h2.4M82.1 262.9h1.2M166.7 262.9h2M170.5 262.9h2.1M232.9 262.9h3.3M319.2 262.9h5M119 268.3h1.2M143.8 268.3h1.6M279.4 268.3h4.2M119 273.7h1.2M154.5 273.7h1.8M164.8 273.7h3.9M176.5 273.7h2.2M275.4 273.7h4.2M339.2 273.7h5.4M366.6 273.7h5.9M229.7 279.2h3.3M396.7 279.2h6.5M81.1 284.6h1.2M119 284.6h1.2M166.7 284.6h2M396.7 284.6h6.5M80 290.1h1.2M112.6 290.1h1.2M122.1 290.1h1.2M154.5 290.1h1.8M170.5 290.1h2.1M182.8 290.1h2.3M196.7 290.1h2.6M102.1 295.5h2.3M120 295.5h1.2M145.2 295.5h1.6M166.7 295.5h4M178.6 295.5h2.3M242.6 295.5h3.5M81.1 301h1.2M279.4 301h8.4M423 301h7M83.2 306.4h1.2M135.7 306.4h1.4M138.3 306.4h1.5M159.5 306.4h1.9M324.1 306.4h5.1M423 306.4h7M80 311.9h1.2M135.7 311.9h1.4M141 311.9h1.5M145.2 311.9h1.6M236 311.9h3.4M355.3 311.9h5.7M115.8 317.3h1.2M119 317.3h1.2M121.1 317.3h1.2M124.2 317.3h1.2M149.7 317.3h1.7M164.8 317.3h3.9M194.3 317.3h2.6M229.7 317.3h3.3M249.4 317.3h3.7M128.6 322.7h1.3M176.5 322.7h2.2M196.7 322.7h2.6M344.5 322.7h5.5M444.1 322.7h7.5M83.2 328.2h1.2M137 328.2h1.5M141 328.2h1.5M185 328.2h4.7M204.2 328.2h2.8M212.3 328.2h2.9M133.3 333.6h1.4M139.7 333.6h1.5M159.5 333.6h1.9M206.9 333.6h2.8M287.6 333.6h4.4M474.2 333.6h8M83.2 339.1h1.2M101.1 339.1h2.3M148.2 339.1h1.7M156.1 339.1h1.8M161.2 339.1h1.9M204.2 339.1h2.8M209.5 339.1h2.9M256.4 339.1h3.8M263.8 339.1h3.9M429.9 339.1h7.2M100 344.5h1.2M143.8 344.5h1.6M201.7 344.5h5.3M279.4 344.5h4.2M119 350h1.2M161.2 350h3.7M349.9 350h5.6M451.4 350h7.6M97.9 355.4h1.2M115.8 355.4h1.2M123.2 355.4h1.2M194.3 355.4h2.6M209.5 355.4h2.9M245.9 355.4h3.6M100 360.9h1.2M124.2 360.9h1.2M138.3 360.9h1.5M178.6 360.9h2.3M204.2 360.9h2.8M409.6 360.9h6.8M189.6 366.3h2.5M101.1 371.8h1.2M130.9 371.8h1.3M146.7 371.8h1.6M229.7 371.8h3.3M305.1 371.8h4.7M83.2 377.2h1.2M101.1 377.2h1.2M130.9 377.2h1.3M159.5 377.2h1.9M182.8 377.2h2.3M309.7 377.2h4.8M396.7 377.2h6.5M82.1 382.6h1.2M97.9 382.6h1.2M146.7 382.6h1.6M151.3 382.6h1.7M163 382.6h2M189.6 382.6h2.5M212.3 382.6h2.9M217.9 382.6h3M100 388.1h1.2M119 388.1h1.2M121.1 388.1h1.2M187.3 388.1h2.4M263.8 388.1h3.9M217.9 393.5h3M245.9 393.5h3.6M458.9 393.5h7.7M101.1 399h1.2M120 399h1.2M180.7 399h2.3M108.4 409.9h1.2M130.9 409.9h3.8M145.2 409.9h1.6M232.9 409.9h3.3M260.1 409.9h3.9M271.4 409.9h4.1M138.3 415.3h1.5M199.2 415.3h2.7M541.9 415.3h9.4M86.3 420.8h1.2M128.6 420.8h1.3M148.2 420.8h1.7M156.1 420.8h1.8M209.5 420.8h2.9M220.7 420.8h3.1M349.9 420.8h11.2M100 426.2h1.2M124.2 426.2h1.2M239.3 426.2h3.5M252.9 426.2h3.7M283.5 426.2h4.3M119 431.6h1.2M236 431.6h3.4M390.4 431.6h6.4M83.2 437.1h1.2M130.9 437.1h1.3M267.6 437.1h4M378.3 437.1h6.2M126.4 442.5h1.2M199.2 442.5h2.7M263.8 442.5h3.9M229.7 448h3.3M116.9 453.4h1.2M121.1 453.4h1.2M145.2 453.4h1.6M156.1 453.4h1.8M161.2 453.4h1.9M212.3 453.4h2.9M229.7 453.4h3.3M287.6 453.4h4.4M349.9 453.4h5.6M396.7 453.4h6.5M82.1 458.9h1.2M135.7 458.9h1.4M191.9 458.9h2.5M252.9 458.9h3.7M80 464.3h1.2M102.1 464.3h1.2M127.5 464.3h1.3M132.1 464.3h1.4M143.8 464.3h1.6M204.2 464.3h2.8M226.7 464.3h3.2M267.6 464.3h4M344.5 464.3h5.5M366.6 464.3h5.9M201.7 469.8h2.7M260.1 469.8h3.9M409.6 469.8h6.8M239.3 475.2h3.5M245.9 475.2h7.1M275.4 475.2h8.2M444.1 475.2h7.5M80 480.7h1.2M122.1 480.7h1.2M161.2 480.7h1.9M172.4 480.7h2.1M283.5 480.7h4.3M296.2 480.7h4.6M344.5 480.7h5.5M83.2 486.1h1.2M126.4 486.1h1.2M182.8 486.1h2.3M232.9 486.1h3.3M275.4 486.1h4.2M124.2 491.5h1.2M139.7 491.5h1.5M146.7 491.5h1.6M199.2 491.5h2.7M209.5 491.5h5.6M239.3 491.5h3.5M252.9 491.5h3.7M157.8 497h1.9M176.5 497h2.2M182.8 497h2.3M249.4 497h3.7M283.5 497h4.3M103.2 502.4h1.2M115.8 502.4h1.2M125.3 502.4h1.2M249.4 502.4h3.7M309.7 502.4h4.8M360.9 502.4h5.8M99 507.9h1.2M119 507.9h1.2M128.6 507.9h1.3M134.5 507.9h1.4M152.9 507.9h1.8M174.4 507.9h2.2M260.1 507.9h3.9"/><path stroke="rgb(181,181,181)" d="M81.1 77.7h1.2M101.1 77.7h1.2M121.1 77.7h1.2M126.4 77.7h1.2M151.3 77.7h1.7M229.7 77.7h3.3M252.9 77.7h3.7M275.4 77.7h4.2M81.1 83.2h1.2M159.5 83.2h1.9M416.2 83.2h6.9M102.1 88.6h1.2M138.3 88.6h1.5M194.3 88.6h2.6M589.8 88.6h11.3M146.7 94.1h1.6M156.1 94.1h1.8M263.8 94.1h3.9M275.4 99.5h4.2M329 99.5h5.2M444.1 99.5h7.5M458.9 99.5h7.7M120 104.9h1.2M148.2 104.9h1.7M170.5 104.9h2.1M152.9 110.4h1.8M220.7 110.4h3.1M229.7 110.4h3.3M239.3 110.4h3.5M122.1 115.8h1.2M137 115.8h1.5M146.7 115.8h1.6M159.5 115.8h1.9M236 115.8h3.4M329 115.8h5.2M124.2 121.3h1.2M141 121.3h1.5M236 121.3h3.4M263.8 121.3h3.9M429.9 121.3h7.2M201.7 126.7h2.7M436.9 126.7h7.3M100 132.2h1.2M102.1 132.2h1.2M127.5 132.2h1.3M142.4 132.2h1.6M100 137.6h1.2M191.9 137.6h2.5M541.9 137.6h9.4M141 143.1h1.5M148.2 143.1h1.7M166.7 143.1h2M236 143.1h3.4M249.4 143.1h3.7M287.6 143.1h4.4M305.1 143.1h4.7M344.5 143.1h5.5M82.1 148.5h1.2M120 148.5h1.2M129.7 148.5h1.3M139.7 148.5h1.5M236 148.5h3.4M263.8 148.5h3.9M83.2 154h1.2M100 154h1.2M103.2 154h1.2M151.3 154h1.7M229.7 154h3.3M102.1 159.4h1.2M142.4 159.4h1.6M151.3 159.4h1.7M191.9 159.4h2.5M199.2 159.4h2.7M279.4 159.4h4.2M137 164.8h1.5M194.3 164.8h2.6M256.4 164.8h3.8M100 170.3h1.2M119 170.3h1.2M129.7 170.3h1.3M145.2 170.3h1.6M263.8 170.3h3.9M283.5 170.3h4.3M82.1 175.7h1.2M102.1 175.7h1.2M116.9 175.7h1.2M119 175.7h2.3M124.2 175.7h1.2M126.4 175.7h1.2M170.5 175.7h2.1M185 175.7h2.4M239.3 175.7h3.5M178.6 181.2h2.3M263.8 181.2h3.9M324.1 181.2h10.2M416.2 181.2h6.9M80 186.6h1.2M199.2 186.6h2.7M229.7 186.6h3.3M372.4 186.6h6.1M120 192.1h1.2M126.4 192.1h1.2M164.8 192.1h2M178.6 192.1h2.3M189.6 192.1h2.5M88.4 197.5h1.2M176.5 197.5h2.2M263.8 197.5h3.9M396.7 197.5h6.5M83.2 203h1.2M101.1 203h1.2M103.2 203h1.2M127.5 203h1.3M139.7 203h1.5M170.5 203h2.1M324.1 203h5.1M101.1 208.4h1.2M156.1 208.4h1.8M206.9 208.4h2.8M249.4 208.4h3.7M275.4 208.4h4.2M283.5 208.4h4.3M103.2 213.8h1.2M239.3 213.8h3.5M260.1 213.8h3.9M429.9 213.8h7.2M82.1 219.3h1.2M103.2 219.3h1.2M148.2 219.3h3.2M236 219.3h3.4M256.4 219.3h3.8M91.6 224.7h1.2M115.8 224.7h1.2M130.9 224.7h1.3M142.4 224.7h1.6M182.8 224.7h2.3M204.2 224.7h2.8M279.4 224.7h4.2M212.3 235.6h2.9M260.1 235.6h3.9M135.7 241.1h1.4M138.3 241.1h2.8M166.7 241.1h2M80 246.5h1.2M121.1 246.5h1.2M101.1 252h1.2M130.9 252h1.3M146.7 252h1.6M178.6 252h2.3M245.9 252h3.6M287.6 252h4.4M103.2 257.4h1.2M122.1 257.4h1.2M125.3 257.4h1.2M168.6 257.4h2.1M182.8 257.4h2.3M80 262.9h1.2M409.6 262.9h6.8M125.3 268.3h1.2M161.2 268.3h1.9M164.8 268.3h2M239.3 268.3h3.5M102.1 273.7h1.2M148.2 273.7h1.7M229.7 273.7h3.3M279.4 273.7h4.2M305.1 273.7h4.7M541.9 273.7h9.4M142.4 279.2h1.6M149.7 279.2h1.7M168.6 279.2h2.1M232.9 279.2h3.3M252.9 279.2h3.7M287.6 279.2h4.4M100 284.6h1.2M120 284.6h1.2M126.4 284.6h1.2M156.1 284.6h1.8M168.6 284.6h2.1M232.9 284.6h3.3M245.9 284.6h3.6M260.1 284.6h3.9M149.7 290.1h1.7M152.9 290.1h1.8M187.3 290.1h2.4M194.3 290.1h2.6M236 290.1h3.4M296.2 290.1h4.6M344.5 290.1h5.5M83.2 295.5h1.2M128.6 295.5h2.4M157.8 295.5h1.9M134.5 301h1.4M168.6 301h2.1M275.4 301h4.2M403.1 301h6.7M100 306.4h1.2M249.4 306.4h3.7M260.1 306.4h3.9M334.1 306.4h5.3M112.6 311.9h1.2M115.8 311.9h1.2M152.9 311.9h1.8M180.7 311.9h2.3M189.6 317.3h2.5M199.2 317.3h2.7M232.9 317.3h3.3M239.3 317.3h3.5M349.9 317.3h5.6M102.1 322.7h1.2M119 322.7h1.2M137 322.7h1.5M287.6 322.7h4.4M319.2 322.7h5M334.1 322.7h5.3M101.1 328.2h1.2M279.4 328.2h4.2M196.7 333.6h2.6M245.9 333.6h3.6M252.9 333.6h3.7M127.5 339.1h1.3M145.2 339.1h1.6M174.4 339.1h2.2M236 339.1h3.4M135.7 344.5h1.4M256.4 344.5h3.8M429.9 350h7.2M101.1 355.4h1.2M133.3 355.4h1.4M226.7 355.4h3.2M267.6 355.4h4M416.2 355.4h6.9M103.2 360.9h1.2M108.4 360.9h1.2M146.7 360.9h1.6M152.9 360.9h1.8M170.5 366.3h2.1M180.7 366.3h2.3M541.9 366.3h9.4M82.1 371.8h1.2M159.5 371.8h1.9M436.9 371.8h7.3M252.9 377.2h3.7M80 382.6h1.2M101.1 382.6h1.2M125.3 382.6h1.2M137 382.6h2.8M249.4 382.6h7.2M279.4 382.6h4.2M139.7 388.1h1.5M151.3 388.1h1.7M242.6 388.1h3.5M80 393.5h1.2M201.7 393.5h2.7M206.9 393.5h2.8M275.4 393.5h4.2M154.5 399h1.8M161.2 399h1.9M324.1 399h5.1M159.5 404.4h1.9M187.3 404.4h2.4M378.3 404.4h6.2M124.2 409.9h1.2M174.4 409.9h2.2M212.3 409.9h2.9M296.2 409.9h4.6M133.3 415.3h1.4M142.4 415.3h1.6M161.2 415.3h1.9M176.5 415.3h2.2M209.5 415.3h2.9M319.2 415.3h5M149.7 420.8h1.7M154.5 420.8h1.8M174.4 420.8h2.2M242.6 420.8h3.5M127.5 426.2h1.3M132.1 426.2h1.4M135.7 426.2h1.4M142.4 426.2h1.6M215 426.2h3M267.6 426.2h4M279.4 426.2h4.2M81.1 431.6h1.2M220.7 431.6h3.1M300.6 431.6h4.7M142.4 437.1h1.6M229.7 437.1h3.3M271.4 437.1h4.1M101.1 442.5h1.2M132.1 442.5h1.4M396.7 442.5h6.5M498.4 442.5h8.5M132.1 448h1.4M185 448h2.4M194.3 448h2.6M263.8 448h3.9M349.9 448h5.6M82.1 453.4h1.2M120 453.4h1.2M149.7 453.4h1.7M403.1 453.4h6.7M83.2 458.9h1.2M124.2 464.3h1.2M170.5 464.3h2.1M236 464.3h3.4M283.5 469.8h4.3M133.3 475.2h1.4M187.3 475.2h2.4M191.9 475.2h2.5M204.2 475.2h2.8M212.3 475.2h2.9M242.6 475.2h3.5M101.1 480.7h1.2M141 480.7h1.5M189.6 480.7h2.5M206.9 480.7h2.8M300.6 480.7h4.7M309.7 480.7h4.8M384.3 480.7h6.3M86.3 486.1h1.2M101.1 486.1h1.2M151.3 486.1h1.7M159.5 486.1h1.9M249.4 486.1h3.7M122.1 491.5h1.2M157.8 491.5h1.9M236 491.5h3.4M249.4 491.5h3.7M451.4 491.5h7.6M100 497h1.2M129.7 497h1.3M275.4 497h4.2M314.4 497h4.9M366.6 497h5.9M194.3 502.4h2.6M245.9 502.4h3.6M252.9 502.4h3.7M80 507.9h1.2M103.2 507.9h1.2M133.3 507.9h1.4M185 507.9h2.4M223.7 507.9h3.1M360.9 507.9h5.8"/><path stroke="rgb(188,188,188)" d="M116.9 77.7h1.2M134.5 77.7h1.4M182.8 83.2h2.3M223.7 83.2h3.1M232.9 83.2h3.3M324.1 83.2h5.1M135.7 88.6h1.4M263.8 88.6h7.8M275.4 88.6h4.2M101.1 94.1h1.2M212.3 94.1h2.9M229.7 94.1h3.3M314.4 99.5h4.9M100 104.9h1.2M159.5 104.9h1.9M199.2 104.9h2.7M249.4 104.9h3.7M256.4 104.9h3.8M103.2 110.4h1.2M113.7 110.4h1.2M128.6 110.4h1.3M168.6 110.4h4M101.1 115.8h1.2M124.2 115.8h1.2M170.5 115.8h2.1M191.9 115.8h2.5M226.7 115.8h3.2M145.2 121.3h1.6M226.7 121.3h3.2M267.6 121.3h4M146.7 126.7h1.6M174.4 126.7h2.2M245.9 126.7h3.6M267.6 126.7h4M141 132.2h1.5M154.5 132.2h1.8M232.9 132.2h6.6M154.5 137.6h1.8M166.7 137.6h2M172.4 137.6h2.1M215 137.6h3M275.4 137.6h4.2M429.9 137.6h7.2M164.8 143.1h2M103.2 148.5h1.2M170.5 148.5h2.1M92.6 154h1.2M97.9 154h1.2M176.5 159.4h2.2M252.9 159.4h3.7M134.5 164.8h1.4M141 164.8h1.5M212.3 164.8h2.9M305.1 164.8h4.7M324.1 164.8h5.1M80 170.3h1.2M209.5 170.3h2.9M245.9 170.3h3.6M429.9 170.3h7.2M178.6 175.7h2.3M372.4 175.7h6.1M151.3 181.2h1.7M206.9 181.2h2.8M229.7 181.2h3.3M232.9 186.6h3.3M256.4 186.6h3.8M287.6 186.6h4.4M309.7 186.6h4.8M429.9 186.6h14.4M161.2 192.1h1.9M226.7 192.1h3.2M236 192.1h3.4M263.8 192.1h3.9M185 197.5h2.4M124.2 203h1.2M209.5 203h2.9M249.4 203h3.7M119 208.4h1.2M137 208.4h1.5M148.2 208.4h1.7M151.3 208.4h3.3M220.7 208.4h3.1M81.1 213.8h1.2M189.6 213.8h2.5M122.1 219.3h1.2M125.3 219.3h1.2M112.6 224.7h1.2M151.3 224.7h1.7M194.3 224.7h2.6M112.6 230.2h1.2M212.3 230.2h2.9M103.2 235.6h1.2M161.2 235.6h1.9M187.3 235.6h2.4M263.8 235.6h3.9M145.2 241.1h1.6M182.8 241.1h2.3M196.7 241.1h2.6M215 241.1h3M275.4 241.1h4.2M287.6 241.1h4.4M396.7 241.1h6.5M242.6 246.5h3.5M256.4 246.5h3.8M474.2 246.5h8M100 257.4h2.3M212.3 257.4h2.9M120 262.9h1.2M189.6 262.9h2.5M80 268.3h1.2M166.7 268.3h2M176.5 268.3h2.2M232.9 268.3h3.3M267.6 268.3h4M283.5 268.3h4.3M344.5 268.3h5.5M142.4 273.7h1.6M196.7 273.7h2.6M226.7 273.7h3.2M271.4 273.7h4.1M82.1 279.2h2.3M201.7 279.2h2.7M263.8 279.2h3.9M127.5 284.6h1.3M154.5 284.6h1.8M199.2 284.6h2.7M174.4 290.1h2.2M189.6 290.1h2.5M482.1 290.1h8.2M101.1 295.5h1.2M127.5 295.5h1.3M174.4 295.5h2.2M143.8 301h1.6M223.7 301h3.1M260.1 301h3.9M101.1 306.4h1.2M143.8 306.4h1.6M130.9 311.9h1.3M156.1 311.9h1.8M166.7 311.9h2M249.4 311.9h3.7M256.4 311.9h3.8M187.3 317.3h2.4M378.3 317.3h6.2M134.5 322.7h1.4M161.2 322.7h1.9M229.7 322.7h3.3M82.1 328.2h1.2M108.4 328.2h1.2M339.2 328.2h5.4M403.1 328.2h6.7M416.2 328.2h6.9M87.4 333.6h1.2M156.1 333.6h3.5M172.4 333.6h2.1M170.5 339.1h2.1M223.7 339.1h3.1M267.6 339.1h4M300.6 339.1h4.7M314.4 339.1h4.9M82.1 350h1.2M87.4 350h1.2M130.9 350h1.3M260.1 350h3.9M103.2 355.4h1.2M314.4 355.4h4.9M436.9 355.4h7.3M127.5 360.9h1.3M163 360.9h2M209.5 360.9h2.9M103.2 366.3h1.2M81.1 371.8h1.2M123.2 371.8h1.2M152.9 371.8h1.8M100 377.2h1.2M152.9 377.2h1.8M305.1 377.2h4.7M157.8 382.6h1.9M180.7 382.6h2.3M256.4 382.6h3.8M101.1 388.1h2.3M143.8 388.1h1.6M174.4 388.1h2.2M178.6 388.1h2.3M191.9 388.1h2.5M223.7 388.1h3.1M239.3 388.1h3.5M252.9 388.1h3.7M283.5 388.1h4.3M103.2 393.5h1.2M149.7 393.5h1.7M164.8 393.5h2M239.3 393.5h3.5M296.2 393.5h4.6M236 399h3.4M81.1 409.9h1.2M83.2 409.9h1.2M154.5 409.9h1.8M172.4 409.9h2.1M249.4 409.9h3.7M149.7 415.3h1.7M170.5 415.3h2.1M252.9 415.3h3.7M283.5 415.3h4.3M384.3 420.8h6.3M182.8 426.2h2.3M287.6 426.2h4.4M409.6 426.2h6.8M133.3 431.6h1.4M101.1 437.1h2.3M232.9 437.1h3.3M194.3 442.5h2.6M275.4 442.5h4.2M283.5 442.5h4.3M82.1 448h1.2M120 448h1.2M128.6 448h1.3M142.4 448h1.6M174.4 448h2.2M83.2 453.4h1.2M164.8 453.4h2M178.6 453.4h2.3M206.9 453.4h2.8M232.9 453.4h3.3M119 458.9h1.2M159.5 458.9h1.9M125.3 464.3h1.2M378.3 464.3h6.2M390.4 464.3h6.4M100 469.8h1.2M128.6 469.8h1.3M157.8 469.8h1.9M209.5 469.8h2.9M378.3 469.8h6.2M390.4 469.8h6.4M102.1 475.2h1.2M166.7 475.2h2M102.1 480.7h1.2M146.7 480.7h1.6M180.7 480.7h2.3M242.6 480.7h3.5M287.6 480.7h4.4M194.3 486.1h2.6M212.3 486.1h2.9M236 486.1h3.4M102.1 491.5h1.2M174.4 491.5h2.2M226.7 491.5h3.2M263.8 497h3.9M279.4 497h4.2M120 502.4h1.2M166.7 502.4h2M199.2 502.4h2.7M229.7 502.4h3.3M81.1 507.9h1.2M124.2 507.9h1.2M164.8 507.9h2M194.3 507.9h2.6M226.7 507.9h3.2"/><path stroke="rgb(195,195,195)" d="M232.9 77.7h3.3M256.4 77.7h3.8M267.6 77.7h4M156.1 83.2h1.8M170.5 83.2h2.1M189.6 83.2h2.5M279.4 83.2h4.2M103.2 88.6h1.2M161.2 88.6h1.9M220.7 88.6h3.1M149.7 94.1h1.7M102.1 99.5h1.2M101.1 104.9h1.2M396.7 110.4h6.5M130.9 115.8h1.3M103.2 121.3h1.2M128.6 126.7h1.3M156.1 126.7h1.8M146.7 132.2h1.6M156.1 137.6h1.8M159.5 137.6h1.9M423 137.6h7M124.2 143.1h1.2M138.3 143.1h1.5M100 148.5h1.2M141 148.5h1.5M212.3 148.5h2.9M239.3 148.5h3.5M334.1 154h5.3M133.3 164.8h1.4M232.9 164.8h6.6M275.4 164.8h4.2M121.1 170.3h1.2M178.6 170.3h2.3M191.9 170.3h2.5M252.9 170.3h3.7M275.4 170.3h4.2M139.7 175.7h1.5M157.8 175.7h1.9M180.7 175.7h2.3M271.4 175.7h4.1M120 181.2h1.2M135.7 181.2h1.4M187.3 181.2h2.4M120 186.6h1.2M166.7 186.6h2M191.9 186.6h2.5M122.1 192.1h1.2M344.5 192.1h5.5M119 197.5h1.2M166.7 197.5h2M172.4 197.5h2.1M275.4 197.5h4.2M287.6 197.5h4.4M271.4 203h4.1M532.8 203h9.2M135.7 213.8h1.4M134.5 219.3h1.4M146.7 219.3h1.6M239.3 224.7h3.5M263.8 224.7h3.9M287.6 224.7h4.4M120 230.2h1.2M139.7 230.2h1.5M263.8 230.2h3.9M126.4 235.6h1.2M91.6 241.1h1.2M101.1 241.1h2.3M119 241.1h1.2M120 252h1.2M122.1 252h1.2M138.3 252h1.5M170.5 252h2.1M170.5 257.4h2.1M229.7 257.4h3.3M252.9 257.4h3.7M116.9 262.9h1.2M138.3 262.9h1.5M271.4 268.3h4.1M126.4 273.7h1.2M141 273.7h1.5M159.5 273.7h1.9M134.5 279.2h1.4M103.2 284.6h1.2M267.6 284.6h4M119 290.1h1.2M260.1 290.1h3.9M100 295.5h1.2M124.2 295.5h1.2M148.2 295.5h1.7M229.7 301h6.4M372.4 301h6.1M81.1 306.4h1.2M125.3 306.4h1.2M100 311.9h2.3M176.5 311.9h2.2M245.9 311.9h3.6M81.1 317.3h2.3M100 317.3h1.2M124.2 322.7h1.2M152.9 322.7h1.8M279.4 322.7h4.2M116.9 328.2h1.2M133.3 328.2h1.4M194.3 328.2h2.6M217.9 328.2h3M229.7 328.2h3.3M236 328.2h3.4M103.2 344.5h1.2M120 344.5h1.2M124.2 344.5h1.2M164.8 344.5h2M81.1 350h1.2M139.7 350h1.5M252.9 350h3.7M300.6 350h4.7M141 355.4h1.5M156.1 355.4h1.8M80 360.9h1.2M206.9 360.9h2.8M287.6 360.9h4.4M120 366.3h1.2M123.2 366.3h1.2M138.3 371.8h1.5M142.4 371.8h1.6M170.5 371.8h2.1M81.1 377.2h1.2M119 377.2h1.2M156.1 377.2h1.8M212.3 377.2h2.9M245.9 377.2h7.1M283.5 382.6h4.3M122.1 388.1h1.2M129.7 388.1h1.3M132.1 393.5h1.4M260.1 393.5h3.9M141 399h1.5M152.9 399h1.8M170.5 399h2.1M176.5 399h2.2M204.2 399h2.8M242.6 399h3.5M152.9 404.4h1.8M204.2 404.4h2.8M236 404.4h3.4M256.4 404.4h3.8M314.4 404.4h4.9M101.1 409.9h1.2M152.9 409.9h1.8M229.7 409.9h3.3M309.7 409.9h4.8M355.3 409.9h5.7M102.1 415.3h1.2M159.5 415.3h1.9M275.4 415.3h4.2M142.4 420.8h1.6M141 426.2h1.5M242.6 426.2h3.5M355.3 426.2h5.7M129.7 431.6h1.3M139.7 431.6h1.5M143.8 431.6h1.6M151.3 431.6h1.7M245.9 431.6h3.6M146.7 437.1h1.6M166.7 437.1h2M204.2 437.1h2.8M151.3 442.5h1.7M570.1 442.5h9.9M236 448h3.4M100 453.4h2.3M201.7 453.4h2.7M220.7 453.4h3.1M314.4 453.4h4.9M372.4 453.4h6.1M194.3 458.9h2.6M256.4 464.3h3.8M82.1 469.8h1.2M123.2 469.8h1.2M263.8 469.8h3.9M349.9 469.8h5.6M81.1 475.2h1.2M360.9 475.2h5.8M396.7 475.2h6.5M236 480.7h3.4M123.2 486.1h1.2M161.2 486.1h1.9M196.7 486.1h2.6M296.2 486.1h4.6M81.1 491.5h1.2M267.6 491.5h4M102.1 502.4h1.2M124.2 502.4h1.2M212.3 502.4h2.9M135.7 507.9h1.4M159.5 507.9h1.9M212.3 507.9h2.9"/><path stroke="rgb(202,202,202)" d="M133.3 77.7h1.4M141 77.7h1.5M170.5 88.6h2.1M314.4 88.6h4.9M187.3 94.1h2.4M226.7 99.5h3.2M242.6 99.5h7M125.3 104.9h1.2M141 104.9h1.5M154.5 110.4h1.8M223.7 110.4h3.1M120 115.8h1.2M128.6 115.8h1.3M100 121.3h3.3M174.4 121.3h2.2M101.1 126.7h1.2M101.1 132.2h1.2M256.4 132.2h3.8M178.6 137.6h2.3M209.5 143.1h2.9M101.1 148.5h1.2M152.9 154h1.8M252.9 154h3.7M92.6 159.4h1.2M249.4 159.4h3.7M229.7 170.3h3.3M287.6 175.7h4.4M152.9 181.2h1.8M201.7 192.1h2.7M416.2 192.1h6.9M83.2 197.5h1.2M129.7 203h1.3M103.2 208.4h1.2M120 208.4h1.2M120 213.8h1.2M199.2 213.8h2.7M204.2 213.8h2.8M223.7 213.8h3.1M138.3 219.3h1.5M102.1 224.7h1.2M124.2 230.2h1.2M80 235.6h1.2M172.4 235.6h2.1M81.1 241.1h1.2M120 241.1h1.2M119 246.5h1.2M172.4 246.5h2.1M141 252h1.5M80 257.4h1.2M103.2 262.9h1.2M134.5 262.9h1.4M81.1 268.3h2.3M252.9 273.7h3.7M309.7 273.7h4.8M101.1 279.2h1.2M146.7 279.2h1.6M199.2 279.2h2.7M201.7 284.6h2.7M283.5 284.6h4.3M482.1 284.6h8.2M187.3 295.5h2.4M300.6 295.5h4.7M125.3 301h1.2M174.4 301h2.2M309.7 301h4.8M103.2 306.4h1.2M101.1 322.7h1.2M164.8 322.7h2M220.7 322.7h3.1M256.4 322.7h3.8M119 328.2h1.2M209.5 328.2h2.9M103.2 339.1h1.2M133.3 339.1h1.4M143.8 339.1h1.6M83.2 350h1.2M256.4 350h3.8M260.1 355.4h3.9M168.6 360.9h2.1M279.4 360.9h4.2M100 366.3h1.2M142.4 366.3h1.6M135.7 371.8h1.4M154.5 371.8h1.8M180.7 371.8h2.3M103.2 377.2h1.2M102.1 382.6h2.3M132.1 382.6h1.4M263.8 382.6h3.9M124.2 388.1h1.2M148.2 388.1h1.7M119 393.5h1.2M123.2 393.5h1.2M134.5 393.5h1.4M267.6 393.5h4M100 399h1.2M148.2 399h1.7M275.4 399h4.2M349.9 399h5.6M120 409.9h1.2M185 409.9h2.4M201.7 409.9h2.7M252.9 409.9h7.4M137 415.3h1.5M92.6 420.8h1.2M120 420.8h1.2M125.3 420.8h1.2M91.6 426.2h1.2M212.3 426.2h2.9M83.2 431.6h1.2M138.3 431.6h1.5M287.6 431.6h4.4M100 442.5h1.2M119 442.5h1.2M124.2 442.5h1.2M267.6 442.5h4M256.4 448h3.8M279.4 448h4.2M189.6 453.4h2.5M209.5 453.4h2.9M242.6 453.4h3.5M252.9 453.4h3.7M267.6 453.4h4M151.3 458.9h1.7M242.6 458.9h3.5M275.4 458.9h4.2M126.4 469.8h1.2M145.2 469.8h1.6M148.2 469.8h1.7M223.7 469.8h3.1M252.9 469.8h3.7M416.2 469.8h6.9M236 475.2h3.4M260.1 475.2h3.9M120 480.7h1.2M127.5 480.7h1.3M187.3 480.7h2.4M87.4 486.1h1.2M119 486.1h1.2M121.1 486.1h1.2M245.9 486.1h3.6M100 491.5h2.3M143.8 491.5h1.6M189.6 491.5h2.5M206.9 491.5h2.8M133.3 497h1.4M134.5 502.4h1.4M409.6 502.4h6.8M91.6 507.9h1.2M120 507.9h1.2M263.8 507.9h3.9"/><path stroke="rgb(209,209,209)" d="M283.5 77.7h4.3M103.2 83.2h1.2M396.7 88.6h6.5M103.2 94.1h1.2M283.5 94.1h4.3M126.4 99.5h1.2M146.7 110.4h1.6M245.9 121.3h3.6M100 126.7h1.2M102.1 126.7h1.2M145.2 126.7h1.6M82.1 132.2h2.3M178.6 132.2h2.3M201.7 132.2h2.7M296.2 132.2h4.6M120 137.6h1.2M132.1 143.1h1.4M163 143.1h2M217.9 143.1h3M334.1 143.1h5.3M204.2 148.5h2.8M82.1 154h1.2M119 154h1.2M283.5 154h4.3M157.8 159.4h1.9M271.4 159.4h4.1M102.1 170.3h1.2M142.4 170.3h1.6M232.9 175.7h3.3M102.1 181.2h1.2M226.7 181.2h3.2M127.5 186.6h1.3M156.1 186.6h1.8M103.2 192.1h1.2M142.4 203h1.6M178.6 203h2.3M124.2 208.4h1.2M101.1 219.3h1.2M130.9 219.3h1.3M166.7 219.3h2M101.1 224.7h1.2M102.1 230.2h1.2M187.3 230.2h2.4M275.4 230.2h4.2M120 235.6h1.2M252.9 235.6h3.7M324.1 235.6h5.1M309.7 241.1h4.8M101.1 246.5h1.2M283.5 246.5h4.3M100 252h1.2M103.2 252h1.2M226.7 252h3.2M124.2 257.4h1.2M300.6 257.4h4.7M189.6 268.3h2.5M229.7 268.3h3.3M124.2 273.7h1.2M189.6 273.7h2.5M135.7 279.2h1.4M242.6 279.2h3.5M212.3 284.6h2.9M145.2 290.1h1.6M220.7 290.1h3.1M287.6 295.5h4.4M124.2 306.4h1.2M149.7 306.4h1.7M180.7 306.4h2.3M142.4 311.9h1.6M252.9 317.3h3.7M242.6 322.7h3.5M125.3 328.2h1.2M130.9 328.2h1.3M170.5 328.2h2.1M223.7 328.2h3.1M88.4 333.6h1.2M103.2 333.6h1.2M242.6 333.6h3.5M263.8 333.6h3.9M239.3 339.1h3.5M125.3 344.5h1.2M139.7 344.5h1.5M170.5 344.5h2.1M275.4 344.5h4.2M122.1 350h1.2M124.2 350h1.2M143.8 350h1.6M121.1 355.4h1.2M170.5 355.4h2.1M119 360.9h1.2M159.5 360.9h1.9M82.1 366.3h1.2M101.1 366.3h1.2M159.5 366.3h1.9M121.1 371.8h1.2M275.4 371.8h4.2M120 377.2h1.2M100 382.6h1.2M101.1 393.5h1.2M108.4 393.5h1.2M121.1 393.5h1.2M125.3 393.5h1.2M229.7 393.5h3.3M236 393.5h3.4M201.7 399h2.7M226.7 399h3.2M124.2 404.4h1.2M80 409.9h1.2M103.2 409.9h1.2M119 409.9h1.2M135.7 409.9h1.4M124.2 415.3h1.2M116.9 420.8h1.2M103.2 426.2h1.2M82.1 431.6h1.2M149.7 431.6h1.7M148.2 437.1h1.7M275.4 437.1h4.2M283.5 458.9h4.3M283.5 464.3h4.3M103.2 469.8h1.2M166.7 469.8h2M423 475.2h7M166.7 486.1h2M260.1 486.1h3.9M229.7 491.5h3.3M163 502.4h2M275.4 507.9h4.2"/><path stroke="rgb(216,216,216)" d="M80 83.2h1.2M143.8 88.6h1.6M83.2 94.1h1.2M232.9 94.1h3.3M101.1 99.5h1.2M81.1 110.4h1.2M119 110.4h1.2M185 115.8h2.4M242.6 115.8h3.5M83.2 121.3h1.2M249.4 121.3h3.7M103.2 137.6h1.2M119 137.6h1.2M135.7 137.6h1.4M229.7 148.5h3.3M101.1 159.4h1.2M172.4 159.4h2.1M209.5 159.4h2.9M102.1 164.8h1.2M271.4 164.8h4.1M81.1 170.3h1.2M103.2 170.3h1.2M275.4 175.7h4.2M100 186.6h1.2M239.3 186.6h3.5M279.4 186.6h4.2M102.1 192.1h1.2M182.8 192.1h2.3M232.9 192.1h3.3M103.2 197.5h1.2M314.4 197.5h4.9M100 203h1.2M239.3 203h3.5M127.5 224.7h1.3M83.2 241.1h1.2M124.2 252h1.2M242.6 257.4h3.5M101.1 268.3h2.3M115.8 273.7h1.2M138.3 279.2h1.5M128.6 301h1.3M191.9 317.3h2.5M242.6 317.3h3.5M260.1 328.2h7.6M409.6 333.6h6.8M178.6 350h2.3M187.3 355.4h2.4M256.4 355.4h3.8M283.5 355.4h8.6M194.3 366.3h2.6M324.1 371.8h5.1M102.1 393.5h1.2M101.1 404.4h1.2M212.3 404.4h5.8M100 415.3h1.2M260.1 415.3h3.9M103.2 420.8h1.2M170.5 420.8h2.1M185 426.2h2.4M263.8 426.2h3.9M100 437.1h1.2M279.4 437.1h4.2M101.1 448h1.2M267.6 448h4M103.2 464.3h1.2M130.9 464.3h1.3M149.7 464.3h1.7M141 469.8h1.5M83.2 480.7h1.2M149.7 497h1.7M256.4 502.4h3.8"/><path stroke="rgb(223,223,223)" d="M100 83.2h2.3M260.1 83.2h3.9M102.1 115.8h2.3M223.7 121.3h3.1M127.5 126.7h1.3M103.2 132.2h1.2M102.1 137.6h1.2M239.3 137.6h3.5M143.8 148.5h1.6M275.4 148.5h4.2M80 154h1.2M263.8 154h3.9M141 159.4h1.5M146.7 159.4h1.6M103.2 164.8h1.2M100 213.8h1.2M127.5 213.8h1.3M206.9 213.8h2.8M232.9 213.8h3.3M100 219.3h1.2M196.7 219.3h2.6M239.3 219.3h3.5M122.1 230.2h1.2M166.7 230.2h2M309.7 230.2h4.8M182.8 235.6h2.3M149.7 241.1h1.7M252.9 246.5h3.7M223.7 262.9h3.1M102.1 284.6h1.2M100 290.1h1.2M125.3 295.5h1.2M133.3 295.5h1.4M156.1 295.5h1.8M166.7 306.4h2M283.5 306.4h4.3M116.9 322.7h1.2M100 328.2h1.2M103.2 328.2h1.2M249.4 328.2h3.7M232.9 350h3.3M81.1 360.9h1.2M103.2 371.8h1.2M249.4 371.8h7.2M102.1 377.2h1.2M189.6 377.2h2.5M199.2 377.2h2.7M102.1 399h2.3M100 404.4h1.2M100 409.9h1.2M232.9 415.3h3.3M101.1 426.2h1.2M187.3 431.6h2.4M189.6 437.1h2.5M355.3 437.1h5.7M287.6 448h4.4M271.4 453.4h4.1M103.2 458.9h1.2M249.4 469.8h3.7M263.8 475.2h3.9M360.9 486.1h5.8M287.6 502.4h4.4M127.5 507.9h1.3M236 507.9h3.4"/><path stroke="rgb(229,229,229)" d="M128.6 77.7h1.3M102.1 83.2h1.2M120 88.6h1.2M148.2 99.5h1.7M283.5 104.9h4.3M120 121.3h1.2M229.7 126.7h3.3M132.1 137.6h1.4M146.7 137.6h1.6M103.2 143.1h1.2M275.4 154h4.2M82.1 159.4h1.2M100 164.8h1.2M256.4 181.2h3.8M138.3 186.6h1.5M360.9 192.1h5.8M102.1 208.4h1.2M252.9 241.1h3.7M229.7 262.9h3.3M103.2 290.1h1.2M116.9 311.9h1.2M103.2 317.3h1.2M287.6 317.3h4.4M263.8 344.5h3.9M201.7 382.6h2.7M145.2 399h1.6M156.1 415.3h1.8M271.4 420.8h4.1M149.7 442.5h1.7M102.1 448h1.2M279.4 464.3h4.2M103.2 491.5h1.2"/><path stroke="rgb(236,236,236)" d="M102.1 110.4h1.2M279.4 126.7h4.2M324.1 154h5.1M146.7 186.6h1.6M101.1 192.1h1.2M101.1 197.5h1.2M145.2 203h1.6M220.7 203h3.1M102.1 235.6h1.2M120 246.5h1.2M232.9 246.5h3.3M204.2 268.3h2.8M172.4 295.5h2.1M232.9 295.5h3.3M102.1 301h1.2M163 344.5h2M267.6 350h4M279.4 350h4.2M287.6 350h4.4M229.7 360.9h3.3M124.2 371.8h1.2M125.3 388.1h1.2M178.6 404.4h2.3M120 415.3h1.2M372.4 415.3h6.1M283.5 420.8h4.3M182.8 458.9h2.3M133.3 464.3h1.4M206.9 469.8h2.8M101.1 475.2h1.2M170.5 480.7h2.1M217.9 502.4h3M209.5 507.9h2.9"/><path stroke="rgb(243,243,243)" d="M102.1 77.7h1.2M146.7 77.7h1.6M102.1 94.1h1.2M263.8 104.9h3.9M103.2 126.7h1.2M133.3 126.7h1.4M275.4 159.4h4.2M242.6 197.5h3.5M102.1 203h1.2M100 208.4h1.2M100 235.6h1.2M122.1 241.1h1.2M163 257.4h2M100 268.3h1.2M103.2 268.3h1.2M122.1 268.3h1.2M120 279.2h1.2M102.1 306.4h1.2M125.3 322.7h1.2M103.2 350h1.2M120 404.4h1.2M242.6 404.4h3.5M100 431.6h1.2M103.2 431.6h1.2M194.3 431.6h2.6M201.7 458.9h2.7M287.6 469.8h4.4M120 475.2h1.2M148.2 480.7h1.7M103.2 486.1h1.2M142.4 502.4h1.6M314.4 502.4h4.9"/><path stroke="rgb(250,250,250)" d="M83.2 99.5h1.2M191.9 110.4h2.5M201.7 154h2.7M101.1 164.8h1.2M103.2 230.2h1.2M239.3 290.1h3.5M296.2 328.2h4.6M100 333.6h1.2M100 339.1h1.2M102.1 366.3h1.2M100 371.8h1.2M206.9 458.9h2.8M101.1 469.8h1.2"/><path stroke="rgb(255,255,255)" d="M103.2 77.7h1.2M164.8 99.5h2M204.2 121.3h2.8M263.8 159.4h3.9M101.1 181.2h1.2M101.1 186.6h1.2M229.7 197.5h3.3M314.4 213.8h4.9M271.4 219.3h4.1M125.3 224.7h1.2M229.7 224.7h3.3M101.1 230.2h1.2M135.7 257.4h1.4M149.7 257.4h1.7M143.8 284.6h1.6M287.6 301h4.4M245.9 339.1h3.6M163 393.5h2M102.1 409.9h1.2M101.1 415.3h1.2M103.2 442.5h1.2"/><g stroke="none"><ellipse cx="89.5" cy="217.5" rx="5" ry="4" fill="rgb(203,203,203)"/><rect x="435" y="297" width="70" height="5.5" rx="2.5" fill="rgb(180,180,180)"/><rect x="507" y="297" width="13" height="5" rx="2.5" fill="rgb(162,162,162)"/><rect x="549" y="297" width="22" height="5.5" rx="2.5" fill="rgb(168,168,168)"/><rect x="435.5" y="85" width="3" height="60" rx="1.5" fill="rgb(156,156,156)"/><rect x="309" y="75.0" width="4.6" height="5.6" fill="rgb(186,186,186)"/><rect x="309" y="80.4" width="4.6" height="5.6" fill="rgb(211,211,211)"/><rect x="309" y="85.9" width="4.6" height="5.6" fill="rgb(221,221,221)"/><rect x="309" y="91.3" width="4.6" height="5.6" fill="rgb(194,194,194)"/><rect x="309" y="96.8" width="4.6" height="5.6" fill="rgb(184,184,184)"/><rect x="309" y="102.2" width="4.6" height="5.6" fill="rgb(175,175,175)"/><rect x="309" y="107.7" width="4.6" height="5.6" fill="rgb(191,191,191)"/><rect x="309" y="113.1" width="4.6" height="5.6" fill="rgb(187,187,187)"/><rect x="309" y="118.6" width="4.6" height="5.6" fill="rgb(200,200,200)"/><rect x="309" y="124.0" width="4.6" height="5.6" fill="rgb(159,159,159)"/><rect x="309" y="129.4" width="4.6" height="5.6" fill="rgb(201,201,201)"/><rect x="309" y="134.9" width="4.6" height="5.6" fill="rgb(191,191,191)"/><rect x="309" y="140.3" width="4.6" height="5.6" fill="rgb(201,201,201)"/><rect x="309" y="145.8" width="4.6" height="5.6" fill="rgb(191,191,191)"/><rect x="309" y="151.2" width="4.6" height="5.6" fill="rgb(181,181,181)"/><rect x="309" y="156.7" width="4.6" height="5.6" fill="rgb(192,192,192)"/><rect x="309" y="162.1" width="4.6" height="5.6" fill="rgb(204,204,204)"/><rect x="309" y="167.6" width="4.6" height="5.6" fill="rgb(191,191,191)"/><rect x="309" y="173.0" width="4.6" height="5.6" fill="rgb(185,185,185)"/><rect x="309" y="178.5" width="4.6" height="5.6" fill="rgb(198,198,198)"/><rect x="309" y="183.9" width="4.6" height="5.6" fill="rgb(176,176,176)"/><rect x="309" y="189.3" width="4.6" height="5.6" fill="rgb(152,152,152)"/><rect x="309" y="194.8" width="4.6" height="5.6" fill="rgb(176,176,176)"/><rect x="309" y="200.2" width="4.6" height="5.6" fill="rgb(168,168,168)"/><rect x="309" y="205.7" width="4.6" height="5.6" fill="rgb(141,141,141)"/><rect x="309" y="211.1" width="4.6" height="5.6" fill="rgb(148,148,148)"/><rect x="309" y="216.6" width="4.6" height="5.6" fill="rgb(158,158,158)"/><rect x="309" y="222.0" width="4.6" height="5.6" fill="rgb(150,150,150)"/><rect x="309" y="227.5" width="4.6" height="5.6" fill="rgb(140,140,140)"/><rect x="309" y="232.9" width="4.6" height="5.6" fill="rgb(163,163,163)"/><rect x="309" y="238.4" width="4.6" height="5.6" fill="rgb(191,191,191)"/><rect x="309" y="243.8" width="4.6" height="5.6" fill="rgb(184,184,184)"/><rect x="309" y="249.2" width="4.6" height="5.6" fill="rgb(171,171,171)"/><rect x="309" y="254.7" width="4.6" height="5.6" fill="rgb(185,185,185)"/><rect x="309" y="260.1" width="4.6" height="5.6" fill="rgb(199,199,199)"/><rect x="309" y="265.6" width="4.6" height="5.6" fill="rgb(187,187,187)"/><rect x="309" y="271.0" width="4.6" height="5.6" fill="rgb(196,196,196)"/><rect x="309" y="276.5" width="4.6" height="5.6" fill="rgb(210,210,210)"/><rect x="309" y="281.9" width="4.6" height="5.6" fill="rgb(194,194,194)"/><rect x="309" y="287.4" width="4.6" height="5.6" fill="rgb(175,175,175)"/><rect x="309" y="292.8" width="4.6" height="5.6" fill="rgb(186,186,186)"/><rect x="309" y="298.2" width="4.6" height="5.6" fill="rgb(191,191,191)"/><rect x="309" y="303.7" width="4.6" height="5.6" fill="rgb(208,208,208)"/><rect x="309" y="309.1" width="4.6" height="5.6" fill="rgb(173,173,173)"/><rect x="309" y="314.6" width="4.6" height="5.6" fill="rgb(167,167,167)"/><rect x="309" y="320.0" width="4.6" height="5.6" fill="rgb(161,161,161)"/><rect x="309" y="325.5" width="4.6" height="5.6" fill="rgb(141,141,141)"/><rect x="309" y="330.9" width="4.6" height="5.6" fill="rgb(166,166,166)"/><rect x="309" y="336.4" width="4.6" height="5.6" fill="rgb(185,185,185)"/><rect x="309" y="341.8" width="4.6" height="5.6" fill="rgb(172,172,172)"/><rect x="309" y="347.2" width="4.6" height="5.6" fill="rgb(204,204,204)"/><rect x="309" y="352.7" width="4.6" height="5.6" fill="rgb(210,210,210)"/><rect x="309" y="358.1" width="4.6" height="5.6" fill="rgb(209,209,209)"/><rect x="309" y="363.6" width="4.6" height="5.6" fill="rgb(205,205,205)"/><rect x="309" y="369.0" width="4.6" height="5.6" fill="rgb(213,213,213)"/><rect x="309" y="374.5" width="4.6" height="5.6" fill="rgb(174,174,174)"/><rect x="309" y="379.9" width="4.6" height="5.6" fill="rgb(191,191,191)"/><rect x="309" y="385.4" width="4.6" height="5.6" fill="rgb(200,200,200)"/><rect x="309" y="390.8" width="4.6" height="5.6" fill="rgb(160,160,160)"/><rect x="309" y="396.3" width="4.6" height="5.6" fill="rgb(179,179,179)"/><rect x="309" y="401.7" width="4.6" height="5.6" fill="rgb(178,178,178)"/><rect x="309" y="407.1" width="4.6" height="5.6" fill="rgb(196,196,196)"/><rect x="309" y="412.6" width="4.6" height="5.6" fill="rgb(183,183,183)"/><rect x="309" y="418.0" width="4.6" height="5.6" fill="rgb(184,184,184)"/><rect x="309" y="423.5" width="4.6" height="5.6" fill="rgb(191,191,191)"/><rect x="309" y="428.9" width="4.6" height="5.6" fill="rgb(172,172,172)"/><rect x="309" y="434.4" width="4.6" height="5.6" fill="rgb(190,190,190)"/><rect x="309" y="439.8" width="4.6" height="5.6" fill="rgb(186,186,186)"/><rect x="309" y="445.3" width="4.6" height="5.6" fill="rgb(195,195,195)"/><rect x="309" y="450.7" width="4.6" height="5.6" fill="rgb(180,180,180)"/><rect x="309" y="456.2" width="4.6" height="5.6" fill="rgb(203,203,203)"/><rect x="309" y="461.6" width="4.6" height="5.6" fill="rgb(205,205,205)"/><rect x="309" y="467.0" width="4.6" height="5.6" fill="rgb(192,192,192)"/><rect x="309" y="472.5" width="4.6" height="5.6" fill="rgb(201,201,201)"/><rect x="309" y="477.9" width="4.6" height="5.6" fill="rgb(216,216,216)"/><rect x="309" y="483.4" width="4.6" height="5.6" fill="rgb(234,234,234)"/><rect x="309" y="488.8" width="4.6" height="5.6" fill="rgb(181,181,181)"/><rect x="309" y="494.3" width="4.6" height="5.6" fill="rgb(199,199,199)"/><rect x="309" y="499.7" width="4.6" height="5.6" fill="rgb(201,201,201)"/><rect x="309" y="505.2" width="4.6" height="5.6" fill="rgb(192,192,192)"/></g></g>
</defs>
<g filter="url(#f0)"><use href="#src"/></g>
<g filter="url(#f1)"><use href="#src"/></g>
<g filter="url(#f2)"><use href="#src"/></g>
<g filter="url(#f3)"><use href="#src"/></g>
<g filter="url(#f4)"><use href="#src"/></g>
<g filter="url(#f5)"><use href="#src"/></g>
<g filter="url(#f6)"><use href="#src"/></g>
<g filter="url(#f7)"><use href="#src"/></g>
<g><rect x="81" y="75" width="3.5" height="5" fill="#00ffb0"/><rect x="84.5" y="75" width="5.5" height="4.5" fill="#0090ff"/><rect x="90" y="75" width="7" height="4.5" fill="#00b8ff"/><rect x="97" y="75" width="7.5" height="5.5" fill="#00ff98"/><rect x="104.5" y="75" width="4.5" height="4.5" fill="#0078ff"/><rect x="109" y="75" width="7" height="4.8" fill="#00e0ff"/><rect x="116" y="75" width="1.3" height="4.5" fill="#0070ff"/><rect x="117.3" y="75" width="3" height="4.8" fill="#00d0ff"/><rect x="120.3" y="75" width="1.3" height="4.5" fill="#0070ff"/><rect x="121.6" y="75" width="3.4" height="4.8" fill="#00e8ff"/><rect x="125" y="75" width="1.2" height="4.5" fill="#0090ff"/><rect x="126.2" y="75" width="167.3" height="4.7" fill="#00e6ff"/><rect x="297" y="75" width="28" height="4.5" fill="#0088ff"/><rect x="325" y="75" width="35" height="4.3" fill="#0858ff"/><rect x="360" y="75" width="77" height="4" fill="#0438fa"/><rect x="437" y="75" width="164" height="3.6" fill="#0012ee"/><rect x="98" y="80" width="6" height="3" fill="#00ffc0"/><rect x="99.5" y="83" width="4" height="3" fill="#00e0ff"/><rect x="81" y="79.2" width="212.5" height="1.2" fill="#00a0ff" opacity="0.6"/></g>
<path d="M160 184v4M163 268h3M187 395h3M320 267v3M402 489h2M387 208h3M490 211h2M346 284v4M139 384h2M374 479h2M362 210v2M209 436v4M382 432h4M455 127v4M275 287h2M237 453h4M337 253v4M195 401v2M339 475h2M191 493v4M354 496v3M148 241h4M200 175v3M238 293v2M487 384h4M391 106v3M265 334v4M323 319h4M312 137h4M416 251h3M324 171v4M270 470h3M258 232h2M331 475v2M405 486v4M430 432h4M307 229h3M246 346v3M167 272h2M161 156h4M279 366h2M475 187h2M232 228h3M477 137h3M377 459v2M328 458h2M347 158v4M328 88h4M283 443h2M279 196v4M243 242v3M420 303h3M338 493h3M414 375v3M375 456v3M337 367h3M377 345v3M138 312v3M366 357h2M395 117v3M454 492h4M461 254h2M270 364h3M374 390h3M430 268h3M232 460h3M330 155v3M456 141v4M460 169h3M403 275v4M377 234v4M387 301h3M290 475h3M133 445v2M216 197h3M308 432h3M455 281v4M467 295v4M337 165h2M466 93v4M250 142h3M485 305h4M318 436v4M207 452h2M373 414v2M331 181h4M498 88v2M214 105h4M251 280h2M172 484h4M477 225v2M362 426h2M277 344h3M283 188h4M370 104h3M224 394v2M464 381h3M174 187v2M400 209h2M485 120h4M410 294h3M411 114v3M484 261h4M347 171h2M464 299v2M457 136h2M396 212h4M423 92h2M480 416h3M451 418v2M325 307v4M159 116v3M401 350v3M266 197h2M227 438h3M394 253h2M490 463h2M311 327h2M348 372v3M368 109h2M149 133v3M311 275h3M145 161v4M284 196v3M389 247h3M341 336v3M463 487h4M143 243v3M381 325h2M356 212v4M143 164v4M177 297v2M347 100h2M258 166h4M226 479h3M466 381h3M369 135h3M454 451v2M268 422v2M323 153h3M396 110v2M377 403v2M273 249h3M421 133h4M149 184v4M493 113h4M453 298h2M450 146h4M183 160h2M427 239h2M362 195h2M197 140h4M129 419h3M487 303v2M462 395h3M152 89v3M242 401h4M366 496h4M445 432v4M288 358h3M242 176h3M454 438v4M353 109v2M383 135v3M183 490v3M371 181h3M160 203h2M283 111h2M252 504v4M202 136h3M371 434h4M430 444h4M302 152v4M303 153h2M195 85h2M329 137h3M239 119h2M241 386v4M133 175h4M309 325h3M235 152v2M241 455h4M135 242v3M317 142v4M134 431h3M184 435v2M197 507v4M147 148h2M204 161h3M142 475h4M403 301v3M223 299h2M251 213h2M437 452h3M492 494h2M439 483v2M487 286h2M266 476h2M179 98h4M326 457v3M365 340h2M164 357h2M283 358v2M227 144v2M396 140h4M356 210v2M227 357v3M397 480v4M129 222v4M373 134v3M271 485h3M413 250h3M252 125h4M413 215v4M423 422h2M484 203v2M362 454h4M454 185v4M130 451h3M424 95v4M167 150h2M369 165v2M411 493h4M343 360v2M346 270h3M365 114h4M190 294h3M325 364h2M438 127h2M337 403v4M318 430v2M315 505h3M286 285v2M370 100h2M341 340h4M403 261v2M330 325v2M129 134h4M205 93v3M304 458h2M220 208h4M303 259h2M453 495v2M466 238h2M223 478v2M265 263h2M378 487h4M444 177v4M454 390h2M410 319h3M412 258h3M167 237h3M499 142h3M458 163v2M274 501h4M438 151v2M456 176h3M451 447h3M339 425h2M449 183v4M400 359h3M211 128h2M402 328v4M483 369v3M476 120v4M409 103v3M355 242h4M146 227h4M242 190v4M391 258v4M374 311v4M307 492v4M272 286v4M471 248v2M448 436v3M410 333h4M462 152h3M215 497h2M457 318h4M456 136v4M340 160h3M198 341h4M325 161v3M384 350h3M402 252v4M200 281h3M482 215v4M178 209v2M352 261h4M209 418h4M386 430h2M217 189h2M287 357h3M477 413v4M244 405h2M153 218v2M140 247v2M338 188h4M316 426v3M195 116h3M228 310h2M245 419h3M413 193v2M134 480v4M499 205h2M349 347v4M188 388h3M481 272h4M463 483v2M481 290h4M149 270h4M356 481v4M221 243h2M478 352h3M230 328h2M461 473v3M331 225v2M369 488v3M179 157v4M351 439h4M218 501v3M432 356v3M347 374v4M402 491h3M222 236v3M479 165h3M157 159v2M478 406h2M422 136h2M192 310v2M159 172h4M263 453h4M201 307h3M499 114h3M341 479v4M247 504h4M416 226v2M244 476v2M308 244v3M199 110v2M468 139v3M204 305v4M149 485h3M390 296v2M368 124h4M242 162v4M160 257v4M177 121h4M383 428h3M381 313h3M415 210v2M254 98h4M422 429v2M223 486v2M288 496v3M396 430v2M468 403h2M202 354h2M490 185h4M202 463v2M220 328v3M135 382v2M158 297h3M401 340h3M413 191v4M363 328v2M443 429v4M494 368h2M129 185h2M458 440v3M453 453v3M185 328h4M381 206v2M470 465v2M209 226v2M170 282h4M436 440v2M285 244v4M286 491h4M491 195h3M157 477h4M460 471h3M175 457v4M399 92h3M158 140h4M342 266v3M159 183h4M422 159v3M258 168h3M131 265h4M326 251h4M486 323v2M483 339v2M238 428h3M226 286h3M462 390v4M222 195h3M137 126h3M164 191h2M290 315v2M236 247v3M319 134h2M458 366h3M484 330h4M128 486v2M480 213h2M462 213h4M189 268h2M379 461h3M411 365v2" stroke="#000" stroke-width="1.2" fill="none"/>
<path d="M80.5 59.5V510.5H600.5V59.5M80.5 60.5h-10.5M80.5 66.5h-5.5M80.5 72.5h-5.5M80.5 78.5h-5.5M80.5 84.5h-5.5M80.5 90.5h-5.5M80.5 96.5h-5.5M80.5 102.5h-5.5M80.5 108.5h-5.5M80.5 114.5h-5.5M80.5 120.5h-10.5M80.5 126.5h-5.5M80.5 132.5h-5.5M80.5 138.5h-5.5M80.5 144.5h-5.5M80.5 150.5h-5.5M80.5 156.5h-5.5M80.5 162.5h-5.5M80.5 168.5h-5.5M80.5 174.5h-5.5M80.5 180.5h-10.5M80.5 186.5h-5.5M80.5 192.5h-5.5M80.5 198.5h-5.5M80.5 204.5h-5.5M80.5 210.5h-5.5M80.5 216.5h-5.5M80.5 222.5h-5.5M80.5 228.5h-5.5M80.5 234.5h-5.5M80.5 240.5h-10.5M80.5 246.5h-5.5M80.5 252.5h-5.5M80.5 258.5h-5.5M80.5 264.5h-5.5M80.5 270.5h-5.5M80.5 276.5h-5.5M80.5 282.5h-5.5M80.5 288.5h-5.5M80.5 294.5h-5.5M80.5 300.5h-10.5M80.5 306.5h-5.5M80.5 312.5h-5.5M80.5 318.5h-5.5M80.5 324.5h-5.5M80.5 330.5h-5.5M80.5 336.5h-5.5M80.5 342.5h-5.5M80.5 348.5h-5.5M80.5 354.5h-5.5M80.5 361.5h-10.5M80.5 367.5h-5.5M80.5 373.5h-5.5M80.5 379.5h-5.5M80.5 385.5h-5.5M80.5 391.5h-5.5M80.5 397.5h-5.5M80.5 403.5h-5.5M80.5 409.5h-5.5M80.5 415.5h-5.5M80.5 421.5h-10.5M80.5 427.5h-5.5M80.5 433.5h-5.5M80.5 439.5h-5.5M80.5 445.5h-5.5M80.5 451.5h-5.5M80.5 457.5h-5.5M80.5 463.5h-5.5M80.5 469.5h-5.5M80.5 475.5h-5.5M80.5 481.5h-10.5M80.5 487.5h-5.5M80.5 493.5h-5.5M80.5 499.5h-5.5M80.5 505.5h-5.5M80.5 510.5v4.5M89.5 510.5v4.5M99.5 510.5v4.5M108.5 510.5v4.5M118.5 510.5v4.5M128.5 510.5v4.5M137.5 510.5v4.5M147.5 510.5v4.5M157.5 510.5v4.5M166.5 510.5v9.5M176.5 510.5v4.5M185.5 510.5v4.5M195.5 510.5v4.5M205.5 510.5v4.5M214.5 510.5v4.5M224.5 510.5v4.5M234.5 510.5v4.5M243.5 510.5v4.5M253.5 510.5v4.5M262.5 510.5v9.5M272.5 510.5v4.5M282.5 510.5v4.5M291.5 510.5v4.5M301.5 510.5v4.5M311.5 510.5v4.5M320.5 510.5v4.5M330.5 510.5v4.5M340.5 510.5v4.5M349.5 510.5v4.5M359.5 510.5v9.5M368.5 510.5v4.5M378.5 510.5v4.5M388.5 510.5v4.5M397.5 510.5v4.5M407.5 510.5v4.5M417.5 510.5v4.5M426.5 510.5v4.5M436.5 510.5v4.5M445.5 510.5v4.5M455.5 510.5v9.5M465.5 510.5v4.5M474.5 510.5v4.5M484.5 510.5v4.5M494.5 510.5v4.5M503.5 510.5v4.5M513.5 510.5v4.5M522.5 510.5v4.5M532.5 510.5v4.5M542.5 510.5v4.5M551.5 510.5v9.5M561.5 510.5v4.5M571.5 510.5v4.5M580.5 510.5v4.5M590.5 510.5v4.5M600.5 510.5v4.5M600.5 60.5h9.5M600.5 100.5h4.5M600.5 140.5h9.5M600.5 180.5h4.5M600.5 220.5h9.5M600.5 260.5h4.5M600.5 301.5h9.5M600.5 341.5h4.5M600.5 381.5h9.5M600.5 421.5h4.5M600.5 461.5h9.5M600.5 501.5h4.5" fill="none" stroke="#1c1c1c" stroke-width="1" shape-rendering="crispEdges"/>
<g xml:space="preserve"><text x="5" y="44.5" font-size="13.5" text-anchor="start">Orbit: 14157</text>
<text x="108.5" y="44.5" font-size="13.5" text-anchor="start">2015<tspan dx="0.3" textLength="8.7" lengthAdjust="spacingAndGlyphs">-</tspan><tspan dx="0.3">02</tspan><tspan dx="0.3" textLength="8.7" lengthAdjust="spacingAndGlyphs">-</tspan><tspan dx="0.3">27 (Day 058) 06:18:32.196</tspan></text>
<text x="380" y="44.5" font-size="13.5" text-anchor="start">SZA: 147.69</text>
<text x="483" y="44.5" font-size="13.5" text-anchor="start">Altitude:</text>
<text x="587" y="44.5" font-size="13.5" text-anchor="end">583</text>
<text x="608" y="44.5" font-size="13.5" text-anchor="start">Lat:</text>
<text x="679" y="44.5" font-size="13.5" text-anchor="end">26.52</text>
<text x="700" y="44.5" font-size="13.5" text-anchor="start">Long: 122.24</text>
</g>
<text x="66" y="65.1" font-size="13" text-anchor="end">0.</text>
<text x="66" y="125.1" font-size="13" text-anchor="end">1.</text>
<text x="66" y="185.1" font-size="13" text-anchor="end">2.</text>
<text x="66" y="245.1" font-size="13" text-anchor="end">3.</text>
<text x="66" y="305.1" font-size="13" text-anchor="end">4.</text>
<text x="66" y="366.1" font-size="13" text-anchor="end">5.</text>
<text x="66" y="426.1" font-size="13" text-anchor="end">6.</text>
<text x="66" y="486.1" font-size="13" text-anchor="end">7.</text>
<text x="166.2" y="537" font-size="13" text-anchor="middle">1.</text>
<text x="262.2" y="537" font-size="13" text-anchor="middle">2.</text>
<text x="359.2" y="537" font-size="13" text-anchor="middle">3.</text>
<text x="455.2" y="537" font-size="13" text-anchor="middle">4.</text>
<text x="551.2" y="537" font-size="13" text-anchor="middle">5.</text>
<text x="613" y="65.1" font-size="13" text-anchor="start">0.</text>
<text x="613" y="145.1" font-size="13" text-anchor="start">200.</text>
<text x="613" y="225.1" font-size="13" text-anchor="start">400.</text>
<text x="613" y="306.1" font-size="13" text-anchor="start">600.</text>
<text x="613" y="386.1" font-size="13" text-anchor="start">800.</text>
<text x="613" y="466.1" font-size="13" text-anchor="start">1000.</text>
<text x="348.5" y="558" font-size="13.5" text-anchor="middle" letter-spacing="0.2">Frequency (MHz)</text>
<text font-size="13.5" text-anchor="middle" transform="translate(35.5,277.5) rotate(-90)">Time Delay (ms)</text>
<text font-size="13.5" text-anchor="middle" transform="translate(653,284.5) rotate(90)" letter-spacing="0.15">Apparent Range (km)</text>
<defs><linearGradient id="cb" x1="0" y1="0" x2="0" y2="1"><stop offset="0" stop-color="#ff0000"/><stop offset="0.125" stop-color="#ff4c00"/><stop offset="0.25" stop-color="#ffa200"/><stop offset="0.375" stop-color="#ffff00"/><stop offset="0.5" stop-color="#0cff00"/><stop offset="0.625" stop-color="#00f050"/><stop offset="0.75" stop-color="#00ffff"/><stop offset="0.875" stop-color="#0000ff"/><stop offset="1" stop-color="#000084"/></linearGradient></defs>
<rect x="740" y="60" width="21" height="450" fill="url(#cb)"/>
<path d="M739.5 59.5V510.5M760.5 59.5V510.5M739.5 509.5H760.5M730 60.5H739.5M760.5 60.5H770M735 99.5H739.5M760.5 99.5H765M735 89.5H739.5M760.5 89.5H765M735 82.5H739.5M760.5 82.5H765M735 76.5H739.5M760.5 76.5H765M735 72.5H739.5M760.5 72.5H765M735 68.5H739.5M760.5 68.5H765M735 65.5H739.5M760.5 65.5H765M735 62.5H739.5M760.5 62.5H765M730 116.5H739.5M760.5 116.5H770M735 155.5H739.5M760.5 155.5H765M735 145.5H739.5M760.5 145.5H765M735 138.5H739.5M760.5 138.5H765M735 133.5H739.5M760.5 133.5H765M735 128.5H739.5M760.5 128.5H765M735 124.5H739.5M760.5 124.5H765M735 121.5H739.5M760.5 121.5H765M735 118.5H739.5M760.5 118.5H765M730 172.5H739.5M760.5 172.5H770M735 211.5H739.5M760.5 211.5H765M735 201.5H739.5M760.5 201.5H765M735 194.5H739.5M760.5 194.5H765M735 189.5H739.5M760.5 189.5H765M735 184.5H739.5M760.5 184.5H765M735 181.5H739.5M760.5 181.5H765M735 177.5H739.5M760.5 177.5H765M735 175.5H739.5M760.5 175.5H765M730 228.5H739.5M760.5 228.5H770M735 268.5H739.5M760.5 268.5H765M735 258.5H739.5M760.5 258.5H765M735 251.5H739.5M760.5 251.5H765M735 245.5H739.5M760.5 245.5H765M735 241.5H739.5M760.5 241.5H765M735 237.5H739.5M760.5 237.5H765M735 234.5H739.5M760.5 234.5H765M735 231.5H739.5M760.5 231.5H765M730 285.5H739.5M760.5 285.5H770M735 324.5H739.5M760.5 324.5H765M735 314.5H739.5M760.5 314.5H765M735 307.5H739.5M760.5 307.5H765M735 301.5H739.5M760.5 301.5H765M735 297.5H739.5M760.5 297.5H765M735 293.5H739.5M760.5 293.5H765M735 290.5H739.5M760.5 290.5H765M735 287.5H739.5M760.5 287.5H765M730 341.5H739.5M760.5 341.5H770M735 380.5H739.5M760.5 380.5H765M735 370.5H739.5M760.5 370.5H765M735 363.5H739.5M760.5 363.5H765M735 358.5H739.5M760.5 358.5H765M735 353.5H739.5M760.5 353.5H765M735 349.5H739.5M760.5 349.5H765M735 346.5H739.5M760.5 346.5H765M735 343.5H739.5M760.5 343.5H765M730 397.5H739.5M760.5 397.5H770M735 436.5H739.5M760.5 436.5H765M735 426.5H739.5M760.5 426.5H765M735 419.5H739.5M760.5 419.5H765M735 414.5H739.5M760.5 414.5H765M735 409.5H739.5M760.5 409.5H765M735 406.5H739.5M760.5 406.5H765M735 402.5H739.5M760.5 402.5H765M735 400.5H739.5M760.5 400.5H765M730 453.5H739.5M760.5 453.5H770M735 493.5H739.5M760.5 493.5H765M735 483.5H739.5M760.5 483.5H765M735 476.5H739.5M760.5 476.5H765M735 470.5H739.5M760.5 470.5H765M735 466.5H739.5M760.5 466.5H765M735 462.5H739.5M760.5 462.5H765M735 459.5H739.5M760.5 459.5H765M735 456.5H739.5M760.5 456.5H765M730 510.5H739.5M760.5 510.5H770" fill="none" stroke="#1c1c1c" stroke-width="1" shape-rendering="crispEdges"/>
<text font-size="13.5" text-anchor="end" x="730" y="67.5">10<tspan dy="-7" dx="0.3" font-size="13" textLength="8.1" lengthAdjust="spacingAndGlyphs">-</tspan><tspan dx="0.3" font-size="13">9</tspan></text>
<text font-size="13.5" text-anchor="end" x="730" y="123.75">10<tspan dy="-7" dx="0.3" font-size="13" textLength="8.1" lengthAdjust="spacingAndGlyphs">-</tspan><tspan dx="0.3" font-size="13">10</tspan></text>
<text font-size="13.5" text-anchor="end" x="730" y="180">10<tspan dy="-7" dx="0.3" font-size="13" textLength="8.1" lengthAdjust="spacingAndGlyphs">-</tspan><tspan dx="0.3" font-size="13">11</tspan></text>
<text font-size="13.5" text-anchor="end" x="730" y="236.25">10<tspan dy="-7" dx="0.3" font-size="13" textLength="8.1" lengthAdjust="spacingAndGlyphs">-</tspan><tspan dx="0.3" font-size="13">12</tspan></text>
<text font-size="13.5" text-anchor="end" x="730" y="292.5">10<tspan dy="-7" dx="0.3" font-size="13" textLength="8.1" lengthAdjust="spacingAndGlyphs">-</tspan><tspan dx="0.3" font-size="13">13</tspan></text>
<text font-size="13.5" text-anchor="end" x="730" y="348.75">10<tspan dy="-7" dx="0.3" font-size="13" textLength="8.1" lengthAdjust="spacingAndGlyphs">-</tspan><tspan dx="0.3" font-size="13">14</tspan></text>
<text font-size="13.5" text-anchor="end" x="730" y="405">10<tspan dy="-7" dx="0.3" font-size="13" textLength="8.1" lengthAdjust="spacingAndGlyphs">-</tspan><tspan dx="0.3" font-size="13">15</tspan></text>
<text font-size="13.5" text-anchor="end" x="730" y="461.25">10<tspan dy="-7" dx="0.3" font-size="13" textLength="8.1" lengthAdjust="spacingAndGlyphs">-</tspan><tspan dx="0.3" font-size="13">16</tspan></text>
<text font-size="13.5" text-anchor="end" x="730" y="517.5">10<tspan dy="-7" dx="0.3" font-size="13" textLength="8.1" lengthAdjust="spacingAndGlyphs">-</tspan><tspan dx="0.3" font-size="13">17</tspan></text>
<text font-size="13.5" y="551.5"><tspan x="707">V</tspan><tspan x="719.6" dy="-4.6" font-size="8" font-weight="bold">2</tspan><tspan x="727.3" dy="4.6">m</tspan><tspan x="744.9" dy="-4.6" font-size="8" font-weight="bold">-2</tspan><tspan x="757.4" dy="4.6">Hz</tspan><tspan x="779.6" dy="-4.6" font-size="8" font-weight="bold">-1</tspan></text>
<text font-size="6.5" x="725.5" y="581.5">UIOWA 20151113</text>
</svg>
</body></html>
